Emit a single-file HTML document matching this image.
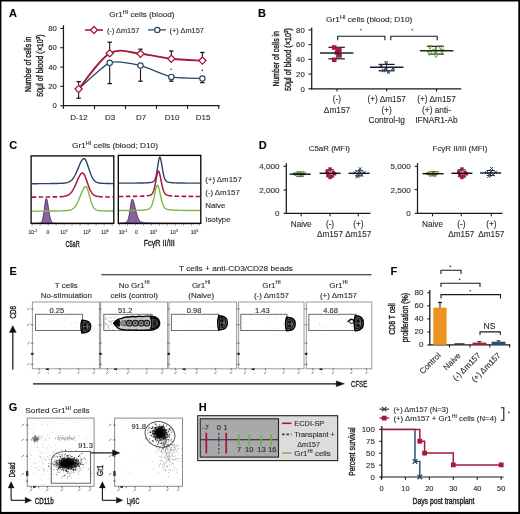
<!DOCTYPE html>
<html><head><meta charset="utf-8"><style>
html,body{margin:0;padding:0;background:#fff;}
svg{display:block;font-family:"Liberation Sans", sans-serif;filter:blur(0.4px);}
text{stroke:#333;stroke-width:0.12px;}
text.c{stroke:#222;stroke-width:0.4px;}
</style></head><body>
<svg width="520" height="514" viewBox="0 0 520 514">
<defs><filter id="bl" x="-50%" y="-50%" width="200%" height="200%"><feGaussianBlur stdDeviation="1.6"/></filter></defs>
<rect x="0" y="0" width="520" height="514" fill="#000" stroke="none" stroke-width="1" />
<rect x="1.4" y="1.5" width="516.9" height="510.4" fill="#fff" stroke="none" stroke-width="1" />
<text x="9" y="17.2" font-size="11" font-weight="bold" fill="#000" >A</text>
<text x="109.2" y="16.9" font-size="7.4" textLength="65.3" lengthAdjust="spacingAndGlyphs" fill="#2a2a2a" >Gr1<tspan font-size="4.88" dy="-2.96">HI</tspan><tspan dy="2.96"> cells (blood)</tspan></text>
<line x1="85" y1="30" x2="103" y2="30" stroke="#a8173c" stroke-width="1.6" />
<path d="M94,26.5 L97.5,30 L94,33.5 L90.5,30 Z" stroke="#a8173c" stroke-width="1.3" fill="#fff" />
<text x="107" y="32.6" font-size="7.4" fill="#2a2a2a" >(-) Δm157</text>
<line x1="148" y1="29.9" x2="166" y2="29.9" stroke="#2b4468" stroke-width="1.25" />
<circle cx="157.3" cy="29.9" r="2.6" fill="#fff" stroke="#2b4468" stroke-width="1.15" />
<text x="169.6" y="32.6" font-size="7.4" fill="#2a2a2a" >(+) Δm157</text>
<line x1="63.45" y1="25.3" x2="63.45" y2="108.8" stroke="#1a1a1a" stroke-width="1.25" />
<line x1="62.8" y1="105.7" x2="219.5" y2="105.7" stroke="#1a1a1a" stroke-width="1.2" />
<line x1="60.3" y1="105.7" x2="63.4" y2="105.7" stroke="#1a1a1a" stroke-width="1.1" />
<text x="56.8" y="108.4" font-size="7.7" text-anchor="end" fill="#2a2a2a" >0</text>
<line x1="60.3" y1="86.38" x2="63.4" y2="86.38" stroke="#1a1a1a" stroke-width="1.1" />
<text x="56.8" y="89.08" font-size="7.7" text-anchor="end" fill="#2a2a2a" >20</text>
<line x1="60.3" y1="67.06" x2="63.4" y2="67.06" stroke="#1a1a1a" stroke-width="1.1" />
<text x="56.8" y="69.76" font-size="7.7" text-anchor="end" fill="#2a2a2a" >40</text>
<line x1="60.3" y1="47.74" x2="63.4" y2="47.74" stroke="#1a1a1a" stroke-width="1.1" />
<text x="56.8" y="50.440000000000005" font-size="7.7" text-anchor="end" fill="#2a2a2a" >60</text>
<line x1="60.3" y1="28.42" x2="63.4" y2="28.42" stroke="#1a1a1a" stroke-width="1.1" />
<text x="56.8" y="31.12" font-size="7.7" text-anchor="end" fill="#2a2a2a" >80</text>
<line x1="94.5" y1="105.7" x2="94.5" y2="109" stroke="#1a1a1a" stroke-width="1.1" />
<line x1="125.5" y1="105.7" x2="125.5" y2="109" stroke="#1a1a1a" stroke-width="1.1" />
<line x1="156.5" y1="105.7" x2="156.5" y2="109" stroke="#1a1a1a" stroke-width="1.1" />
<line x1="187.5" y1="105.7" x2="187.5" y2="109" stroke="#1a1a1a" stroke-width="1.1" />
<line x1="218.8" y1="105.7" x2="218.8" y2="109" stroke="#1a1a1a" stroke-width="1.1" />
<text x="79" y="119.6" font-size="8" text-anchor="middle" fill="#2a2a2a" >D-12</text>
<text x="110" y="119.6" font-size="8" text-anchor="middle" fill="#2a2a2a" >D3</text>
<text x="141" y="119.6" font-size="8" text-anchor="middle" fill="#2a2a2a" >D7</text>
<text x="172" y="119.6" font-size="8" text-anchor="middle" fill="#2a2a2a" >D10</text>
<text x="203" y="119.6" font-size="8" text-anchor="middle" fill="#2a2a2a" >D15</text>
<text class="c" transform="translate(31.2,64.3) rotate(-90)" font-size="9.6" text-anchor="middle" textLength="55.5" lengthAdjust="spacingAndGlyphs" fill="#2a2a2a">Number of cells in</text>
<text class="c" transform="translate(43.4,65.6) rotate(-90)" font-size="9.6" text-anchor="middle" textLength="62.5" lengthAdjust="spacingAndGlyphs" fill="#2a2a2a">50μl of blood (×10<tspan font-size="6" dy="-3">3</tspan><tspan dy="3">)</tspan></text>
<line x1="78.6" y1="89" x2="78.6" y2="81.6" stroke="#1a1a1a" stroke-width="1.1" />
<line x1="76.39999999999999" y1="81.6" x2="80.8" y2="81.6" stroke="#1a1a1a" stroke-width="1.3" />
<line x1="78.6" y1="89" x2="78.6" y2="98.2" stroke="#1a1a1a" stroke-width="1.1" />
<line x1="76.39999999999999" y1="98.2" x2="80.8" y2="98.2" stroke="#1a1a1a" stroke-width="1.3" />
<line x1="109.7" y1="53.3" x2="109.7" y2="42.2" stroke="#1a1a1a" stroke-width="1.1" />
<line x1="107.5" y1="42.2" x2="111.9" y2="42.2" stroke="#1a1a1a" stroke-width="1.3" />
<line x1="109.7" y1="62.8" x2="109.7" y2="83.6" stroke="#1a1a1a" stroke-width="1.1" />
<line x1="107.5" y1="83.6" x2="111.9" y2="83.6" stroke="#1a1a1a" stroke-width="1.3" />
<line x1="140.5" y1="53.8" x2="140.5" y2="49.2" stroke="#1a1a1a" stroke-width="1.1" />
<line x1="138.3" y1="49.2" x2="142.7" y2="49.2" stroke="#1a1a1a" stroke-width="1.3" />
<line x1="140.5" y1="65.6" x2="140.5" y2="81.2" stroke="#1a1a1a" stroke-width="1.1" />
<line x1="138.3" y1="81.2" x2="142.7" y2="81.2" stroke="#1a1a1a" stroke-width="1.3" />
<line x1="171.3" y1="58.8" x2="171.3" y2="51.0" stroke="#1a1a1a" stroke-width="1.1" />
<line x1="169.10000000000002" y1="51.0" x2="173.5" y2="51.0" stroke="#1a1a1a" stroke-width="1.3" />
<line x1="171.3" y1="76.9" x2="171.3" y2="81.2" stroke="#1a1a1a" stroke-width="1.1" />
<line x1="169.10000000000002" y1="81.2" x2="173.5" y2="81.2" stroke="#1a1a1a" stroke-width="1.3" />
<line x1="202.4" y1="60.6" x2="202.4" y2="52.5" stroke="#1a1a1a" stroke-width="1.1" />
<line x1="200.20000000000002" y1="52.5" x2="204.6" y2="52.5" stroke="#1a1a1a" stroke-width="1.3" />
<line x1="202.4" y1="78.5" x2="202.4" y2="82.6" stroke="#1a1a1a" stroke-width="1.1" />
<line x1="200.20000000000002" y1="82.6" x2="204.6" y2="82.6" stroke="#1a1a1a" stroke-width="1.3" />
<path d="M78.60,89.00 C81.71,86.38 103.51,65.14 109.70,62.80 C115.89,60.46 134.34,64.19 140.50,65.60 C146.66,67.01 165.11,75.61 171.30,76.90 C177.49,78.19 199.29,78.34 202.40,78.50" stroke="#2b4468" stroke-width="1.25" fill="none" />
<path d="M78.60,89.00 C83.78,83.05 99.38,59.17 109.70,53.30 C120.02,47.43 130.23,52.88 140.50,53.80 C150.77,54.72 160.98,57.67 171.30,58.80 C181.62,59.93 197.22,60.30 202.40,60.60" stroke="#a8173c" stroke-width="1.9" fill="none" />
<circle cx="109.7" cy="62.8" r="2.7" fill="#fff" stroke="#2b4468" stroke-width="1.15" />
<circle cx="140.5" cy="65.6" r="2.7" fill="#fff" stroke="#2b4468" stroke-width="1.15" />
<circle cx="171.3" cy="76.9" r="2.7" fill="#fff" stroke="#2b4468" stroke-width="1.15" />
<circle cx="202.4" cy="78.5" r="2.7" fill="#fff" stroke="#2b4468" stroke-width="1.15" />
<path d="M78.6,85.4 L82.19999999999999,89 L78.6,92.6 L75.0,89 Z" stroke="#a8173c" stroke-width="1.3" fill="#fff" />
<path d="M109.7,49.699999999999996 L113.3,53.3 L109.7,56.9 L106.10000000000001,53.3 Z" stroke="#a8173c" stroke-width="1.3" fill="#fff" />
<path d="M140.5,50.199999999999996 L144.1,53.8 L140.5,57.4 L136.9,53.8 Z" stroke="#a8173c" stroke-width="1.3" fill="#fff" />
<path d="M171.3,55.199999999999996 L174.9,58.8 L171.3,62.4 L167.70000000000002,58.8 Z" stroke="#a8173c" stroke-width="1.3" fill="#fff" />
<path d="M202.4,57.0 L206.0,60.6 L202.4,64.2 L198.8,60.6 Z" stroke="#a8173c" stroke-width="1.3" fill="#fff" />
<circle cx="171.1" cy="69.2" r="0.8" fill="#333" stroke="none" stroke-width="1" />
<circle cx="202.2" cy="70.4" r="0.8" fill="#333" stroke="none" stroke-width="1" />
<text x="258" y="17.2" font-size="11" font-weight="bold" fill="#000" >B</text>
<text x="326.1" y="22.2" font-size="7.2" textLength="86.2" lengthAdjust="spacingAndGlyphs" fill="#2a2a2a" >Gr1<tspan font-size="4.75" dy="-2.88">HI</tspan><tspan dy="2.88"> cells (blood; D10)</tspan></text>
<line x1="311.7" y1="27.4" x2="311.7" y2="89.4" stroke="#1a1a1a" stroke-width="1.25" />
<line x1="311" y1="88.8" x2="461.3" y2="88.8" stroke="#1a1a1a" stroke-width="1.2" />
<line x1="308.4" y1="88.8" x2="311.7" y2="88.8" stroke="#1a1a1a" stroke-width="1.1" />
<text x="304.8" y="91.5" font-size="7.8" text-anchor="end" fill="#2a2a2a" >0</text>
<line x1="308.4" y1="74.08" x2="311.7" y2="74.08" stroke="#1a1a1a" stroke-width="1.1" />
<text x="304.8" y="76.78" font-size="7.8" text-anchor="end" fill="#2a2a2a" >20</text>
<line x1="308.4" y1="59.36" x2="311.7" y2="59.36" stroke="#1a1a1a" stroke-width="1.1" />
<text x="304.8" y="62.06" font-size="7.8" text-anchor="end" fill="#2a2a2a" >40</text>
<line x1="308.4" y1="44.64" x2="311.7" y2="44.64" stroke="#1a1a1a" stroke-width="1.1" />
<text x="304.8" y="47.34" font-size="7.8" text-anchor="end" fill="#2a2a2a" >60</text>
<line x1="308.4" y1="29.92" x2="311.7" y2="29.92" stroke="#1a1a1a" stroke-width="1.1" />
<text x="304.8" y="32.620000000000005" font-size="7.8" text-anchor="end" fill="#2a2a2a" >80</text>
<line x1="337" y1="88.8" x2="337" y2="91.6" stroke="#1a1a1a" stroke-width="1.1" />
<line x1="386.7" y1="88.8" x2="386.7" y2="91.6" stroke="#1a1a1a" stroke-width="1.1" />
<line x1="436.5" y1="88.8" x2="436.5" y2="91.6" stroke="#1a1a1a" stroke-width="1.1" />
<text class="c" transform="translate(278.6,58.8) rotate(-90)" font-size="9" text-anchor="middle" textLength="55.5" lengthAdjust="spacingAndGlyphs" fill="#2a2a2a">Number of cells in</text>
<text class="c" transform="translate(291,59.6) rotate(-90)" font-size="9" text-anchor="middle" textLength="63" lengthAdjust="spacingAndGlyphs" fill="#2a2a2a">50μl of blood (×10<tspan font-size="5.6" dy="-2.8">3</tspan><tspan dy="2.8">)</tspan></text>
<path d="M337.7,40.3 V36.3 H384.9 V40.3" stroke="#1a1a1a" stroke-width="1.1" fill="none" />
<path d="M390.8,40.3 V36.3 H437.2 V40.3" stroke="#1a1a1a" stroke-width="1.1" fill="none" />
<circle cx="361" cy="29.8" r="0.8" fill="#333" stroke="none" stroke-width="1" />
<circle cx="412.3" cy="29.8" r="0.8" fill="#333" stroke="none" stroke-width="1" />
<line x1="336.8" y1="47.3" x2="336.8" y2="58.8" stroke="#1a1a1a" stroke-width="1" />
<line x1="328.4" y1="47.3" x2="344.9" y2="47.3" stroke="#1a1a1a" stroke-width="1.2" />
<line x1="328.4" y1="58.8" x2="344.9" y2="58.8" stroke="#1a1a1a" stroke-width="1.2" />
<rect x="331.9" y="45.2" width="4.6" height="4.6" fill="#a8173c" stroke="none" stroke-width="1" />
<rect x="337.0" y="47.5" width="4.6" height="4.6" fill="#a8173c" stroke="none" stroke-width="1" />
<rect x="337.2" y="53.1" width="4.6" height="4.6" fill="#a8173c" stroke="none" stroke-width="1" />
<rect x="331.9" y="57.5" width="4.6" height="4.6" fill="#a8173c" stroke="none" stroke-width="1" />
<rect x="334.7" y="50.2" width="4.6" height="4.6" fill="#a8173c" stroke="none" stroke-width="1" />
<line x1="320" y1="53" x2="353.4" y2="53" stroke="#1a2620" stroke-width="1.4" />
<line x1="386.6" y1="64.4" x2="386.6" y2="70.8" stroke="#1a1a1a" stroke-width="1" />
<line x1="378.5" y1="64.4" x2="394.6" y2="64.4" stroke="#1a1a1a" stroke-width="1.2" />
<line x1="378.5" y1="70.8" x2="394.6" y2="70.8" stroke="#1a1a1a" stroke-width="1.2" />
<line x1="384.59999999999997" y1="61.199999999999996" x2="387.8" y2="64.39999999999999" stroke="#2b4468" stroke-width="1.1" />
<line x1="384.59999999999997" y1="64.39999999999999" x2="387.8" y2="61.199999999999996" stroke="#2b4468" stroke-width="1.1" />
<line x1="384.4" y1="67.4" x2="387.6" y2="70.6" stroke="#2b4468" stroke-width="1.1" />
<line x1="384.4" y1="70.6" x2="387.6" y2="67.4" stroke="#2b4468" stroke-width="1.1" />
<line x1="391.4" y1="67.0" x2="394.6" y2="70.19999999999999" stroke="#2b4468" stroke-width="1.1" />
<line x1="391.4" y1="70.19999999999999" x2="394.6" y2="67.0" stroke="#2b4468" stroke-width="1.1" />
<line x1="379.59999999999997" y1="64.4" x2="382.8" y2="67.6" stroke="#2b4468" stroke-width="1.1" />
<line x1="379.59999999999997" y1="67.6" x2="382.8" y2="64.4" stroke="#2b4468" stroke-width="1.1" />
<line x1="386.9" y1="70.4" x2="390.1" y2="73.6" stroke="#2b4468" stroke-width="1.1" />
<line x1="386.9" y1="73.6" x2="390.1" y2="70.4" stroke="#2b4468" stroke-width="1.1" />
<line x1="381.9" y1="68.9" x2="385.1" y2="72.1" stroke="#2b4468" stroke-width="1.1" />
<line x1="381.9" y1="72.1" x2="385.1" y2="68.9" stroke="#2b4468" stroke-width="1.1" />
<line x1="370" y1="67.3" x2="403.5" y2="67.3" stroke="#15202c" stroke-width="1.4" />
<line x1="436" y1="46.3" x2="436" y2="54.1" stroke="#1a1a1a" stroke-width="1" />
<line x1="427" y1="46.3" x2="443.9" y2="46.3" stroke="#1a1a1a" stroke-width="1.2" />
<line x1="428.2" y1="54.1" x2="443.9" y2="54.1" stroke="#1a1a1a" stroke-width="1.2" />
<path d="M427.7,45.46 H432.09999999999997 L429.9,49.2 Z" stroke="#6aa84f" stroke-width="1.0" fill="none" />
<path d="M432.6,49.26 H437.0 L434.8,53.0 Z" stroke="#6aa84f" stroke-width="1.0" fill="none" />
<path d="M438.40000000000003,45.660000000000004 H442.8 L440.6,49.400000000000006 Z" stroke="#6aa84f" stroke-width="1.0" fill="none" />
<path d="M433.8,53.96 H438.2 L436,57.7 Z" stroke="#6aa84f" stroke-width="1.0" fill="none" />
<path d="M427.40000000000003,51.660000000000004 H431.8 L429.6,55.400000000000006 Z" stroke="#6aa84f" stroke-width="1.0" fill="none" />
<path d="M439.8,49.46 H444.2 L442,53.2 Z" stroke="#6aa84f" stroke-width="1.0" fill="none" />
<line x1="420" y1="50.8" x2="453.4" y2="50.8" stroke="#1c2a14" stroke-width="1.4" />
<text x="337" y="102.4" font-size="8.3" text-anchor="middle" fill="#2a2a2a" >(-)</text>
<text x="337" y="112.7" font-size="8.3" text-anchor="middle" fill="#2a2a2a" >Δm157</text>
<text x="386.7" y="102.4" font-size="8.3" text-anchor="middle" fill="#2a2a2a" >(+) Δm157</text>
<text x="386.7" y="112.7" font-size="8.3" text-anchor="middle" fill="#2a2a2a" >(+)</text>
<text x="386.7" y="123.0" font-size="8.3" text-anchor="middle" fill="#2a2a2a" >Control-Ig</text>
<text x="436.5" y="102.4" font-size="8.3" text-anchor="middle" fill="#2a2a2a" >(+) Δm157</text>
<text x="436.5" y="112.7" font-size="8.3" text-anchor="middle" fill="#2a2a2a" >(+) anti-</text>
<text x="436.5" y="123.0" font-size="8.3" text-anchor="middle" fill="#2a2a2a" >IFNAR1-Ab</text>
<text x="9.2" y="149" font-size="11" font-weight="bold" fill="#000" >C</text>
<text x="72.1" y="148.1" font-size="7.2" textLength="85.8" lengthAdjust="spacingAndGlyphs" fill="#2a2a2a" >Gr1<tspan font-size="4.75" dy="-2.88">HI</tspan><tspan dy="2.88"> cells (blood; D10)</tspan></text>
<rect x="31.1" y="155.9" width="82.69999999999999" height="67.5" fill="#fff" stroke="none" stroke-width="1" />
<path d="M31.60,223.34 L32.11,223.33 L32.62,223.33 L33.13,223.32 L33.64,223.32 L34.15,223.31 L34.66,223.30 L35.17,223.30 L35.69,223.29 L36.20,223.27 L36.71,223.26 L37.22,223.25 L37.73,223.23 L38.24,223.20 L38.75,223.17 L39.26,223.13 L39.77,223.06 L40.28,222.93 L40.79,222.69 L41.30,222.25 L41.81,221.49 L42.32,220.25 L42.83,218.36 L43.34,215.73 L43.86,212.38 L44.37,208.52 L44.88,204.59 L45.39,201.19 L45.90,198.97 L46.41,198.43 L46.92,199.40 L47.43,201.55 L47.94,204.53 L48.45,207.92 L48.96,211.31 L49.47,214.39 L49.98,216.98 L50.49,219.01 L51.00,220.49 L51.51,221.52 L52.02,222.19 L52.54,222.60 L53.05,222.85 L53.56,223.00 L54.07,223.09 L54.58,223.14 L55.09,223.18 L55.60,223.20 L56.11,223.22 L56.62,223.24 L57.13,223.25 L57.64,223.27 L58.15,223.28 L58.66,223.29 L59.17,223.30 L59.68,223.30 L60.19,223.31 L60.71,223.32 L61.22,223.32 L61.73,223.33 L62.24,223.33 L62.75,223.33 L63.26,223.34 L63.77,223.34 L64.28,223.35 L64.79,223.35 L65.30,223.35 L65.81,223.35 L66.32,223.36 L66.83,223.36 L67.34,223.36 L67.85,223.36 L68.37,223.36 L68.88,223.36 L69.39,223.37 L69.90,223.37 L70.41,223.37 L70.92,223.37 L71.43,223.37 L71.94,223.37 L72.45,223.37 L72.96,223.37 L73.47,223.38 L73.98,223.38 L74.49,223.38 L75.00,223.38 L75.51,223.38 L76.02,223.38 L76.53,223.38 L77.05,223.38 L77.56,223.38 L78.07,223.38 L78.58,223.38 L79.09,223.38 L79.60,223.38 L80.11,223.38 L80.62,223.38 L81.13,223.39 L81.64,223.39 L82.15,223.39 L82.66,223.39 L83.17,223.39 L83.68,223.39 L84.19,223.39 L84.70,223.39 L85.22,223.39 L85.73,223.39 L86.24,223.39 L86.75,223.39 L87.26,223.39 L87.77,223.39 L88.28,223.39 L88.79,223.39 L89.30,223.39 L89.81,223.39 L90.32,223.39 L90.83,223.39 L91.34,223.39 L91.85,223.39 L92.36,223.39 L92.88,223.39 L93.39,223.39 L93.90,223.39 L94.41,223.39 L94.92,223.39 L95.43,223.39 L95.94,223.39 L96.45,223.39 L96.96,223.39 L97.47,223.39 L97.98,223.39 L98.49,223.39 L99.00,223.39 L99.51,223.39 L100.02,223.39 L100.53,223.39 L101.04,223.39 L101.56,223.39 L102.07,223.39 L102.58,223.39 L103.09,223.39 L103.60,223.39 L104.11,223.39 L104.62,223.39 L105.13,223.39 L105.64,223.39 L106.15,223.39 L106.66,223.40 L107.17,223.40 L107.68,223.40 L108.19,223.40 L108.70,223.40 L109.21,223.40 L109.73,223.40 L110.24,223.40 L110.75,223.40 L111.26,223.40 L111.77,223.40 L112.28,223.40 L112.79,223.40 L113.30,223.40 L113.3,223.4 L31.6,223.4 Z" stroke="#4b2a63" stroke-width="0.9" fill="#8a62a4" />
<path d="M31.60,183.70 L32.11,183.70 L32.62,183.70 L33.13,183.70 L33.64,183.69 L34.15,183.69 L34.66,183.69 L35.17,183.69 L35.69,183.69 L36.20,183.68 L36.71,183.68 L37.22,183.68 L37.73,183.68 L38.24,183.67 L38.75,183.67 L39.26,183.67 L39.77,183.66 L40.28,183.66 L40.79,183.66 L41.30,183.66 L41.81,183.65 L42.32,183.65 L42.83,183.64 L43.34,183.64 L43.86,183.64 L44.37,183.63 L44.88,183.63 L45.39,183.62 L45.90,183.62 L46.41,183.61 L46.92,183.61 L47.43,183.60 L47.94,183.60 L48.45,183.59 L48.96,183.59 L49.47,183.58 L49.98,183.58 L50.49,183.57 L51.00,183.56 L51.51,183.55 L52.02,183.55 L52.54,183.54 L53.05,183.53 L53.56,183.52 L54.07,183.51 L54.58,183.50 L55.09,183.49 L55.60,183.48 L56.11,183.47 L56.62,183.46 L57.13,183.45 L57.64,183.44 L58.15,183.42 L58.66,183.41 L59.17,183.39 L59.68,183.37 L60.19,183.35 L60.71,183.33 L61.22,183.31 L61.73,183.28 L62.24,183.26 L62.75,183.22 L63.26,183.19 L63.77,183.14 L64.28,183.09 L64.79,183.04 L65.30,182.97 L65.81,182.89 L66.32,182.79 L66.83,182.68 L67.34,182.55 L67.85,182.40 L68.37,182.21 L68.88,182.00 L69.39,181.74 L69.90,181.45 L70.41,181.11 L70.92,180.72 L71.43,180.27 L71.94,179.76 L72.45,179.19 L72.96,178.54 L73.47,177.83 L73.98,177.04 L74.49,176.17 L75.00,175.23 L75.51,174.23 L76.02,173.15 L76.53,172.02 L77.05,170.84 L77.56,169.63 L78.07,168.39 L78.58,167.14 L79.09,165.90 L79.60,164.69 L80.11,163.53 L80.62,162.44 L81.13,161.45 L81.64,160.57 L82.15,159.83 L82.66,159.26 L83.17,158.85 L83.68,158.64 L84.19,158.62 L84.70,158.89 L85.22,159.44 L85.73,160.26 L86.24,161.31 L86.75,162.55 L87.26,163.93 L87.77,165.42 L88.28,166.96 L88.79,168.52 L89.30,170.06 L89.81,171.56 L90.32,172.99 L90.83,174.34 L91.34,175.58 L91.85,176.70 L92.36,177.72 L92.88,178.61 L93.39,179.40 L93.90,180.08 L94.41,180.66 L94.92,181.15 L95.43,181.56 L95.94,181.90 L96.45,182.18 L96.96,182.41 L97.47,182.60 L97.98,182.75 L98.49,182.88 L99.00,182.98 L99.51,183.06 L100.02,183.13 L100.53,183.18 L101.04,183.23 L101.56,183.27 L102.07,183.30 L102.58,183.33 L103.09,183.36 L103.60,183.38 L104.11,183.40 L104.62,183.42 L105.13,183.44 L105.64,183.45 L106.15,183.47 L106.66,183.48 L107.17,183.50 L107.68,183.51 L108.19,183.52 L108.70,183.53 L109.21,183.54 L109.73,183.55 L110.24,183.56 L110.75,183.57 L111.26,183.58 L111.77,183.58 L112.28,183.59 L112.79,183.60 L113.30,183.60" stroke="#2b4468" stroke-width="1.4" fill="none" />
<path d="M31.60,197.10 L32.38,197.10 L33.16,197.09 L33.93,197.09 L34.71,197.09 L35.49,197.08 L36.27,197.08 L37.04,197.08 L37.82,197.07 L38.60,197.07 L39.38,197.06 L40.15,197.06 L40.93,197.05 L41.71,197.05 L42.48,197.04 L43.26,197.04 L44.04,197.03 L44.82,197.02 L45.59,197.02 L46.37,197.01 L47.15,197.00 L47.93,196.99 L48.70,196.98 L49.48,196.97 L50.26,196.96 L51.04,196.95 L51.81,196.94 L52.59,196.92 L53.37,196.91 L54.15,196.90 L54.92,196.88 L55.70,196.86 L56.48,196.84 L57.26,196.82 L58.04,196.79 L58.81,196.77 L59.59,196.74 L60.37,196.70 L61.14,196.65 L61.92,196.60 L62.70,196.53" stroke="#a8173c" stroke-width="1.6" fill="none" stroke-dasharray="4.6,2.4"/>
<path d="M62.70,196.53 L62.92,196.51 L63.15,196.48 L63.37,196.46 L63.59,196.43 L63.81,196.40 L64.04,196.37 L64.26,196.33 L64.48,196.30 L64.70,196.26 L64.93,196.21 L65.15,196.17 L65.37,196.12 L65.60,196.06 L65.82,196.01 L66.04,195.95 L66.26,195.88 L66.49,195.81 L66.71,195.73 L66.93,195.65 L67.16,195.56 L67.38,195.47 L67.60,195.37 L67.82,195.26 L68.05,195.14 L68.27,195.02 L68.49,194.89 L68.71,194.75 L68.94,194.60 L69.16,194.44 L69.38,194.27 L69.61,194.09 L69.83,193.90 L70.05,193.70 L70.27,193.49 L70.50,193.26 L70.72,193.03 L70.94,192.78 L71.16,192.52 L71.39,192.24 L71.61,191.96 L71.83,191.66 L72.06,191.34 L72.28,191.01 L72.50,190.67 L72.72,190.32 L72.95,189.95 L73.17,189.57 L73.39,189.17 L73.61,188.77 L73.84,188.35 L74.06,187.91 L74.28,187.47 L74.51,187.01 L74.73,186.55 L74.95,186.07 L75.17,185.59 L75.40,185.09 L75.62,184.59 L75.84,184.08 L76.06,183.57 L76.29,183.05 L76.51,182.53 L76.73,182.01 L76.96,181.48 L77.18,180.96 L77.40,180.44 L77.62,179.92 L77.85,179.41 L78.07,178.91 L78.29,178.42 L78.52,177.93 L78.74,177.46 L78.96,177.00 L79.18,176.56 L79.41,176.14 L79.63,175.74 L79.85,175.35 L80.07,174.99 L80.30,174.66 L80.52,174.35 L80.74,174.07 L80.97,173.83 L81.19,173.61 L81.41,173.42 L81.63,173.27 L81.86,173.15 L82.08,173.06 L82.30,173.01 L82.52,173.00 L82.75,173.03 L82.97,173.12 L83.19,173.27 L83.42,173.46 L83.64,173.71 L83.86,174.01 L84.08,174.35 L84.31,174.74 L84.53,175.17 L84.75,175.64 L84.97,176.14 L85.20,176.67 L85.42,177.23 L85.64,177.81 L85.87,178.42 L86.09,179.03 L86.31,179.67 L86.53,180.31 L86.76,180.96 L86.98,181.61 L87.20,182.27 L87.43,182.92 L87.65,183.57 L87.87,184.21 L88.09,184.84 L88.32,185.46 L88.54,186.07 L88.76,186.67 L88.98,187.24 L89.21,187.80 L89.43,188.35 L89.65,188.87 L89.88,189.37 L90.10,189.86 L90.32,190.32 L90.54,190.76 L90.77,191.18 L90.99,191.58 L91.21,191.96 L91.43,192.31 L91.66,192.65 L91.88,192.97 L92.10,193.26 L92.33,193.54 L92.55,193.80 L92.77,194.04 L92.99,194.27 L93.22,194.48 L93.44,194.67 L93.66,194.85 L93.89,195.02 L94.11,195.17 L94.33,195.31 L94.55,195.44 L94.78,195.56 L95.00,195.67 L95.22,195.77 L95.44,195.86 L95.67,195.95 L95.89,196.02 L96.11,196.09 L96.34,196.16 L96.56,196.21 L96.78,196.27 L97.00,196.32 L97.23,196.36 L97.45,196.40 L97.67,196.44 L97.89,196.47 L98.12,196.50 L98.34,196.53" stroke="#a8173c" stroke-width="1.5" fill="none" />
<path d="M98.34,196.53 L98.71,196.57 L99.09,196.61 L99.46,196.64 L99.84,196.67 L100.21,196.70 L100.58,196.72 L100.96,196.74 L101.33,196.76 L101.71,196.78 L102.08,196.80 L102.45,196.81 L102.83,196.82 L103.20,196.84 L103.58,196.85 L103.95,196.86 L104.32,196.87 L104.70,196.88 L105.07,196.89 L105.45,196.90 L105.82,196.91 L106.19,196.92 L106.57,196.93 L106.94,196.94 L107.32,196.94 L107.69,196.95 L108.06,196.96 L108.44,196.96 L108.81,196.97 L109.19,196.98 L109.56,196.98 L109.93,196.99 L110.31,196.99 L110.68,197.00 L111.06,197.00 L111.43,197.01 L111.80,197.01 L112.18,197.02 L112.55,197.02 L112.93,197.03 L113.30,197.03" stroke="#a8173c" stroke-width="1.6" fill="none" stroke-dasharray="4.6,2.4"/>
<path d="M31.60,211.12 L32.11,211.12 L32.62,211.12 L33.13,211.12 L33.64,211.12 L34.15,211.11 L34.66,211.11 L35.17,211.11 L35.69,211.11 L36.20,211.11 L36.71,211.11 L37.22,211.10 L37.73,211.10 L38.24,211.10 L38.75,211.10 L39.26,211.09 L39.77,211.09 L40.28,211.09 L40.79,211.09 L41.30,211.09 L41.81,211.08 L42.32,211.08 L42.83,211.08 L43.34,211.07 L43.86,211.07 L44.37,211.07 L44.88,211.07 L45.39,211.06 L45.90,211.06 L46.41,211.05 L46.92,211.05 L47.43,211.05 L47.94,211.04 L48.45,211.04 L48.96,211.03 L49.47,211.03 L49.98,211.03 L50.49,211.02 L51.00,211.02 L51.51,211.01 L52.02,211.00 L52.54,211.00 L53.05,210.99 L53.56,210.99 L54.07,210.98 L54.58,210.97 L55.09,210.97 L55.60,210.96 L56.11,210.95 L56.62,210.94 L57.13,210.93 L57.64,210.92 L58.15,210.91 L58.66,210.90 L59.17,210.89 L59.68,210.88 L60.19,210.87 L60.71,210.86 L61.22,210.84 L61.73,210.83 L62.24,210.81 L62.75,210.79 L63.26,210.78 L63.77,210.75 L64.28,210.73 L64.79,210.71 L65.30,210.68 L65.81,210.65 L66.32,210.61 L66.83,210.56 L67.34,210.51 L67.85,210.45 L68.37,210.38 L68.88,210.30 L69.39,210.20 L69.90,210.07 L70.41,209.93 L70.92,209.76 L71.43,209.55 L71.94,209.30 L72.45,209.02 L72.96,208.68 L73.47,208.28 L73.98,207.82 L74.49,207.30 L75.00,206.70 L75.51,206.02 L76.02,205.26 L76.53,204.42 L77.05,203.50 L77.56,202.49 L78.07,201.41 L78.58,200.26 L79.09,199.04 L79.60,197.78 L80.11,196.48 L80.62,195.17 L81.13,193.87 L81.64,192.59 L82.15,191.37 L82.66,190.23 L83.17,189.19 L83.68,188.29 L84.19,187.55 L84.70,187.00 L85.22,186.64 L85.73,186.50 L86.24,186.67 L86.75,187.30 L87.26,188.34 L87.77,189.73 L88.28,191.38 L88.79,193.20 L89.30,195.12 L89.81,197.05 L90.32,198.92 L90.83,200.70 L91.34,202.34 L91.85,203.81 L92.36,205.10 L92.88,206.22 L93.39,207.15 L93.90,207.93 L94.41,208.56 L94.92,209.07 L95.43,209.47 L95.94,209.78 L96.45,210.02 L96.96,210.20 L97.47,210.35 L97.98,210.45 L98.49,210.54 L99.00,210.61 L99.51,210.66 L100.02,210.70 L100.53,210.74 L101.04,210.77 L101.56,210.80 L102.07,210.82 L102.58,210.85 L103.09,210.87 L103.60,210.88 L104.11,210.90 L104.62,210.92 L105.13,210.93 L105.64,210.94 L106.15,210.95 L106.66,210.97 L107.17,210.98 L107.68,210.99 L108.19,211.00 L108.70,211.00 L109.21,211.01 L109.73,211.02 L110.24,211.03 L110.75,211.03 L111.26,211.04 L111.77,211.05 L112.28,211.05 L112.79,211.06 L113.30,211.06" stroke="#7cb84a" stroke-width="1.4" fill="none" />
<rect x="31.1" y="155.9" width="82.69999999999999" height="67.5" fill="none" stroke="#000" stroke-width="1.3" />
<line x1="32.1" y1="223.4" x2="32.1" y2="225.6" stroke="#333" stroke-width="0.6" />
<line x1="34.1" y1="223.4" x2="34.1" y2="224.6" stroke="#333" stroke-width="0.6" />
<line x1="36.1" y1="223.4" x2="36.1" y2="224.6" stroke="#333" stroke-width="0.6" />
<line x1="38.1" y1="223.4" x2="38.1" y2="224.6" stroke="#333" stroke-width="0.6" />
<line x1="40.1" y1="223.4" x2="40.1" y2="225.6" stroke="#333" stroke-width="0.6" />
<line x1="42.1" y1="223.4" x2="42.1" y2="224.6" stroke="#333" stroke-width="0.6" />
<line x1="44.1" y1="223.4" x2="44.1" y2="224.6" stroke="#333" stroke-width="0.6" />
<line x1="46.1" y1="223.4" x2="46.1" y2="224.6" stroke="#333" stroke-width="0.6" />
<line x1="48.1" y1="223.4" x2="48.1" y2="225.6" stroke="#333" stroke-width="0.6" />
<line x1="50.1" y1="223.4" x2="50.1" y2="224.6" stroke="#333" stroke-width="0.6" />
<line x1="52.1" y1="223.4" x2="52.1" y2="224.6" stroke="#333" stroke-width="0.6" />
<line x1="54.1" y1="223.4" x2="54.1" y2="224.6" stroke="#333" stroke-width="0.6" />
<line x1="56.1" y1="223.4" x2="56.1" y2="225.6" stroke="#333" stroke-width="0.6" />
<line x1="58.1" y1="223.4" x2="58.1" y2="224.6" stroke="#333" stroke-width="0.6" />
<line x1="60.1" y1="223.4" x2="60.1" y2="224.6" stroke="#333" stroke-width="0.6" />
<line x1="62.1" y1="223.4" x2="62.1" y2="224.6" stroke="#333" stroke-width="0.6" />
<line x1="64.1" y1="223.4" x2="64.1" y2="225.6" stroke="#333" stroke-width="0.6" />
<line x1="66.1" y1="223.4" x2="66.1" y2="224.6" stroke="#333" stroke-width="0.6" />
<line x1="68.1" y1="223.4" x2="68.1" y2="224.6" stroke="#333" stroke-width="0.6" />
<line x1="70.1" y1="223.4" x2="70.1" y2="224.6" stroke="#333" stroke-width="0.6" />
<line x1="72.1" y1="223.4" x2="72.1" y2="225.6" stroke="#333" stroke-width="0.6" />
<line x1="74.1" y1="223.4" x2="74.1" y2="224.6" stroke="#333" stroke-width="0.6" />
<line x1="76.1" y1="223.4" x2="76.1" y2="224.6" stroke="#333" stroke-width="0.6" />
<line x1="78.1" y1="223.4" x2="78.1" y2="224.6" stroke="#333" stroke-width="0.6" />
<line x1="80.1" y1="223.4" x2="80.1" y2="225.6" stroke="#333" stroke-width="0.6" />
<line x1="82.1" y1="223.4" x2="82.1" y2="224.6" stroke="#333" stroke-width="0.6" />
<line x1="84.1" y1="223.4" x2="84.1" y2="224.6" stroke="#333" stroke-width="0.6" />
<line x1="86.1" y1="223.4" x2="86.1" y2="224.6" stroke="#333" stroke-width="0.6" />
<line x1="88.1" y1="223.4" x2="88.1" y2="225.6" stroke="#333" stroke-width="0.6" />
<line x1="90.1" y1="223.4" x2="90.1" y2="224.6" stroke="#333" stroke-width="0.6" />
<line x1="92.1" y1="223.4" x2="92.1" y2="224.6" stroke="#333" stroke-width="0.6" />
<line x1="94.1" y1="223.4" x2="94.1" y2="224.6" stroke="#333" stroke-width="0.6" />
<line x1="96.1" y1="223.4" x2="96.1" y2="225.6" stroke="#333" stroke-width="0.6" />
<line x1="98.1" y1="223.4" x2="98.1" y2="224.6" stroke="#333" stroke-width="0.6" />
<line x1="100.1" y1="223.4" x2="100.1" y2="224.6" stroke="#333" stroke-width="0.6" />
<line x1="102.1" y1="223.4" x2="102.1" y2="224.6" stroke="#333" stroke-width="0.6" />
<line x1="104.1" y1="223.4" x2="104.1" y2="225.6" stroke="#333" stroke-width="0.6" />
<line x1="106.1" y1="223.4" x2="106.1" y2="224.6" stroke="#333" stroke-width="0.6" />
<line x1="108.1" y1="223.4" x2="108.1" y2="224.6" stroke="#333" stroke-width="0.6" />
<line x1="110.1" y1="223.4" x2="110.1" y2="224.6" stroke="#333" stroke-width="0.6" />
<line x1="112.1" y1="223.4" x2="112.1" y2="225.6" stroke="#333" stroke-width="0.6" />
<rect x="118.3" y="155.4" width="82.50000000000001" height="68.0" fill="#fff" stroke="none" stroke-width="1" />
<path d="M118.80,223.17 L119.31,223.15 L119.82,223.13 L120.33,223.10 L120.84,223.08 L121.35,223.05 L121.86,223.01 L122.37,222.98 L122.88,222.93 L123.38,222.88 L123.89,222.82 L124.40,222.74 L124.91,222.64 L125.42,222.51 L125.93,222.31 L126.44,222.02 L126.95,221.56 L127.46,220.85 L127.97,219.77 L128.48,218.21 L128.99,216.07 L129.50,213.33 L130.01,210.09 L130.52,206.59 L131.03,203.24 L131.53,200.61 L132.04,199.28 L132.55,199.36 L133.06,200.14 L133.57,201.48 L134.08,203.25 L134.59,205.29 L135.10,207.47 L135.61,209.66 L136.12,211.77 L136.63,213.71 L137.14,215.44 L137.65,216.94 L138.16,218.21 L138.67,219.25 L139.18,220.08 L139.68,220.74 L140.19,221.25 L140.70,221.63 L141.21,221.92 L141.72,222.15 L142.23,222.31 L142.74,222.44 L143.25,222.55 L143.76,222.63 L144.27,222.69 L144.78,222.75 L145.29,222.80 L145.80,222.84 L146.31,222.88 L146.82,222.91 L147.32,222.94 L147.83,222.97 L148.34,223.00 L148.85,223.02 L149.36,223.04 L149.87,223.06 L150.38,223.08 L150.89,223.09 L151.40,223.11 L151.91,223.12 L152.42,223.14 L152.93,223.15 L153.44,223.16 L153.95,223.17 L154.46,223.18 L154.97,223.19 L155.47,223.20 L155.98,223.21 L156.49,223.22 L157.00,223.22 L157.51,223.23 L158.02,223.24 L158.53,223.24 L159.04,223.25 L159.55,223.25 L160.06,223.26 L160.57,223.26 L161.08,223.27 L161.59,223.27 L162.10,223.28 L162.61,223.28 L163.12,223.29 L163.62,223.29 L164.13,223.29 L164.64,223.30 L165.15,223.30 L165.66,223.30 L166.17,223.30 L166.68,223.31 L167.19,223.31 L167.70,223.31 L168.21,223.32 L168.72,223.32 L169.23,223.32 L169.74,223.32 L170.25,223.32 L170.76,223.33 L171.27,223.33 L171.78,223.33 L172.28,223.33 L172.79,223.33 L173.30,223.33 L173.81,223.34 L174.32,223.34 L174.83,223.34 L175.34,223.34 L175.85,223.34 L176.36,223.34 L176.87,223.34 L177.38,223.35 L177.89,223.35 L178.40,223.35 L178.91,223.35 L179.42,223.35 L179.93,223.35 L180.43,223.35 L180.94,223.35 L181.45,223.35 L181.96,223.36 L182.47,223.36 L182.98,223.36 L183.49,223.36 L184.00,223.36 L184.51,223.36 L185.02,223.36 L185.53,223.36 L186.04,223.36 L186.55,223.36 L187.06,223.36 L187.57,223.36 L188.07,223.36 L188.58,223.37 L189.09,223.37 L189.60,223.37 L190.11,223.37 L190.62,223.37 L191.13,223.37 L191.64,223.37 L192.15,223.37 L192.66,223.37 L193.17,223.37 L193.68,223.37 L194.19,223.37 L194.70,223.37 L195.21,223.37 L195.72,223.37 L196.23,223.37 L196.73,223.37 L197.24,223.37 L197.75,223.37 L198.26,223.37 L198.77,223.37 L199.28,223.38 L199.79,223.38 L200.30,223.38 L200.3,223.4 L118.8,223.4 Z" stroke="#4b2a63" stroke-width="0.9" fill="#8a62a4" />
<path d="M118.80,183.16 L119.31,183.16 L119.82,183.16 L120.33,183.16 L120.84,183.16 L121.35,183.16 L121.86,183.15 L122.37,183.15 L122.88,183.15 L123.38,183.15 L123.89,183.15 L124.40,183.15 L124.91,183.15 L125.42,183.14 L125.93,183.14 L126.44,183.14 L126.95,183.14 L127.46,183.14 L127.97,183.13 L128.48,183.13 L128.99,183.13 L129.50,183.13 L130.01,183.13 L130.52,183.12 L131.03,183.12 L131.53,183.12 L132.04,183.11 L132.55,183.11 L133.06,183.11 L133.57,183.10 L134.08,183.10 L134.59,183.10 L135.10,183.09 L135.61,183.09 L136.12,183.08 L136.63,183.08 L137.14,183.07 L137.65,183.07 L138.16,183.06 L138.67,183.05 L139.18,183.05 L139.68,183.04 L140.19,183.03 L140.70,183.02 L141.21,183.01 L141.72,183.00 L142.23,182.99 L142.74,182.98 L143.25,182.96 L143.76,182.95 L144.27,182.93 L144.78,182.91 L145.29,182.89 L145.80,182.87 L146.31,182.85 L146.82,182.82 L147.32,182.79 L147.83,182.76 L148.34,182.72 L148.85,182.68 L149.36,182.63 L149.87,182.57 L150.38,182.50 L150.89,182.43 L151.40,182.33 L151.91,182.21 L152.42,182.06 L152.93,181.85 L153.44,181.55 L153.95,181.10 L154.46,180.45 L154.97,179.50 L155.47,178.17 L155.98,176.36 L156.49,174.04 L157.00,171.20 L157.51,167.95 L158.02,164.53 L158.53,161.27 L159.04,158.66 L159.55,157.19 L160.06,157.17 L160.57,158.44 L161.08,160.71 L161.59,163.60 L162.10,166.73 L162.61,169.81 L163.12,172.61 L163.62,175.01 L164.13,176.98 L164.64,178.51 L165.15,179.66 L165.66,180.50 L166.17,181.09 L166.68,181.51 L167.19,181.80 L167.70,182.01 L168.21,182.16 L168.72,182.28 L169.23,182.38 L169.74,182.46 L170.25,182.53 L170.76,182.58 L171.27,182.63 L171.78,182.68 L172.28,182.72 L172.79,182.75 L173.30,182.79 L173.81,182.81 L174.32,182.84 L174.83,182.86 L175.34,182.88 L175.85,182.90 L176.36,182.92 L176.87,182.94 L177.38,182.95 L177.89,182.96 L178.40,182.98 L178.91,182.99 L179.42,183.00 L179.93,183.01 L180.43,183.02 L180.94,183.03 L181.45,183.03 L181.96,183.04 L182.47,183.05 L182.98,183.05 L183.49,183.06 L184.00,183.07 L184.51,183.07 L185.02,183.08 L185.53,183.08 L186.04,183.09 L186.55,183.09 L187.06,183.09 L187.57,183.10 L188.07,183.10 L188.58,183.11 L189.09,183.11 L189.60,183.11 L190.11,183.11 L190.62,183.12 L191.13,183.12 L191.64,183.12 L192.15,183.12 L192.66,183.13 L193.17,183.13 L193.68,183.13 L194.19,183.13 L194.70,183.14 L195.21,183.14 L195.72,183.14 L196.23,183.14 L196.73,183.14 L197.24,183.14 L197.75,183.15 L198.26,183.15 L198.77,183.15 L199.28,183.15 L199.79,183.15 L200.30,183.15" stroke="#2b4468" stroke-width="1.4" fill="none" />
<path d="M118.80,196.44 L119.58,196.44 L120.35,196.44 L121.13,196.44 L121.90,196.43 L122.68,196.43 L123.45,196.43 L124.23,196.42 L125.00,196.42 L125.78,196.42 L126.55,196.41 L127.33,196.41 L128.11,196.40 L128.88,196.40 L129.66,196.39 L130.43,196.39 L131.21,196.38 L131.98,196.37 L132.76,196.36 L133.53,196.36 L134.31,196.35 L135.09,196.34 L135.86,196.33 L136.64,196.31 L137.41,196.30 L138.19,196.28 L138.96,196.27 L139.74,196.25 L140.51,196.23 L141.29,196.20 L142.06,196.17 L142.84,196.14 L143.62,196.11 L144.39,196.06 L145.17,196.01 L145.94,195.95 L146.72,195.88 L147.49,195.80 L148.27,195.69 L149.04,195.55 L149.82,195.35" stroke="#a8173c" stroke-width="1.6" fill="none" stroke-dasharray="4.6,2.4"/>
<path d="M149.82,195.35 L149.93,195.32 L150.04,195.28 L150.15,195.24 L150.27,195.20 L150.38,195.15 L150.49,195.10 L150.60,195.05 L150.71,194.99 L150.82,194.93 L150.93,194.86 L151.05,194.79 L151.16,194.72 L151.27,194.64 L151.38,194.55 L151.49,194.46 L151.60,194.36 L151.71,194.25 L151.82,194.14 L151.94,194.01 L152.05,193.88 L152.16,193.74 L152.27,193.59 L152.38,193.42 L152.49,193.25 L152.60,193.06 L152.72,192.86 L152.83,192.65 L152.94,192.43 L153.05,192.19 L153.16,191.93 L153.27,191.66 L153.38,191.38 L153.50,191.08 L153.61,190.76 L153.72,190.43 L153.83,190.07 L153.94,189.70 L154.05,189.32 L154.16,188.91 L154.28,188.49 L154.39,188.05 L154.50,187.59 L154.61,187.12 L154.72,186.63 L154.83,186.12 L154.94,185.60 L155.05,185.06 L155.17,184.51 L155.28,183.94 L155.39,183.36 L155.50,182.78 L155.61,182.18 L155.72,181.57 L155.83,180.96 L155.95,180.35 L156.06,179.73 L156.17,179.12 L156.28,178.50 L156.39,177.89 L156.50,177.29 L156.61,176.70 L156.73,176.12 L156.84,175.56 L156.95,175.01 L157.06,174.49 L157.17,174.00 L157.28,173.53 L157.39,173.10 L157.50,172.70 L157.62,172.34 L157.73,172.02 L157.84,171.75 L157.95,171.52 L158.06,171.34 L158.17,171.21 L158.28,171.13 L158.40,171.10 L158.51,171.12 L158.62,171.19 L158.73,171.30 L158.84,171.45 L158.95,171.64 L159.06,171.88 L159.18,172.15 L159.29,172.47 L159.40,172.81 L159.51,173.19 L159.62,173.60 L159.73,174.03 L159.84,174.49 L159.96,174.98 L160.07,175.48 L160.18,176.00 L160.29,176.53 L160.40,177.08 L160.51,177.63 L160.62,178.20 L160.73,178.76 L160.85,179.34 L160.96,179.91 L161.07,180.48 L161.18,181.05 L161.29,181.62 L161.40,182.18 L161.51,182.73 L161.63,183.28 L161.74,183.82 L161.85,184.35 L161.96,184.86 L162.07,185.37 L162.18,185.86 L162.29,186.34 L162.41,186.81 L162.52,187.26 L162.63,187.69 L162.74,188.11 L162.85,188.52 L162.96,188.91 L163.07,189.29 L163.19,189.65 L163.30,190.00 L163.41,190.33 L163.52,190.64 L163.63,190.94 L163.74,191.23 L163.85,191.50 L163.96,191.76 L164.08,192.01 L164.19,192.24 L164.30,192.46 L164.41,192.67 L164.52,192.86 L164.63,193.05 L164.74,193.22 L164.86,193.39 L164.97,193.54 L165.08,193.68 L165.19,193.82 L165.30,193.95 L165.41,194.07 L165.52,194.18 L165.64,194.28 L165.75,194.38 L165.86,194.47 L165.97,194.56 L166.08,194.64 L166.19,194.71 L166.30,194.78 L166.41,194.85 L166.53,194.91 L166.64,194.97 L166.75,195.02 L166.86,195.07 L166.97,195.12 L167.08,195.17 L167.19,195.21 L167.31,195.25 L167.42,195.28 L167.53,195.32 L167.64,195.35" stroke="#a8173c" stroke-width="1.5" fill="none" />
<path d="M167.64,195.35 L168.46,195.55 L169.27,195.69 L170.09,195.79 L170.91,195.88 L171.72,195.95 L172.54,196.01 L173.36,196.06 L174.17,196.10 L174.99,196.14 L175.81,196.17 L176.62,196.20 L177.44,196.22 L178.25,196.24 L179.07,196.26 L179.89,196.28 L180.70,196.29 L181.52,196.31 L182.34,196.32 L183.15,196.33 L183.97,196.34 L184.79,196.35 L185.60,196.36 L186.42,196.37 L187.24,196.38 L188.05,196.38 L188.87,196.39 L189.69,196.39 L190.50,196.40 L191.32,196.40 L192.14,196.41 L192.95,196.41 L193.77,196.42 L194.58,196.42 L195.40,196.42 L196.22,196.43 L197.03,196.43 L197.85,196.43 L198.67,196.44 L199.48,196.44 L200.30,196.44" stroke="#a8173c" stroke-width="1.6" fill="none" stroke-dasharray="4.6,2.4"/>
<path d="M118.80,210.52 L119.31,210.52 L119.82,210.52 L120.33,210.51 L120.84,210.51 L121.35,210.51 L121.86,210.51 L122.37,210.50 L122.88,210.50 L123.38,210.50 L123.89,210.50 L124.40,210.49 L124.91,210.49 L125.42,210.49 L125.93,210.48 L126.44,210.48 L126.95,210.47 L127.46,210.47 L127.97,210.47 L128.48,210.46 L128.99,210.46 L129.50,210.45 L130.01,210.44 L130.52,210.44 L131.03,210.43 L131.53,210.43 L132.04,210.42 L132.55,210.41 L133.06,210.40 L133.57,210.40 L134.08,210.39 L134.59,210.38 L135.10,210.37 L135.61,210.36 L136.12,210.35 L136.63,210.33 L137.14,210.32 L137.65,210.31 L138.16,210.29 L138.67,210.28 L139.18,210.26 L139.68,210.24 L140.19,210.22 L140.70,210.20 L141.21,210.17 L141.72,210.14 L142.23,210.12 L142.74,210.08 L143.25,210.05 L143.76,210.01 L144.27,209.97 L144.78,209.92 L145.29,209.86 L145.80,209.80 L146.31,209.72 L146.82,209.63 L147.32,209.53 L147.83,209.39 L148.34,209.22 L148.85,208.99 L149.36,208.69 L149.87,208.28 L150.38,207.75 L150.89,207.06 L151.40,206.16 L151.91,205.03 L152.42,203.64 L152.93,201.98 L153.44,200.04 L153.95,197.87 L154.46,195.52 L154.97,193.09 L155.47,190.71 L155.98,188.56 L156.49,186.82 L157.00,185.68 L157.51,185.30 L158.02,185.72 L158.53,186.89 L159.04,188.66 L159.55,190.83 L160.06,193.21 L160.57,195.64 L161.08,197.98 L161.59,200.14 L162.10,202.06 L162.61,203.72 L163.12,205.09 L163.62,206.21 L164.13,207.10 L164.64,207.78 L165.15,208.31 L165.66,208.70 L166.17,209.00 L166.68,209.23 L167.19,209.40 L167.70,209.53 L168.21,209.64 L168.72,209.73 L169.23,209.80 L169.74,209.86 L170.25,209.92 L170.76,209.97 L171.27,210.01 L171.78,210.05 L172.28,210.08 L172.79,210.12 L173.30,210.15 L173.81,210.17 L174.32,210.20 L174.83,210.22 L175.34,210.24 L175.85,210.26 L176.36,210.28 L176.87,210.29 L177.38,210.31 L177.89,210.32 L178.40,210.33 L178.91,210.35 L179.42,210.36 L179.93,210.37 L180.43,210.38 L180.94,210.39 L181.45,210.40 L181.96,210.40 L182.47,210.41 L182.98,210.42 L183.49,210.43 L184.00,210.43 L184.51,210.44 L185.02,210.44 L185.53,210.45 L186.04,210.46 L186.55,210.46 L187.06,210.47 L187.57,210.47 L188.07,210.47 L188.58,210.48 L189.09,210.48 L189.60,210.49 L190.11,210.49 L190.62,210.49 L191.13,210.50 L191.64,210.50 L192.15,210.50 L192.66,210.50 L193.17,210.51 L193.68,210.51 L194.19,210.51 L194.70,210.51 L195.21,210.52 L195.72,210.52 L196.23,210.52 L196.73,210.52 L197.24,210.52 L197.75,210.53 L198.26,210.53 L198.77,210.53 L199.28,210.53 L199.79,210.53 L200.30,210.54" stroke="#7cb84a" stroke-width="1.4" fill="none" />
<rect x="118.3" y="155.4" width="82.50000000000001" height="68.0" fill="none" stroke="#000" stroke-width="1.3" />
<line x1="119.3" y1="223.4" x2="119.3" y2="225.6" stroke="#333" stroke-width="0.6" />
<line x1="121.3" y1="223.4" x2="121.3" y2="224.6" stroke="#333" stroke-width="0.6" />
<line x1="123.3" y1="223.4" x2="123.3" y2="224.6" stroke="#333" stroke-width="0.6" />
<line x1="125.3" y1="223.4" x2="125.3" y2="224.6" stroke="#333" stroke-width="0.6" />
<line x1="127.3" y1="223.4" x2="127.3" y2="225.6" stroke="#333" stroke-width="0.6" />
<line x1="129.3" y1="223.4" x2="129.3" y2="224.6" stroke="#333" stroke-width="0.6" />
<line x1="131.3" y1="223.4" x2="131.3" y2="224.6" stroke="#333" stroke-width="0.6" />
<line x1="133.3" y1="223.4" x2="133.3" y2="224.6" stroke="#333" stroke-width="0.6" />
<line x1="135.3" y1="223.4" x2="135.3" y2="225.6" stroke="#333" stroke-width="0.6" />
<line x1="137.3" y1="223.4" x2="137.3" y2="224.6" stroke="#333" stroke-width="0.6" />
<line x1="139.3" y1="223.4" x2="139.3" y2="224.6" stroke="#333" stroke-width="0.6" />
<line x1="141.3" y1="223.4" x2="141.3" y2="224.6" stroke="#333" stroke-width="0.6" />
<line x1="143.3" y1="223.4" x2="143.3" y2="225.6" stroke="#333" stroke-width="0.6" />
<line x1="145.3" y1="223.4" x2="145.3" y2="224.6" stroke="#333" stroke-width="0.6" />
<line x1="147.3" y1="223.4" x2="147.3" y2="224.6" stroke="#333" stroke-width="0.6" />
<line x1="149.3" y1="223.4" x2="149.3" y2="224.6" stroke="#333" stroke-width="0.6" />
<line x1="151.3" y1="223.4" x2="151.3" y2="225.6" stroke="#333" stroke-width="0.6" />
<line x1="153.3" y1="223.4" x2="153.3" y2="224.6" stroke="#333" stroke-width="0.6" />
<line x1="155.3" y1="223.4" x2="155.3" y2="224.6" stroke="#333" stroke-width="0.6" />
<line x1="157.3" y1="223.4" x2="157.3" y2="224.6" stroke="#333" stroke-width="0.6" />
<line x1="159.3" y1="223.4" x2="159.3" y2="225.6" stroke="#333" stroke-width="0.6" />
<line x1="161.3" y1="223.4" x2="161.3" y2="224.6" stroke="#333" stroke-width="0.6" />
<line x1="163.3" y1="223.4" x2="163.3" y2="224.6" stroke="#333" stroke-width="0.6" />
<line x1="165.3" y1="223.4" x2="165.3" y2="224.6" stroke="#333" stroke-width="0.6" />
<line x1="167.3" y1="223.4" x2="167.3" y2="225.6" stroke="#333" stroke-width="0.6" />
<line x1="169.3" y1="223.4" x2="169.3" y2="224.6" stroke="#333" stroke-width="0.6" />
<line x1="171.3" y1="223.4" x2="171.3" y2="224.6" stroke="#333" stroke-width="0.6" />
<line x1="173.3" y1="223.4" x2="173.3" y2="224.6" stroke="#333" stroke-width="0.6" />
<line x1="175.3" y1="223.4" x2="175.3" y2="225.6" stroke="#333" stroke-width="0.6" />
<line x1="177.3" y1="223.4" x2="177.3" y2="224.6" stroke="#333" stroke-width="0.6" />
<line x1="179.3" y1="223.4" x2="179.3" y2="224.6" stroke="#333" stroke-width="0.6" />
<line x1="181.3" y1="223.4" x2="181.3" y2="224.6" stroke="#333" stroke-width="0.6" />
<line x1="183.3" y1="223.4" x2="183.3" y2="225.6" stroke="#333" stroke-width="0.6" />
<line x1="185.3" y1="223.4" x2="185.3" y2="224.6" stroke="#333" stroke-width="0.6" />
<line x1="187.3" y1="223.4" x2="187.3" y2="224.6" stroke="#333" stroke-width="0.6" />
<line x1="189.3" y1="223.4" x2="189.3" y2="224.6" stroke="#333" stroke-width="0.6" />
<line x1="191.3" y1="223.4" x2="191.3" y2="225.6" stroke="#333" stroke-width="0.6" />
<line x1="193.3" y1="223.4" x2="193.3" y2="224.6" stroke="#333" stroke-width="0.6" />
<line x1="195.3" y1="223.4" x2="195.3" y2="224.6" stroke="#333" stroke-width="0.6" />
<line x1="197.3" y1="223.4" x2="197.3" y2="224.6" stroke="#333" stroke-width="0.6" />
<line x1="199.3" y1="223.4" x2="199.3" y2="225.6" stroke="#333" stroke-width="0.6" />
<text x="32.8" y="234.2" font-size="5" text-anchor="middle" fill="#2a2a2a">10<tspan font-size="3.2" dy="-2">-1</tspan></text>
<text x="48" y="234.2" font-size="5" text-anchor="middle" fill="#2a2a2a" >0</text>
<text x="64" y="234.2" font-size="5" text-anchor="middle" fill="#2a2a2a">10<tspan font-size="3.2" dy="-2">1</tspan></text>
<text x="86.9" y="234.2" font-size="5" text-anchor="middle" fill="#2a2a2a">10<tspan font-size="3.2" dy="-2">3</tspan></text>
<text x="104.8" y="234.2" font-size="5" text-anchor="middle" fill="#2a2a2a">10<tspan font-size="3.2" dy="-2">5</tspan></text>
<text x="123.0" y="234.2" font-size="5" text-anchor="middle" fill="#2a2a2a">10<tspan font-size="3.2" dy="-2">-1</tspan></text>
<text x="136.5" y="234.2" font-size="5" text-anchor="middle" fill="#2a2a2a" >0</text>
<text x="153.3" y="234.2" font-size="5" text-anchor="middle" fill="#2a2a2a">10<tspan font-size="3.2" dy="-2">1</tspan></text>
<text x="174.0" y="234.2" font-size="5" text-anchor="middle" fill="#2a2a2a">10<tspan font-size="3.2" dy="-2">3</tspan></text>
<text x="194.5" y="234.2" font-size="5" text-anchor="middle" fill="#2a2a2a">10<tspan font-size="3.2" dy="-2">5</tspan></text>
<text x="72.6" y="246.6" font-size="9.5" text-anchor="middle" textLength="14.3" lengthAdjust="spacingAndGlyphs" fill="#2a2a2a" class="c">C5aR</text>
<text x="159.2" y="246.3" font-size="9.5" text-anchor="middle" textLength="31" lengthAdjust="spacingAndGlyphs" fill="#2a2a2a" class="c">FcγR II/III</text>
<text x="205.2" y="181.5" font-size="7.9" fill="#2a2a2a" >(+) Δm157</text>
<text x="205.2" y="194.9" font-size="7.9" fill="#2a2a2a" >(-) Δm157</text>
<text x="205.2" y="208.3" font-size="7.9" fill="#2a2a2a" >Naive</text>
<text x="205.2" y="221.7" font-size="7.9" fill="#2a2a2a" >Isotype</text>
<text x="258.7" y="149" font-size="11" font-weight="bold" fill="#000" >D</text>
<text x="329.4" y="150.8" font-size="7.9" text-anchor="middle" fill="#2a2a2a" >C5aR (MFI)</text>
<text x="460" y="150.8" font-size="7.9" text-anchor="middle" fill="#2a2a2a" >FcγR II/III (MFI)</text>
<line x1="286.3" y1="163.2" x2="286.3" y2="213.8" stroke="#1a1a1a" stroke-width="1.25" />
<line x1="285.8" y1="213.3" x2="370.5" y2="213.3" stroke="#1a1a1a" stroke-width="1.2" />
<line x1="283.5" y1="166.3" x2="286.3" y2="166.3" stroke="#1a1a1a" stroke-width="1.1" />
<text x="279.5" y="169.20000000000002" font-size="8.1" text-anchor="end" fill="#2a2a2a" >4,000</text>
<line x1="283.5" y1="190" x2="286.3" y2="190" stroke="#1a1a1a" stroke-width="1.1" />
<text x="279.5" y="192.9" font-size="8.1" text-anchor="end" fill="#2a2a2a" >2,000</text>
<line x1="283.5" y1="213.3" x2="286.3" y2="213.3" stroke="#1a1a1a" stroke-width="1.1" />
<text x="279.5" y="216.20000000000002" font-size="8.1" text-anchor="end" fill="#2a2a2a" >0</text>
<line x1="301.2" y1="213.3" x2="301.2" y2="216.2" stroke="#1a1a1a" stroke-width="1.1" />
<line x1="330" y1="213.3" x2="330" y2="216.2" stroke="#1a1a1a" stroke-width="1.1" />
<line x1="358.3" y1="213.3" x2="358.3" y2="216.2" stroke="#1a1a1a" stroke-width="1.1" />
<text x="301.2" y="226.6" font-size="8.2" text-anchor="middle" fill="#2a2a2a" >Naive</text>
<text x="330" y="226.6" font-size="8.2" text-anchor="middle" fill="#2a2a2a" >(-)</text>
<text x="330" y="236.6" font-size="8.2" text-anchor="middle" fill="#2a2a2a" >Δm157</text>
<text x="358.3" y="226.6" font-size="8.2" text-anchor="middle" fill="#2a2a2a" >(+)</text>
<text x="358.3" y="236.6" font-size="8.2" text-anchor="middle" fill="#2a2a2a" >Δm157</text>
<line x1="300.2" y1="172.0" x2="300.2" y2="176.39999999999998" stroke="#1a1a1a" stroke-width="0.9" />
<line x1="296.7" y1="172.0" x2="303.7" y2="172.0" stroke="#333" stroke-width="0.9" />
<line x1="296.7" y1="176.39999999999998" x2="303.7" y2="176.39999999999998" stroke="#333" stroke-width="0.9" />
<path d="M293.5,172.70999999999998 H296.9 L295.2,175.59999999999997 Z" stroke="#5f9a3c" stroke-width="0.9" fill="none" />
<path d="M296.5,172.01 H299.9 L298.2,174.89999999999998 Z" stroke="#5f9a3c" stroke-width="0.9" fill="none" />
<path d="M299.5,173.60999999999999 H302.9 L301.2,176.49999999999997 Z" stroke="#5f9a3c" stroke-width="0.9" fill="none" />
<path d="M302.5,172.01 H305.9 L304.2,174.89999999999998 Z" stroke="#5f9a3c" stroke-width="0.9" fill="none" />
<path d="M300.5,174.31 H303.9 L302.2,177.2 Z" stroke="#5f9a3c" stroke-width="0.9" fill="none" />
<path d="M295.0,174.20999999999998 H298.4 L296.7,177.09999999999997 Z" stroke="#5f9a3c" stroke-width="0.9" fill="none" />
<rect x="293.2" y="173.29999999999998" width="12" height="1.8" fill="#2f4a22" stroke="none" stroke-width="1" />
<line x1="289.7" y1="174.2" x2="310.7" y2="174.2" stroke="#111" stroke-width="1.4" />
<line x1="330.1" y1="168.3" x2="330.1" y2="178.3" stroke="#1a1a1a" stroke-width="0.9" />
<line x1="326.1" y1="169.8" x2="334.1" y2="169.8" stroke="#1a1a1a" stroke-width="1" />
<line x1="326.1" y1="176.8" x2="334.1" y2="176.8" stroke="#1a1a1a" stroke-width="1" />
<rect x="328.40000000000003" y="167.3" width="3.4" height="3.4" fill="#a8173c" stroke="none" stroke-width="1" />
<rect x="325.40000000000003" y="169.8" width="3.4" height="3.4" fill="#a8173c" stroke="none" stroke-width="1" />
<rect x="331.6" y="170.8" width="3.4" height="3.4" fill="#a8173c" stroke="none" stroke-width="1" />
<rect x="326.20000000000005" y="173.40000000000003" width="3.4" height="3.4" fill="#a8173c" stroke="none" stroke-width="1" />
<rect x="330.20000000000005" y="174.40000000000003" width="3.4" height="3.4" fill="#a8173c" stroke="none" stroke-width="1" />
<rect x="328.40000000000003" y="175.8" width="3.4" height="3.4" fill="#a8173c" stroke="none" stroke-width="1" />
<rect x="332.90000000000003" y="172.10000000000002" width="3.4" height="3.4" fill="#a8173c" stroke="none" stroke-width="1" />
<line x1="319.6" y1="173.3" x2="340.6" y2="173.3" stroke="#111" stroke-width="1.4" />
<line x1="359.1" y1="169.3" x2="359.1" y2="177.3" stroke="#1a1a1a" stroke-width="0.9" />
<line x1="355.1" y1="170.8" x2="363.1" y2="170.8" stroke="#1a1a1a" stroke-width="1" />
<line x1="355.1" y1="175.8" x2="363.1" y2="175.8" stroke="#1a1a1a" stroke-width="1" />
<line x1="358.6" y1="167.3" x2="361.6" y2="170.3" stroke="#2b4468" stroke-width="1.0" />
<line x1="358.6" y1="170.3" x2="361.6" y2="167.3" stroke="#2b4468" stroke-width="1.0" />
<line x1="353.6" y1="171.3" x2="356.6" y2="174.3" stroke="#2b4468" stroke-width="1.0" />
<line x1="353.6" y1="174.3" x2="356.6" y2="171.3" stroke="#2b4468" stroke-width="1.0" />
<line x1="356.1" y1="173.3" x2="359.1" y2="176.3" stroke="#2b4468" stroke-width="1.0" />
<line x1="356.1" y1="176.3" x2="359.1" y2="173.3" stroke="#2b4468" stroke-width="1.0" />
<line x1="360.1" y1="173.60000000000002" x2="363.1" y2="176.60000000000002" stroke="#2b4468" stroke-width="1.0" />
<line x1="360.1" y1="176.60000000000002" x2="363.1" y2="173.60000000000002" stroke="#2b4468" stroke-width="1.0" />
<line x1="362.6" y1="171.0" x2="365.6" y2="174.0" stroke="#2b4468" stroke-width="1.0" />
<line x1="362.6" y1="174.0" x2="365.6" y2="171.0" stroke="#2b4468" stroke-width="1.0" />
<line x1="358.1" y1="170.0" x2="361.1" y2="173.0" stroke="#2b4468" stroke-width="1.0" />
<line x1="358.1" y1="173.0" x2="361.1" y2="170.0" stroke="#2b4468" stroke-width="1.0" />
<line x1="355.6" y1="175.3" x2="358.6" y2="178.3" stroke="#2b4468" stroke-width="1.0" />
<line x1="355.6" y1="178.3" x2="358.6" y2="175.3" stroke="#2b4468" stroke-width="1.0" />
<line x1="348.6" y1="173.3" x2="369.6" y2="173.3" stroke="#111" stroke-width="1.4" />
<line x1="417.5" y1="163.2" x2="417.5" y2="213.8" stroke="#1a1a1a" stroke-width="1.25" />
<line x1="417.0" y1="213.3" x2="502.5" y2="213.3" stroke="#1a1a1a" stroke-width="1.2" />
<line x1="414.7" y1="166.3" x2="417.5" y2="166.3" stroke="#1a1a1a" stroke-width="1.1" />
<text x="410.7" y="169.20000000000002" font-size="8.1" text-anchor="end" fill="#2a2a2a" >5,000</text>
<line x1="414.7" y1="189.6" x2="417.5" y2="189.6" stroke="#1a1a1a" stroke-width="1.1" />
<text x="410.7" y="192.5" font-size="8.1" text-anchor="end" fill="#2a2a2a" >2,500</text>
<line x1="414.7" y1="213.3" x2="417.5" y2="213.3" stroke="#1a1a1a" stroke-width="1.1" />
<text x="410.7" y="216.20000000000002" font-size="8.1" text-anchor="end" fill="#2a2a2a" >0</text>
<line x1="432.5" y1="213.3" x2="432.5" y2="216.2" stroke="#1a1a1a" stroke-width="1.1" />
<line x1="461.3" y1="213.3" x2="461.3" y2="216.2" stroke="#1a1a1a" stroke-width="1.1" />
<line x1="491.3" y1="213.3" x2="491.3" y2="216.2" stroke="#1a1a1a" stroke-width="1.1" />
<text x="432.5" y="226.6" font-size="8.2" text-anchor="middle" fill="#2a2a2a" >Naive</text>
<text x="461.3" y="226.6" font-size="8.2" text-anchor="middle" fill="#2a2a2a" >(-)</text>
<text x="461.3" y="236.6" font-size="8.2" text-anchor="middle" fill="#2a2a2a" >Δm157</text>
<text x="491.3" y="226.6" font-size="8.2" text-anchor="middle" fill="#2a2a2a" >(+)</text>
<text x="491.3" y="236.6" font-size="8.2" text-anchor="middle" fill="#2a2a2a" >Δm157</text>
<line x1="433.1" y1="171.5" x2="433.1" y2="175.89999999999998" stroke="#1a1a1a" stroke-width="0.9" />
<line x1="429.6" y1="171.5" x2="436.6" y2="171.5" stroke="#333" stroke-width="0.9" />
<line x1="429.6" y1="175.89999999999998" x2="436.6" y2="175.89999999999998" stroke="#333" stroke-width="0.9" />
<path d="M426.40000000000003,172.20999999999998 H429.8 L428.1,175.09999999999997 Z" stroke="#5f9a3c" stroke-width="0.9" fill="none" />
<path d="M429.40000000000003,171.51 H432.8 L431.1,174.39999999999998 Z" stroke="#5f9a3c" stroke-width="0.9" fill="none" />
<path d="M432.40000000000003,173.10999999999999 H435.8 L434.1,175.99999999999997 Z" stroke="#5f9a3c" stroke-width="0.9" fill="none" />
<path d="M435.40000000000003,171.51 H438.8 L437.1,174.39999999999998 Z" stroke="#5f9a3c" stroke-width="0.9" fill="none" />
<path d="M433.40000000000003,173.81 H436.8 L435.1,176.7 Z" stroke="#5f9a3c" stroke-width="0.9" fill="none" />
<path d="M427.90000000000003,173.70999999999998 H431.3 L429.6,176.59999999999997 Z" stroke="#5f9a3c" stroke-width="0.9" fill="none" />
<rect x="426.1" y="172.79999999999998" width="12" height="1.8" fill="#2f4a22" stroke="none" stroke-width="1" />
<line x1="422.6" y1="173.7" x2="443.6" y2="173.7" stroke="#111" stroke-width="1.4" />
<line x1="461.9" y1="168.3" x2="461.9" y2="178.3" stroke="#1a1a1a" stroke-width="0.9" />
<line x1="457.9" y1="169.8" x2="465.9" y2="169.8" stroke="#1a1a1a" stroke-width="1" />
<line x1="457.9" y1="176.8" x2="465.9" y2="176.8" stroke="#1a1a1a" stroke-width="1" />
<rect x="460.2" y="167.3" width="3.4" height="3.4" fill="#a8173c" stroke="none" stroke-width="1" />
<rect x="457.2" y="169.8" width="3.4" height="3.4" fill="#a8173c" stroke="none" stroke-width="1" />
<rect x="463.4" y="170.8" width="3.4" height="3.4" fill="#a8173c" stroke="none" stroke-width="1" />
<rect x="458.0" y="173.40000000000003" width="3.4" height="3.4" fill="#a8173c" stroke="none" stroke-width="1" />
<rect x="462.0" y="174.40000000000003" width="3.4" height="3.4" fill="#a8173c" stroke="none" stroke-width="1" />
<rect x="460.2" y="175.8" width="3.4" height="3.4" fill="#a8173c" stroke="none" stroke-width="1" />
<rect x="464.7" y="172.10000000000002" width="3.4" height="3.4" fill="#a8173c" stroke="none" stroke-width="1" />
<line x1="451.4" y1="173.3" x2="472.4" y2="173.3" stroke="#111" stroke-width="1.4" />
<line x1="490.6" y1="169" x2="490.6" y2="177" stroke="#1a1a1a" stroke-width="0.9" />
<line x1="486.6" y1="170.5" x2="494.6" y2="170.5" stroke="#1a1a1a" stroke-width="1" />
<line x1="486.6" y1="175.5" x2="494.6" y2="175.5" stroke="#1a1a1a" stroke-width="1" />
<line x1="490.1" y1="167.0" x2="493.1" y2="170.0" stroke="#2b4468" stroke-width="1.0" />
<line x1="490.1" y1="170.0" x2="493.1" y2="167.0" stroke="#2b4468" stroke-width="1.0" />
<line x1="485.1" y1="171.0" x2="488.1" y2="174.0" stroke="#2b4468" stroke-width="1.0" />
<line x1="485.1" y1="174.0" x2="488.1" y2="171.0" stroke="#2b4468" stroke-width="1.0" />
<line x1="487.6" y1="173.0" x2="490.6" y2="176.0" stroke="#2b4468" stroke-width="1.0" />
<line x1="487.6" y1="176.0" x2="490.6" y2="173.0" stroke="#2b4468" stroke-width="1.0" />
<line x1="491.6" y1="173.3" x2="494.6" y2="176.3" stroke="#2b4468" stroke-width="1.0" />
<line x1="491.6" y1="176.3" x2="494.6" y2="173.3" stroke="#2b4468" stroke-width="1.0" />
<line x1="494.1" y1="170.7" x2="497.1" y2="173.7" stroke="#2b4468" stroke-width="1.0" />
<line x1="494.1" y1="173.7" x2="497.1" y2="170.7" stroke="#2b4468" stroke-width="1.0" />
<line x1="489.6" y1="169.7" x2="492.6" y2="172.7" stroke="#2b4468" stroke-width="1.0" />
<line x1="489.6" y1="172.7" x2="492.6" y2="169.7" stroke="#2b4468" stroke-width="1.0" />
<line x1="487.1" y1="175.0" x2="490.1" y2="178.0" stroke="#2b4468" stroke-width="1.0" />
<line x1="487.1" y1="178.0" x2="490.1" y2="175.0" stroke="#2b4468" stroke-width="1.0" />
<line x1="480.1" y1="173" x2="501.1" y2="173" stroke="#111" stroke-width="1.4" />
<text x="9.6" y="275.3" font-size="11" font-weight="bold" fill="#000" >E</text>
<line x1="101.3" y1="274.8" x2="371.5" y2="274.8" stroke="#111" stroke-width="1.1" />
<text x="179" y="270.6" font-size="7.5" textLength="114" lengthAdjust="spacingAndGlyphs" fill="#2a2a2a" >T cells + anti-CD3/CD28 beads</text>
<text x="66.3" y="287.5" font-size="8" text-anchor="middle" fill="#2a2a2a" >T cells</text>
<text x="66.3" y="297.6" font-size="8" text-anchor="middle" fill="#2a2a2a" >No-stimulation</text>
<text x="134.2" y="287.5" font-size="8" text-anchor="middle" fill="#2a2a2a" >No Gr1<tspan font-size="5.28" dy="-3.20">HI</tspan><tspan dy="3.20"></tspan></text>
<text x="134.2" y="297.6" font-size="8" text-anchor="middle" fill="#2a2a2a" >cells (control)</text>
<text x="201.2" y="287.5" font-size="8" text-anchor="middle" fill="#2a2a2a" >Gr1<tspan font-size="5.28" dy="-3.20">HI</tspan><tspan dy="3.20"></tspan></text>
<text x="201.2" y="297.6" font-size="8" text-anchor="middle" fill="#2a2a2a" >(Naive)</text>
<text x="271.5" y="287.5" font-size="8" text-anchor="middle" fill="#2a2a2a" >Gr1<tspan font-size="5.28" dy="-3.20">HI</tspan><tspan dy="3.20"></tspan></text>
<text x="271.5" y="297.6" font-size="8" text-anchor="middle" fill="#2a2a2a" >(-) Δm157</text>
<text x="338.5" y="287.5" font-size="8" text-anchor="middle" fill="#2a2a2a" >Gr1<tspan font-size="5.28" dy="-3.20">HI</tspan><tspan dy="3.20"></tspan></text>
<text x="338.5" y="297.6" font-size="8" text-anchor="middle" fill="#2a2a2a" >(+) Δm157</text>
<rect x="32.4" y="302" width="67.0" height="66.80000000000001" fill="#fff" stroke="#9a9a9a" stroke-width="1" />
<line x1="30.599999999999998" y1="309" x2="33.6" y2="309" stroke="#666" stroke-width="0.8" />
<line x1="30.599999999999998" y1="324.8" x2="33.6" y2="324.8" stroke="#666" stroke-width="0.8" />
<line x1="30.599999999999998" y1="343.2" x2="33.6" y2="343.2" stroke="#666" stroke-width="0.8" />
<line x1="30.599999999999998" y1="353.8" x2="33.6" y2="353.8" stroke="#666" stroke-width="0.8" />
<line x1="30.599999999999998" y1="364.3" x2="33.6" y2="364.3" stroke="#666" stroke-width="0.8" />
<rect x="31.2" y="352.8" width="2.2" height="2.2" fill="#222" stroke="none" stroke-width="1" />
<line x1="39.1" y1="367.8" x2="39.1" y2="370.6" stroke="#666" stroke-width="0.8" />
<line x1="48.48" y1="367.8" x2="48.48" y2="370.6" stroke="#666" stroke-width="0.8" />
<line x1="59.87" y1="367.8" x2="59.87" y2="370.6" stroke="#666" stroke-width="0.8" />
<line x1="78.63" y1="367.8" x2="78.63" y2="370.6" stroke="#666" stroke-width="0.8" />
<line x1="94.03999999999999" y1="367.8" x2="94.03999999999999" y2="370.6" stroke="#666" stroke-width="0.8" />
<rect x="45.94" y="368.40000000000003" width="2.6" height="1.6" fill="#222" stroke="none" stroke-width="1" />
<rect x="100.6" y="302" width="67.0" height="66.80000000000001" fill="#fff" stroke="#9a9a9a" stroke-width="1" />
<line x1="98.8" y1="309" x2="101.8" y2="309" stroke="#666" stroke-width="0.8" />
<line x1="98.8" y1="324.8" x2="101.8" y2="324.8" stroke="#666" stroke-width="0.8" />
<line x1="98.8" y1="343.2" x2="101.8" y2="343.2" stroke="#666" stroke-width="0.8" />
<line x1="98.8" y1="353.8" x2="101.8" y2="353.8" stroke="#666" stroke-width="0.8" />
<line x1="98.8" y1="364.3" x2="101.8" y2="364.3" stroke="#666" stroke-width="0.8" />
<rect x="99.39999999999999" y="352.8" width="2.2" height="2.2" fill="#222" stroke="none" stroke-width="1" />
<line x1="107.3" y1="367.8" x2="107.3" y2="370.6" stroke="#666" stroke-width="0.8" />
<line x1="116.67999999999999" y1="367.8" x2="116.67999999999999" y2="370.6" stroke="#666" stroke-width="0.8" />
<line x1="128.07" y1="367.8" x2="128.07" y2="370.6" stroke="#666" stroke-width="0.8" />
<line x1="146.82999999999998" y1="367.8" x2="146.82999999999998" y2="370.6" stroke="#666" stroke-width="0.8" />
<line x1="162.24" y1="367.8" x2="162.24" y2="370.6" stroke="#666" stroke-width="0.8" />
<rect x="114.13999999999999" y="368.40000000000003" width="2.6" height="1.6" fill="#222" stroke="none" stroke-width="1" />
<rect x="168.9" y="302" width="67.69999999999999" height="66.80000000000001" fill="#fff" stroke="#9a9a9a" stroke-width="1" />
<line x1="167.1" y1="309" x2="170.1" y2="309" stroke="#666" stroke-width="0.8" />
<line x1="167.1" y1="324.8" x2="170.1" y2="324.8" stroke="#666" stroke-width="0.8" />
<line x1="167.1" y1="343.2" x2="170.1" y2="343.2" stroke="#666" stroke-width="0.8" />
<line x1="167.1" y1="353.8" x2="170.1" y2="353.8" stroke="#666" stroke-width="0.8" />
<line x1="167.1" y1="364.3" x2="170.1" y2="364.3" stroke="#666" stroke-width="0.8" />
<rect x="167.70000000000002" y="352.8" width="2.2" height="2.2" fill="#222" stroke="none" stroke-width="1" />
<line x1="175.67000000000002" y1="367.8" x2="175.67000000000002" y2="370.6" stroke="#666" stroke-width="0.8" />
<line x1="185.148" y1="367.8" x2="185.148" y2="370.6" stroke="#666" stroke-width="0.8" />
<line x1="196.657" y1="367.8" x2="196.657" y2="370.6" stroke="#666" stroke-width="0.8" />
<line x1="215.613" y1="367.8" x2="215.613" y2="370.6" stroke="#666" stroke-width="0.8" />
<line x1="231.184" y1="367.8" x2="231.184" y2="370.6" stroke="#666" stroke-width="0.8" />
<rect x="182.59400000000002" y="368.40000000000003" width="2.6" height="1.6" fill="#222" stroke="none" stroke-width="1" />
<rect x="238.6" y="302" width="65.4" height="66.80000000000001" fill="#fff" stroke="#9a9a9a" stroke-width="1" />
<line x1="236.79999999999998" y1="309" x2="239.79999999999998" y2="309" stroke="#666" stroke-width="0.8" />
<line x1="236.79999999999998" y1="324.8" x2="239.79999999999998" y2="324.8" stroke="#666" stroke-width="0.8" />
<line x1="236.79999999999998" y1="343.2" x2="239.79999999999998" y2="343.2" stroke="#666" stroke-width="0.8" />
<line x1="236.79999999999998" y1="353.8" x2="239.79999999999998" y2="353.8" stroke="#666" stroke-width="0.8" />
<line x1="236.79999999999998" y1="364.3" x2="239.79999999999998" y2="364.3" stroke="#666" stroke-width="0.8" />
<rect x="237.4" y="352.8" width="2.2" height="2.2" fill="#222" stroke="none" stroke-width="1" />
<line x1="245.14" y1="367.8" x2="245.14" y2="370.6" stroke="#666" stroke-width="0.8" />
<line x1="254.296" y1="367.8" x2="254.296" y2="370.6" stroke="#666" stroke-width="0.8" />
<line x1="265.414" y1="367.8" x2="265.414" y2="370.6" stroke="#666" stroke-width="0.8" />
<line x1="283.726" y1="367.8" x2="283.726" y2="370.6" stroke="#666" stroke-width="0.8" />
<line x1="298.76800000000003" y1="367.8" x2="298.76800000000003" y2="370.6" stroke="#666" stroke-width="0.8" />
<rect x="251.788" y="368.40000000000003" width="2.6" height="1.6" fill="#222" stroke="none" stroke-width="1" />
<rect x="306.3" y="302" width="65.5" height="66.80000000000001" fill="#fff" stroke="#9a9a9a" stroke-width="1" />
<line x1="304.5" y1="309" x2="307.5" y2="309" stroke="#666" stroke-width="0.8" />
<line x1="304.5" y1="324.8" x2="307.5" y2="324.8" stroke="#666" stroke-width="0.8" />
<line x1="304.5" y1="343.2" x2="307.5" y2="343.2" stroke="#666" stroke-width="0.8" />
<line x1="304.5" y1="353.8" x2="307.5" y2="353.8" stroke="#666" stroke-width="0.8" />
<line x1="304.5" y1="364.3" x2="307.5" y2="364.3" stroke="#666" stroke-width="0.8" />
<rect x="305.1" y="352.8" width="2.2" height="2.2" fill="#222" stroke="none" stroke-width="1" />
<line x1="312.85" y1="367.8" x2="312.85" y2="370.6" stroke="#666" stroke-width="0.8" />
<line x1="322.02" y1="367.8" x2="322.02" y2="370.6" stroke="#666" stroke-width="0.8" />
<line x1="333.15500000000003" y1="367.8" x2="333.15500000000003" y2="370.6" stroke="#666" stroke-width="0.8" />
<line x1="351.495" y1="367.8" x2="351.495" y2="370.6" stroke="#666" stroke-width="0.8" />
<line x1="366.56" y1="367.8" x2="366.56" y2="370.6" stroke="#666" stroke-width="0.8" />
<rect x="319.51000000000005" y="368.40000000000003" width="2.6" height="1.6" fill="#222" stroke="none" stroke-width="1" />
<line x1="27.3" y1="310" x2="29.5" y2="307.8" stroke="#666" stroke-width="0.9" />
<line x1="27.3" y1="325.8" x2="29.5" y2="323.6" stroke="#666" stroke-width="0.9" />
<line x1="27.3" y1="344.2" x2="29.5" y2="342.0" stroke="#666" stroke-width="0.9" />
<line x1="27.3" y1="365.3" x2="29.5" y2="363.1" stroke="#666" stroke-width="0.9" />
<line x1="37.9" y1="374" x2="40.1" y2="371.6" stroke="#666" stroke-width="0.9" />
<circle cx="48.48" cy="373.2" r="0.5" fill="#777" stroke="none" stroke-width="1" />
<line x1="58.669999999999995" y1="374" x2="60.87" y2="371.6" stroke="#666" stroke-width="0.9" />
<line x1="77.42999999999999" y1="374" x2="79.63" y2="371.6" stroke="#666" stroke-width="0.9" />
<line x1="92.83999999999999" y1="374" x2="95.03999999999999" y2="371.6" stroke="#666" stroke-width="0.9" />
<line x1="106.1" y1="374" x2="108.3" y2="371.6" stroke="#666" stroke-width="0.9" />
<circle cx="116.67999999999999" cy="373.2" r="0.5" fill="#777" stroke="none" stroke-width="1" />
<line x1="126.86999999999999" y1="374" x2="129.07" y2="371.6" stroke="#666" stroke-width="0.9" />
<line x1="145.63" y1="374" x2="147.82999999999998" y2="371.6" stroke="#666" stroke-width="0.9" />
<line x1="161.04000000000002" y1="374" x2="163.24" y2="371.6" stroke="#666" stroke-width="0.9" />
<line x1="174.47000000000003" y1="374" x2="176.67000000000002" y2="371.6" stroke="#666" stroke-width="0.9" />
<circle cx="185.148" cy="373.2" r="0.5" fill="#777" stroke="none" stroke-width="1" />
<line x1="195.45700000000002" y1="374" x2="197.657" y2="371.6" stroke="#666" stroke-width="0.9" />
<line x1="214.413" y1="374" x2="216.613" y2="371.6" stroke="#666" stroke-width="0.9" />
<line x1="229.984" y1="374" x2="232.184" y2="371.6" stroke="#666" stroke-width="0.9" />
<line x1="243.94" y1="374" x2="246.14" y2="371.6" stroke="#666" stroke-width="0.9" />
<circle cx="254.296" cy="373.2" r="0.5" fill="#777" stroke="none" stroke-width="1" />
<line x1="264.214" y1="374" x2="266.414" y2="371.6" stroke="#666" stroke-width="0.9" />
<line x1="282.526" y1="374" x2="284.726" y2="371.6" stroke="#666" stroke-width="0.9" />
<line x1="297.56800000000004" y1="374" x2="299.76800000000003" y2="371.6" stroke="#666" stroke-width="0.9" />
<line x1="311.65000000000003" y1="374" x2="313.85" y2="371.6" stroke="#666" stroke-width="0.9" />
<circle cx="322.02" cy="373.2" r="0.5" fill="#777" stroke="none" stroke-width="1" />
<line x1="331.95500000000004" y1="374" x2="334.15500000000003" y2="371.6" stroke="#666" stroke-width="0.9" />
<line x1="350.295" y1="374" x2="352.495" y2="371.6" stroke="#666" stroke-width="0.9" />
<line x1="365.36" y1="374" x2="367.56" y2="371.6" stroke="#666" stroke-width="0.9" />
<rect x="35.5" y="314.3" width="47.099999999999994" height="16.19999999999999" fill="none" stroke="#6a6a6a" stroke-width="1" />
<rect x="48.4" y="306.5" width="17" height="7" fill="#fff" stroke="none" stroke-width="1" />
<text x="56.9" y="313" font-size="7.5" text-anchor="middle" fill="#2a2a2a" >0.25</text>
<rect x="103.8" y="314.3" width="48.2" height="16.19999999999999" fill="none" stroke="#6a6a6a" stroke-width="1" />
<rect x="116.7" y="306.5" width="17" height="7" fill="#fff" stroke="none" stroke-width="1" />
<text x="125.2" y="313" font-size="7.5" text-anchor="middle" fill="#2a2a2a" >51.2</text>
<rect x="171.4" y="314.3" width="47.5" height="16.19999999999999" fill="none" stroke="#6a6a6a" stroke-width="1" />
<rect x="185.6" y="306.5" width="17" height="7" fill="#fff" stroke="none" stroke-width="1" />
<text x="194.1" y="313" font-size="7.5" text-anchor="middle" fill="#2a2a2a" >0.98</text>
<rect x="240.8" y="314.3" width="46.19999999999999" height="16.19999999999999" fill="none" stroke="#6a6a6a" stroke-width="1" />
<rect x="253.89999999999998" y="306.5" width="17" height="7" fill="#fff" stroke="none" stroke-width="1" />
<text x="262.4" y="313" font-size="7.5" text-anchor="middle" fill="#2a2a2a" >1.43</text>
<rect x="308.8" y="314.3" width="47.39999999999998" height="16.19999999999999" fill="none" stroke="#6a6a6a" stroke-width="1" />
<rect x="322.1" y="306.5" width="17" height="7" fill="#fff" stroke="none" stroke-width="1" />
<text x="330.6" y="313" font-size="7.5" text-anchor="middle" fill="#2a2a2a" >4.68</text>
<path d="M46.9 323.1h0.7v0.7h-0.7zM53.0 323.9h0.7v0.7h-0.7zM64.8 316.9h0.7v0.7h-0.7zM36.6 326.9h0.7v0.7h-0.7zM47.9 319.0h0.7v0.7h-0.7zM81.8 322.1h0.7v0.7h-0.7zM74.5 322.2h0.7v0.7h-0.7zM65.4 318.0h0.7v0.7h-0.7zM65.2 327.3h0.7v0.7h-0.7zM60.1 325.6h0.7v0.7h-0.7zM66.9 316.8h0.7v0.7h-0.7zM70.9 323.7h0.7v0.7h-0.7zM49.9 316.4h0.7v0.7h-0.7zM75.8 322.1h0.7v0.7h-0.7z" fill="#c8c8c8"/>
<path d="M82,320.20000000000005 C88.45,320.20000000000005 90.6,323.016 90.6,326.6 C90.6,330.184 88.45,333.0 82,333.0 C80.6,329.8 80.6,323.40000000000003 82,320.20000000000005 Z" stroke="#000" stroke-width="1.5" fill="#b8b8b8" />
<path d="M82.6,321.73600000000005 C87.37299999999999,321.73600000000005 88.964,323.87616 88.964,326.6 C88.964,329.32384 87.37299999999999,331.464 82.6,331.464 Z" stroke="#111" stroke-width="1.1" fill="#6a6a6a" />
<ellipse cx="85.096" cy="324.68" rx="1.72" ry="1.6640000000000001" fill="#111" stroke="none" stroke-width="1" />
<ellipse cx="85.096" cy="328.52000000000004" rx="1.72" ry="1.6640000000000001" fill="#111" stroke="none" stroke-width="1" />
<path d="M182.9 317.3h0.7v0.7h-0.7zM190.2 318.0h0.7v0.7h-0.7zM175.1 321.2h0.7v0.7h-0.7zM214.2 326.4h0.7v0.7h-0.7zM207.2 318.9h0.7v0.7h-0.7zM196.7 319.6h0.7v0.7h-0.7zM179.9 317.4h0.7v0.7h-0.7zM181.9 328.1h0.7v0.7h-0.7zM210.1 326.5h0.7v0.7h-0.7zM208.8 318.5h0.7v0.7h-0.7zM186.3 324.2h0.7v0.7h-0.7zM205.7 327.1h0.7v0.7h-0.7zM212.5 317.1h0.7v0.7h-0.7zM199.9 324.7h0.7v0.7h-0.7zM195.3 318.3h0.7v0.7h-0.7zM193.8 317.2h0.7v0.7h-0.7zM215.0 327.3h0.7v0.7h-0.7zM197.2 319.9h0.7v0.7h-0.7z" fill="#c8c8c8"/>
<path d="M218.8,315.7 C225.25,315.7 227.4,318.824 227.4,322.8 C227.4,326.776 225.25,329.90000000000003 218.8,329.90000000000003 C217.4,326.35 217.4,319.25 218.8,315.7 Z" stroke="#000" stroke-width="1.5" fill="#b8b8b8" />
<path d="M219.4,317.404 C224.173,317.404 225.764,319.77824 225.764,322.8 C225.764,325.82176000000004 224.173,328.196 219.4,328.196 Z" stroke="#111" stroke-width="1.1" fill="#6a6a6a" />
<ellipse cx="221.89600000000002" cy="320.67" rx="1.72" ry="1.8459999999999999" fill="#111" stroke="none" stroke-width="1" />
<ellipse cx="221.89600000000002" cy="324.93" rx="1.72" ry="1.8459999999999999" fill="#111" stroke="none" stroke-width="1" />
<path d="M269.4 325.6h0.7v0.7h-0.7zM277.0 328.3h0.7v0.7h-0.7zM274.6 328.0h0.7v0.7h-0.7zM243.3 322.1h0.7v0.7h-0.7zM283.5 324.4h0.7v0.7h-0.7zM281.6 317.5h0.7v0.7h-0.7zM262.6 319.2h0.7v0.7h-0.7zM265.9 323.5h0.7v0.7h-0.7zM242.6 318.8h0.7v0.7h-0.7zM254.3 327.9h0.7v0.7h-0.7zM275.7 318.1h0.7v0.7h-0.7zM277.1 317.8h0.7v0.7h-0.7zM269.2 317.6h0.7v0.7h-0.7zM242.1 327.3h0.7v0.7h-0.7zM251.2 318.8h0.7v0.7h-0.7zM285.2 327.3h0.7v0.7h-0.7z" fill="#c8c8c8"/>
<path d="M286.6,317.3 C293.05,317.3 295.20000000000005,320.248 295.20000000000005,324 C295.20000000000005,327.752 293.05,330.7 286.6,330.7 C285.20000000000005,327.35 285.20000000000005,320.65 286.6,317.3 Z" stroke="#000" stroke-width="1.5" fill="#b8b8b8" />
<path d="M287.20000000000005,318.908 C291.97300000000007,318.908 293.564,321.14848 293.564,324 C293.564,326.85152 291.97300000000007,329.092 287.20000000000005,329.092 Z" stroke="#111" stroke-width="1.1" fill="#6a6a6a" />
<ellipse cx="289.696" cy="321.99" rx="1.72" ry="1.7420000000000002" fill="#111" stroke="none" stroke-width="1" />
<ellipse cx="289.696" cy="326.01" rx="1.72" ry="1.7420000000000002" fill="#111" stroke="none" stroke-width="1" />
<path d="M345.7 326.7h0.7v0.7h-0.7zM331.8 319.4h0.7v0.7h-0.7zM310.0 324.6h0.7v0.7h-0.7zM331.2 325.9h0.7v0.7h-0.7zM326.8 326.0h0.7v0.7h-0.7zM322.3 326.4h0.7v0.7h-0.7zM342.8 321.4h0.7v0.7h-0.7zM334.2 324.9h0.7v0.7h-0.7zM318.7 323.2h0.7v0.7h-0.7zM346.2 319.5h0.7v0.7h-0.7zM346.2 324.9h0.7v0.7h-0.7zM348.0 320.4h0.7v0.7h-0.7zM314.2 326.4h0.7v0.7h-0.7zM346.2 321.8h0.7v0.7h-0.7zM314.2 318.6h0.7v0.7h-0.7zM338.6 319.8h0.7v0.7h-0.7zM352.8 323.7h0.7v0.7h-0.7zM319.0 324.5h0.7v0.7h-0.7zM326.2 328.1h0.7v0.7h-0.7zM350.9 322.7h0.7v0.7h-0.7zM339.0 325.1h0.7v0.7h-0.7zM346.2 328.7h0.7v0.7h-0.7z" fill="#c0c0c0"/>
<path d="M347.5,322 C349,319.5 352,318.8 354.5,320.5" stroke="#111" stroke-width="1.2" fill="none" />
<ellipse cx="351.5" cy="321.2" rx="2.3" ry="2.2" fill="none" stroke="#111" stroke-width="1" />
<path d="M355.3,315.7 C361.3,315.7 363.3,319.0 363.3,323.2 C363.3,327.4 361.3,330.7 355.3,330.7 C353.90000000000003,326.95 353.90000000000003,319.45 355.3,315.7 Z" stroke="#000" stroke-width="1.5" fill="#b8b8b8" />
<path d="M355.90000000000003,317.5 C360.34000000000003,317.5 361.82000000000005,320.008 361.82000000000005,323.2 C361.82000000000005,326.392 360.34000000000003,328.9 355.90000000000003,328.9 Z" stroke="#111" stroke-width="1.1" fill="#6a6a6a" />
<ellipse cx="358.18" cy="320.95" rx="1.6" ry="1.9500000000000002" fill="#111" stroke="none" stroke-width="1" />
<ellipse cx="358.18" cy="325.45" rx="1.6" ry="1.9500000000000002" fill="#111" stroke="none" stroke-width="1" />
<path d="M107.2 318.1h0.8v0.8h-0.8zM110.5 317.0h0.8v0.8h-0.8zM109.4 321.1h0.8v0.8h-0.8zM104.6 323.1h0.8v0.8h-0.8zM104.4 322.1h0.8v0.8h-0.8zM104.7 317.3h0.8v0.8h-0.8zM108.2 327.6h0.8v0.8h-0.8zM105.2 319.1h0.8v0.8h-0.8zM110.3 329.3h0.8v0.8h-0.8zM109.8 321.6h0.8v0.8h-0.8zM113.8 316.7h0.8v0.8h-0.8zM112.6 320.1h0.8v0.8h-0.8zM105.4 317.6h0.8v0.8h-0.8zM107.1 327.4h0.8v0.8h-0.8zM105.8 324.1h0.8v0.8h-0.8zM110.4 321.2h0.8v0.8h-0.8zM109.5 316.9h0.8v0.8h-0.8zM104.6 318.9h0.8v0.8h-0.8zM110.8 322.0h0.8v0.8h-0.8zM107.1 324.2h0.8v0.8h-0.8zM108.5 320.2h0.8v0.8h-0.8zM111.9 325.8h0.8v0.8h-0.8zM106.4 324.0h0.8v0.8h-0.8zM109.3 328.3h0.8v0.8h-0.8zM111.3 320.0h0.8v0.8h-0.8zM113.8 317.7h0.8v0.8h-0.8zM108.2 326.6h0.8v0.8h-0.8zM105.5 322.8h0.8v0.8h-0.8zM104.4 325.4h0.8v0.8h-0.8zM111.6 324.0h0.8v0.8h-0.8zM112.8 320.4h0.8v0.8h-0.8zM111.0 324.3h0.8v0.8h-0.8zM109.8 322.4h0.8v0.8h-0.8zM112.4 329.2h0.8v0.8h-0.8zM108.7 325.3h0.8v0.8h-0.8zM104.6 325.8h0.8v0.8h-0.8zM110.5 329.9h0.8v0.8h-0.8zM112.2 320.0h0.8v0.8h-0.8zM107.9 325.4h0.8v0.8h-0.8zM104.2 322.5h0.8v0.8h-0.8z" fill="#aaa"/>
<path d="M155.3 327.5h0.7v0.7h-0.7zM149.1 324.5h0.7v0.7h-0.7zM149.6 323.0h0.7v0.7h-0.7zM130.2 319.6h0.7v0.7h-0.7zM124.3 324.4h0.7v0.7h-0.7zM149.4 330.0h0.7v0.7h-0.7zM148.6 324.6h0.7v0.7h-0.7zM150.9 323.4h0.7v0.7h-0.7zM114.8 327.7h0.7v0.7h-0.7zM135.0 324.4h0.7v0.7h-0.7zM158.0 325.1h0.7v0.7h-0.7zM125.2 327.1h0.7v0.7h-0.7zM128.7 328.2h0.7v0.7h-0.7zM119.7 323.1h0.7v0.7h-0.7zM155.0 319.9h0.7v0.7h-0.7zM143.2 324.1h0.7v0.7h-0.7zM155.3 321.5h0.7v0.7h-0.7zM151.7 332.1h0.7v0.7h-0.7zM120.1 319.9h0.7v0.7h-0.7zM148.4 320.8h0.7v0.7h-0.7zM122.2 329.4h0.7v0.7h-0.7zM155.7 328.1h0.7v0.7h-0.7zM157.5 326.5h0.7v0.7h-0.7zM129.9 313.6h0.7v0.7h-0.7zM149.2 319.1h0.7v0.7h-0.7zM142.6 325.2h0.7v0.7h-0.7zM123.6 322.1h0.7v0.7h-0.7zM118.3 322.7h0.7v0.7h-0.7zM142.0 325.9h0.7v0.7h-0.7zM152.8 323.3h0.7v0.7h-0.7zM138.4 327.2h0.7v0.7h-0.7zM121.0 328.3h0.7v0.7h-0.7zM146.7 321.4h0.7v0.7h-0.7zM133.3 324.5h0.7v0.7h-0.7zM120.3 313.7h0.7v0.7h-0.7zM147.1 329.5h0.7v0.7h-0.7zM139.3 323.6h0.7v0.7h-0.7zM141.1 319.4h0.7v0.7h-0.7zM147.2 326.8h0.7v0.7h-0.7zM141.6 327.1h0.7v0.7h-0.7zM126.3 324.4h0.7v0.7h-0.7zM130.2 321.3h0.7v0.7h-0.7zM144.9 324.0h0.7v0.7h-0.7zM153.3 326.0h0.7v0.7h-0.7zM123.8 328.6h0.7v0.7h-0.7zM118.0 322.8h0.7v0.7h-0.7zM145.0 322.8h0.7v0.7h-0.7zM147.7 323.2h0.7v0.7h-0.7zM126.2 326.4h0.7v0.7h-0.7zM139.5 319.3h0.7v0.7h-0.7zM141.0 322.9h0.7v0.7h-0.7zM144.9 320.6h0.7v0.7h-0.7zM142.6 322.3h0.7v0.7h-0.7zM163.1 321.5h0.7v0.7h-0.7zM158.4 322.7h0.7v0.7h-0.7zM156.2 332.5h0.7v0.7h-0.7zM134.5 323.6h0.7v0.7h-0.7zM127.1 320.1h0.7v0.7h-0.7zM132.0 323.4h0.7v0.7h-0.7zM153.3 326.7h0.7v0.7h-0.7zM133.0 323.6h0.7v0.7h-0.7zM119.1 325.4h0.7v0.7h-0.7zM136.6 318.6h0.7v0.7h-0.7zM129.6 325.3h0.7v0.7h-0.7zM141.4 325.6h0.7v0.7h-0.7zM133.7 323.6h0.7v0.7h-0.7zM136.6 316.8h0.7v0.7h-0.7zM137.7 322.4h0.7v0.7h-0.7zM130.2 326.2h0.7v0.7h-0.7zM140.6 318.3h0.7v0.7h-0.7zM137.4 320.4h0.7v0.7h-0.7zM142.2 327.8h0.7v0.7h-0.7zM139.2 317.2h0.7v0.7h-0.7zM159.3 323.2h0.7v0.7h-0.7zM159.4 319.4h0.7v0.7h-0.7zM141.9 326.3h0.7v0.7h-0.7zM117.3 330.0h0.7v0.7h-0.7zM150.0 319.1h0.7v0.7h-0.7zM115.2 315.9h0.7v0.7h-0.7zM142.4 319.7h0.7v0.7h-0.7zM145.2 320.8h0.7v0.7h-0.7zM115.8 330.4h0.7v0.7h-0.7zM146.9 320.2h0.7v0.7h-0.7zM135.1 328.3h0.7v0.7h-0.7z" fill="#bdbdbd"/>
<path d="M113.6,323.2 C115.5,320.5 118.5,318.6 122,318.4 C124,317 126.5,316.8 128.5,317.2 C131,316.2 133.5,316.4 135.5,316.8 C138,316 140.5,316.2 142.5,316.6 C145,315.9 148,316 151,316.3 C155,316.4 158.6,318.5 159.6,322 C160.2,325.5 158,328.9 153.5,329.7 C151,330.4 149,329.7 147,330 C145,330.6 143,329.8 141,330.2 C139,330.7 137,329.8 135,330.1 C133,330.6 131,329.8 129,330 C127,330.5 125,329.6 123,329.6 C119,329.8 116,327 113.6,323.2 Z" stroke="#000" stroke-width="1.4" fill="#c8c8c8" />
<path d="M113.9,323.2 C115.5,321.2 117.5,320.2 119.5,320.2 L119.5,326.2 C117.5,326.2 115.5,325.2 113.9,323.2 Z" stroke="#000" stroke-width="0.8" fill="#000" />
<path d="M119.5,323.2 C121,321 123.5,320.3 126,320.5 L126,325.9 C123.5,326.1 121,325.4 119.5,323.2 Z" stroke="#555" stroke-width="0.8" fill="#888" />
<circle cx="129.3" cy="323.2" r="2.85" fill="#9a9a9a" stroke="#1a1a1a" stroke-width="1.1" />
<circle cx="129.3" cy="323.2" r="1.1" fill="#333" stroke="none" stroke-width="1" />
<circle cx="135.3" cy="323.2" r="2.85" fill="#9a9a9a" stroke="#1a1a1a" stroke-width="1.1" />
<circle cx="135.3" cy="323.2" r="1.1" fill="#333" stroke="none" stroke-width="1" />
<circle cx="141.3" cy="323.2" r="2.85" fill="#9a9a9a" stroke="#1a1a1a" stroke-width="1.1" />
<circle cx="141.3" cy="323.2" r="1.1" fill="#333" stroke="none" stroke-width="1" />
<circle cx="146.8" cy="323.2" r="2.85" fill="#9a9a9a" stroke="#1a1a1a" stroke-width="1.1" />
<circle cx="146.8" cy="323.2" r="1.1" fill="#333" stroke="none" stroke-width="1" />
<path d="M150.6,317.6 C156,317.6 158.8,320.4 158.8,323.2 C158.8,326 156,328.8 150.6,328.8 C151.6,326 151.6,320.4 150.6,317.6 Z" stroke="#000" stroke-width="1.3" fill="#444" />
<ellipse cx="154.6" cy="323.2" rx="1.5" ry="3.2" fill="#1a1a1a" stroke="none" stroke-width="1" />
<text class="c" transform="translate(16,312.3) rotate(-90)" font-size="9.4" text-anchor="middle" textLength="12.4" lengthAdjust="spacingAndGlyphs" fill="#2a2a2a">CD8</text>
<line x1="12.8" y1="369.7" x2="12.8" y2="331" stroke="#111" stroke-width="1.2" />
<path d="M12.8,325.4 L16.3,332.6 L9.3,332.6 Z" stroke="#111" stroke-width="0.3" fill="#111" />
<line x1="33" y1="383.8" x2="337" y2="383.8" stroke="#111" stroke-width="1.2" />
<path d="M344.6,383.8 L336.2,380.8 L336.2,386.8 Z" stroke="#111" stroke-width="0.3" fill="#111" />
<text x="351" y="387.3" font-size="9.5" textLength="16.2" lengthAdjust="spacingAndGlyphs" fill="#2a2a2a" class="c">CFSE</text>
<text x="390.5" y="275" font-size="11" font-weight="bold" fill="#000" >F</text>
<line x1="429.8" y1="290" x2="429.8" y2="345.3" stroke="#1a1a1a" stroke-width="1.3" />
<line x1="429.5" y1="344.8" x2="510.2" y2="344.8" stroke="#1a1a1a" stroke-width="1.2" />
<line x1="427.3" y1="345.0" x2="430" y2="345.0" stroke="#1a1a1a" stroke-width="1.1" />
<text x="423.4" y="347.1" font-size="8" text-anchor="end" fill="#2a2a2a" >0</text>
<line x1="427.3" y1="331.95" x2="430" y2="331.95" stroke="#1a1a1a" stroke-width="1.1" />
<text x="423.4" y="334.05" font-size="8" text-anchor="end" fill="#2a2a2a" >20</text>
<line x1="427.3" y1="318.9" x2="430" y2="318.9" stroke="#1a1a1a" stroke-width="1.1" />
<text x="423.4" y="321.0" font-size="8" text-anchor="end" fill="#2a2a2a" >40</text>
<line x1="427.3" y1="305.85" x2="430" y2="305.85" stroke="#1a1a1a" stroke-width="1.1" />
<text x="423.4" y="307.95000000000005" font-size="8" text-anchor="end" fill="#2a2a2a" >60</text>
<line x1="427.3" y1="292.8" x2="430" y2="292.8" stroke="#1a1a1a" stroke-width="1.1" />
<text x="423.4" y="294.90000000000003" font-size="8" text-anchor="end" fill="#2a2a2a" >80</text>
<line x1="449.5" y1="344.8" x2="449.5" y2="347.5" stroke="#1a1a1a" stroke-width="1.1" />
<line x1="470" y1="344.8" x2="470" y2="347.5" stroke="#1a1a1a" stroke-width="1.1" />
<line x1="489.8" y1="344.8" x2="489.8" y2="347.5" stroke="#1a1a1a" stroke-width="1.1" />
<line x1="509.6" y1="344.8" x2="509.6" y2="347.5" stroke="#1a1a1a" stroke-width="1.1" />
<rect x="433.3" y="307.6" width="13.3" height="37.2" fill="#ec9320" stroke="none" stroke-width="1" />
<line x1="440" y1="307.6" x2="440" y2="302.4" stroke="#1a1a1a" stroke-width="1.1" />
<line x1="438" y1="302.4" x2="442" y2="302.4" stroke="#1a1a1a" stroke-width="1.2" />
<rect x="454.5" y="343.2" width="10" height="1.6" fill="#2a3a2a" stroke="none" stroke-width="1" />
<rect x="472.5" y="342.6" width="13.9" height="2.2" fill="#a8173c" stroke="none" stroke-width="1" />
<line x1="479.4" y1="342.6" x2="479.4" y2="341.6" stroke="#1a1a1a" stroke-width="1" />
<line x1="477.5" y1="341.6" x2="481.3" y2="341.6" stroke="#1a1a1a" stroke-width="1" />
<rect x="491.6" y="341.7" width="13.9" height="3.1" fill="#2b4f6e" stroke="none" stroke-width="1" />
<line x1="498.5" y1="341.7" x2="498.5" y2="340.8" stroke="#1a1a1a" stroke-width="1" />
<line x1="496.6" y1="340.8" x2="500.4" y2="340.8" stroke="#1a1a1a" stroke-width="1" />
<path d="M441,274 V270.3 H461 V274" stroke="#1a1a1a" stroke-width="1.1" fill="none" />
<path d="M441,287 V283.3 H480 V287" stroke="#1a1a1a" stroke-width="1.1" fill="none" />
<path d="M441,298.6 V294.6 H500.5 V298.6" stroke="#1a1a1a" stroke-width="1.1" fill="none" />
<path d="M480,334.9 V331.9 H500.3 V334.9" stroke="#1a1a1a" stroke-width="1.1" fill="none" />
<circle cx="450.3" cy="266.4" r="0.8" fill="#333" stroke="none" stroke-width="1" />
<circle cx="459.6" cy="279.4" r="0.8" fill="#333" stroke="none" stroke-width="1" />
<circle cx="470.3" cy="290.7" r="0.8" fill="#333" stroke="none" stroke-width="1" />
<text x="489.6" y="329.1" font-size="8.6" text-anchor="middle" fill="#2a2a2a" >NS</text>
<text class="c" transform="translate(395.4,318.9) rotate(-90)" font-size="9" text-anchor="middle" textLength="31.5" lengthAdjust="spacingAndGlyphs" fill="#2a2a2a">CD8 T cell</text>
<text class="c" transform="translate(407.6,317.6) rotate(-90)" font-size="9" text-anchor="middle" textLength="49.5" lengthAdjust="spacingAndGlyphs" fill="#2a2a2a">proliferation (%)</text>
<text transform="translate(441.2,356) rotate(-45)" font-size="8.1" text-anchor="end" fill="#2a2a2a">Control</text>
<text transform="translate(461.2,356) rotate(-45)" font-size="8.1" text-anchor="end" fill="#2a2a2a">Naive</text>
<text transform="translate(481.2,356) rotate(-45)" font-size="8.1" text-anchor="end" fill="#2a2a2a">(-) Δm157</text>
<text transform="translate(501.2,356) rotate(-45)" font-size="8.1" text-anchor="end" fill="#2a2a2a">(+) Δm157</text>
<text x="8.8" y="410.8" font-size="11" font-weight="bold" fill="#000" >G</text>
<text x="25.3" y="413.4" font-size="7.8" textLength="64.4" lengthAdjust="spacingAndGlyphs" fill="#2a2a2a" >Sorted Gr1<tspan font-size="5.02" dy="-3.04">HI</tspan><tspan dy="3.04"> cells</tspan></text>
<rect x="27.3" y="418.1" width="66.8" height="68.2" fill="#fff" stroke="#8a8a8a" stroke-width="1" />
<line x1="25.8" y1="425.1" x2="28.3" y2="425.1" stroke="#555" stroke-width="0.8" />
<line x1="25.8" y1="439.9" x2="28.3" y2="439.9" stroke="#555" stroke-width="0.8" />
<line x1="25.8" y1="456.2" x2="28.3" y2="456.2" stroke="#555" stroke-width="0.8" />
<line x1="25.8" y1="474.1" x2="28.3" y2="474.1" stroke="#555" stroke-width="0.8" />
<line x1="25.8" y1="481" x2="28.3" y2="481" stroke="#555" stroke-width="0.8" />
<rect x="26.0" y="471" width="2.3" height="5" fill="#333" stroke="none" stroke-width="1" />
<line x1="31.308" y1="486.3" x2="31.308" y2="488.3" stroke="#555" stroke-width="0.8" />
<line x1="38.656" y1="486.3" x2="38.656" y2="488.3" stroke="#555" stroke-width="0.8" />
<line x1="47.34" y1="486.3" x2="47.34" y2="488.3" stroke="#555" stroke-width="0.8" />
<line x1="62.036" y1="486.3" x2="62.036" y2="488.3" stroke="#555" stroke-width="0.8" />
<line x1="79.404" y1="486.3" x2="79.404" y2="488.3" stroke="#555" stroke-width="0.8" />
<line x1="90.092" y1="486.3" x2="90.092" y2="488.3" stroke="#555" stroke-width="0.8" />
<rect x="33.099999999999994" y="486" width="2.6" height="1.8" fill="#222" stroke="none" stroke-width="1" />
<rect x="114.6" y="418.1" width="67.9" height="68.2" fill="#fff" stroke="#8a8a8a" stroke-width="1" />
<line x1="113.1" y1="425.1" x2="115.6" y2="425.1" stroke="#555" stroke-width="0.8" />
<line x1="113.1" y1="439.9" x2="115.6" y2="439.9" stroke="#555" stroke-width="0.8" />
<line x1="113.1" y1="456.2" x2="115.6" y2="456.2" stroke="#555" stroke-width="0.8" />
<line x1="113.1" y1="474.1" x2="115.6" y2="474.1" stroke="#555" stroke-width="0.8" />
<line x1="113.1" y1="481" x2="115.6" y2="481" stroke="#555" stroke-width="0.8" />
<rect x="113.3" y="471" width="2.3" height="5" fill="#333" stroke="none" stroke-width="1" />
<line x1="118.67399999999999" y1="486.3" x2="118.67399999999999" y2="488.3" stroke="#555" stroke-width="0.8" />
<line x1="126.143" y1="486.3" x2="126.143" y2="488.3" stroke="#555" stroke-width="0.8" />
<line x1="134.97" y1="486.3" x2="134.97" y2="488.3" stroke="#555" stroke-width="0.8" />
<line x1="149.90800000000002" y1="486.3" x2="149.90800000000002" y2="488.3" stroke="#555" stroke-width="0.8" />
<line x1="167.562" y1="486.3" x2="167.562" y2="488.3" stroke="#555" stroke-width="0.8" />
<line x1="178.426" y1="486.3" x2="178.426" y2="488.3" stroke="#555" stroke-width="0.8" />
<rect x="120.39999999999999" y="486" width="2.6" height="1.8" fill="#222" stroke="none" stroke-width="1" />
<line x1="21.700000000000003" y1="426.1" x2="23.900000000000002" y2="423.90000000000003" stroke="#666" stroke-width="0.9" />
<line x1="21.700000000000003" y1="440.9" x2="23.900000000000002" y2="438.7" stroke="#666" stroke-width="0.9" />
<line x1="21.700000000000003" y1="457.2" x2="23.900000000000002" y2="455.0" stroke="#666" stroke-width="0.9" />
<line x1="21.700000000000003" y1="475.1" x2="23.900000000000002" y2="472.90000000000003" stroke="#666" stroke-width="0.9" />
<line x1="30.108" y1="491.2" x2="32.308" y2="488.8" stroke="#666" stroke-width="0.9" />
<line x1="46.14" y1="491.2" x2="48.34" y2="488.8" stroke="#666" stroke-width="0.9" />
<line x1="60.836" y1="491.2" x2="63.036" y2="488.8" stroke="#666" stroke-width="0.9" />
<line x1="78.204" y1="491.2" x2="80.404" y2="488.8" stroke="#666" stroke-width="0.9" />
<line x1="88.892" y1="491.2" x2="91.092" y2="488.8" stroke="#666" stroke-width="0.9" />
<line x1="109.0" y1="426.1" x2="111.19999999999999" y2="423.90000000000003" stroke="#666" stroke-width="0.9" />
<line x1="109.0" y1="440.9" x2="111.19999999999999" y2="438.7" stroke="#666" stroke-width="0.9" />
<line x1="109.0" y1="457.2" x2="111.19999999999999" y2="455.0" stroke="#666" stroke-width="0.9" />
<line x1="109.0" y1="475.1" x2="111.19999999999999" y2="472.90000000000003" stroke="#666" stroke-width="0.9" />
<line x1="117.47399999999999" y1="491.2" x2="119.67399999999999" y2="488.8" stroke="#666" stroke-width="0.9" />
<line x1="133.77" y1="491.2" x2="135.97" y2="488.8" stroke="#666" stroke-width="0.9" />
<line x1="148.70800000000003" y1="491.2" x2="150.90800000000002" y2="488.8" stroke="#666" stroke-width="0.9" />
<line x1="166.36200000000002" y1="491.2" x2="168.562" y2="488.8" stroke="#666" stroke-width="0.9" />
<line x1="177.226" y1="491.2" x2="179.426" y2="488.8" stroke="#666" stroke-width="0.9" />
<path d="M57.9 456.5h0.8v0.8h-0.8zM89.0 450.2h0.8v0.8h-0.8zM61.5 458.4h0.8v0.8h-0.8zM40.2 453.3h0.8v0.8h-0.8zM69.6 472.1h0.8v0.8h-0.8zM34.2 439.3h0.8v0.8h-0.8zM34.0 473.2h0.8v0.8h-0.8zM73.8 421.8h0.8v0.8h-0.8zM92.8 483.6h0.8v0.8h-0.8zM71.2 460.2h0.8v0.8h-0.8zM38.4 420.0h0.8v0.8h-0.8zM62.9 423.0h0.8v0.8h-0.8zM40.6 435.2h0.8v0.8h-0.8zM30.0 450.1h0.8v0.8h-0.8zM57.1 475.4h0.8v0.8h-0.8zM62.3 461.9h0.8v0.8h-0.8zM61.0 463.4h0.8v0.8h-0.8zM58.2 437.6h0.8v0.8h-0.8zM93.8 485.7h0.8v0.8h-0.8zM83.5 466.4h0.8v0.8h-0.8zM48.8 434.4h0.8v0.8h-0.8zM47.1 423.7h0.8v0.8h-0.8zM78.6 445.8h0.8v0.8h-0.8zM83.9 444.9h0.8v0.8h-0.8zM91.2 475.8h0.8v0.8h-0.8zM28.0 433.1h0.8v0.8h-0.8zM88.1 450.5h0.8v0.8h-0.8zM92.7 445.6h0.8v0.8h-0.8zM32.8 461.2h0.8v0.8h-0.8zM79.4 437.1h0.8v0.8h-0.8zM33.8 441.3h0.8v0.8h-0.8zM91.6 469.8h0.8v0.8h-0.8zM35.8 435.5h0.8v0.8h-0.8zM34.7 423.0h0.8v0.8h-0.8zM80.6 430.9h0.8v0.8h-0.8zM64.9 449.0h0.8v0.8h-0.8zM40.6 468.0h0.8v0.8h-0.8zM36.6 462.1h0.8v0.8h-0.8zM35.7 447.2h0.8v0.8h-0.8zM42.0 437.1h0.8v0.8h-0.8zM92.1 472.8h0.8v0.8h-0.8zM48.1 478.3h0.8v0.8h-0.8zM41.9 445.4h0.8v0.8h-0.8zM84.4 462.0h0.8v0.8h-0.8zM34.6 485.3h0.8v0.8h-0.8zM42.1 436.3h0.8v0.8h-0.8zM79.0 441.0h0.8v0.8h-0.8zM47.6 423.9h0.8v0.8h-0.8zM33.9 458.0h0.8v0.8h-0.8zM44.0 459.3h0.8v0.8h-0.8z" fill="#cacaca"/>
<path d="M35.4 467.2h0.8v0.8h-0.8zM33.5 462.6h0.8v0.8h-0.8zM30.9 466.0h0.8v0.8h-0.8zM41.3 474.8h0.8v0.8h-0.8zM49.6 455.8h0.8v0.8h-0.8zM39.5 461.7h0.8v0.8h-0.8zM41.7 442.9h0.8v0.8h-0.8zM47.5 421.0h0.8v0.8h-0.8zM41.6 484.6h0.8v0.8h-0.8zM46.7 435.6h0.8v0.8h-0.8zM51.8 457.6h0.8v0.8h-0.8zM36.7 446.6h0.8v0.8h-0.8zM43.2 466.9h0.8v0.8h-0.8zM41.2 479.6h0.8v0.8h-0.8zM36.6 467.0h0.8v0.8h-0.8zM28.4 428.3h0.8v0.8h-0.8zM41.3 459.0h0.8v0.8h-0.8zM58.8 450.7h0.8v0.8h-0.8zM44.7 438.5h0.8v0.8h-0.8zM42.5 463.1h0.8v0.8h-0.8zM38.7 469.7h0.8v0.8h-0.8zM54.8 463.7h0.8v0.8h-0.8zM41.8 452.8h0.8v0.8h-0.8zM47.7 441.4h0.8v0.8h-0.8zM50.9 447.2h0.8v0.8h-0.8zM44.8 440.2h0.8v0.8h-0.8zM34.0 444.3h0.8v0.8h-0.8zM47.0 456.1h0.8v0.8h-0.8zM43.0 469.2h0.8v0.8h-0.8zM34.4 467.8h0.8v0.8h-0.8zM37.1 443.1h0.8v0.8h-0.8zM37.5 470.2h0.8v0.8h-0.8zM57.0 447.8h0.8v0.8h-0.8zM32.7 433.6h0.8v0.8h-0.8zM42.6 461.4h0.8v0.8h-0.8zM45.8 458.9h0.8v0.8h-0.8zM54.6 456.1h0.8v0.8h-0.8zM45.9 451.6h0.8v0.8h-0.8zM33.7 424.3h0.8v0.8h-0.8zM42.5 447.0h0.8v0.8h-0.8zM37.5 446.8h0.8v0.8h-0.8zM42.6 456.9h0.8v0.8h-0.8zM46.0 459.8h0.8v0.8h-0.8zM40.1 457.5h0.8v0.8h-0.8zM39.5 456.0h0.8v0.8h-0.8zM47.9 456.8h0.8v0.8h-0.8zM31.8 427.4h0.8v0.8h-0.8zM37.8 454.9h0.8v0.8h-0.8zM44.0 469.2h0.8v0.8h-0.8zM45.5 459.4h0.8v0.8h-0.8zM43.5 483.9h0.8v0.8h-0.8zM48.8 444.5h0.8v0.8h-0.8zM42.9 463.8h0.8v0.8h-0.8zM33.7 432.3h0.8v0.8h-0.8zM45.9 447.6h0.8v0.8h-0.8zM40.3 456.3h0.8v0.8h-0.8zM39.5 466.0h0.8v0.8h-0.8zM44.6 458.9h0.8v0.8h-0.8zM49.7 454.5h0.8v0.8h-0.8zM30.9 455.1h0.8v0.8h-0.8zM30.2 458.2h0.8v0.8h-0.8zM31.6 454.8h0.8v0.8h-0.8zM53.2 464.5h0.8v0.8h-0.8zM34.9 435.4h0.8v0.8h-0.8zM38.1 469.4h0.8v0.8h-0.8zM47.0 433.8h0.8v0.8h-0.8zM49.7 459.1h0.8v0.8h-0.8zM48.7 474.4h0.8v0.8h-0.8zM34.7 463.0h0.8v0.8h-0.8zM43.7 470.2h0.8v0.8h-0.8zM39.5 435.6h0.8v0.8h-0.8zM43.6 468.8h0.8v0.8h-0.8zM39.8 451.7h0.8v0.8h-0.8zM43.6 453.3h0.8v0.8h-0.8zM38.4 449.4h0.8v0.8h-0.8zM55.3 449.2h0.8v0.8h-0.8zM43.8 471.3h0.8v0.8h-0.8zM52.0 432.3h0.8v0.8h-0.8zM35.3 438.0h0.8v0.8h-0.8zM41.0 423.9h0.8v0.8h-0.8zM29.6 453.3h0.8v0.8h-0.8zM45.2 439.0h0.8v0.8h-0.8zM44.3 473.1h0.8v0.8h-0.8zM33.7 473.0h0.8v0.8h-0.8zM41.8 424.5h0.8v0.8h-0.8zM43.5 456.9h0.8v0.8h-0.8zM55.2 445.5h0.8v0.8h-0.8z" fill="#c0c0c0"/>
<path d="M32.7 438.6h0.8v0.8h-0.8zM34.6 437.6h0.8v0.8h-0.8zM36.5 438.4h0.8v0.8h-0.8zM34.6 440.8h0.8v0.8h-0.8zM34.2 436.5h0.8v0.8h-0.8zM32.8 437.6h0.8v0.8h-0.8zM36.1 439.5h0.8v0.8h-0.8zM36.8 440.9h0.8v0.8h-0.8zM37.8 439.2h0.8v0.8h-0.8zM37.2 439.3h0.8v0.8h-0.8zM34.2 439.5h0.8v0.8h-0.8zM35.2 438.1h0.8v0.8h-0.8zM38.3 439.5h0.8v0.8h-0.8zM34.3 438.3h0.8v0.8h-0.8zM38.9 438.0h0.8v0.8h-0.8zM36.3 439.3h0.8v0.8h-0.8zM35.9 439.2h0.8v0.8h-0.8zM34.3 437.7h0.8v0.8h-0.8zM34.8 437.9h0.8v0.8h-0.8zM36.4 440.6h0.8v0.8h-0.8zM33.6 439.2h0.8v0.8h-0.8zM33.5 437.4h0.8v0.8h-0.8zM34.7 438.5h0.8v0.8h-0.8zM34.4 434.7h0.8v0.8h-0.8zM37.3 438.0h0.8v0.8h-0.8zM34.1 439.3h0.8v0.8h-0.8zM34.1 436.4h0.8v0.8h-0.8zM35.9 439.0h0.8v0.8h-0.8zM33.7 439.6h0.8v0.8h-0.8zM35.7 436.8h0.8v0.8h-0.8zM37.9 438.8h0.8v0.8h-0.8zM33.2 439.0h0.8v0.8h-0.8zM35.3 439.8h0.8v0.8h-0.8zM32.9 439.9h0.8v0.8h-0.8zM36.6 439.4h0.8v0.8h-0.8zM36.1 440.2h0.8v0.8h-0.8zM36.3 438.6h0.8v0.8h-0.8zM33.7 440.0h0.8v0.8h-0.8zM36.7 438.8h0.8v0.8h-0.8zM35.3 439.4h0.8v0.8h-0.8zM31.0 438.8h0.8v0.8h-0.8zM31.0 438.7h0.8v0.8h-0.8zM36.8 441.1h0.8v0.8h-0.8zM34.3 439.0h0.8v0.8h-0.8zM35.0 435.2h0.8v0.8h-0.8zM36.3 438.3h0.8v0.8h-0.8zM35.2 437.0h0.8v0.8h-0.8zM35.0 438.5h0.8v0.8h-0.8zM37.2 438.8h0.8v0.8h-0.8zM40.7 437.8h0.8v0.8h-0.8zM34.6 438.3h0.8v0.8h-0.8zM33.8 440.5h0.8v0.8h-0.8zM36.1 436.6h0.8v0.8h-0.8zM35.3 440.0h0.8v0.8h-0.8zM32.8 438.6h0.8v0.8h-0.8zM34.7 441.7h0.8v0.8h-0.8zM35.7 437.8h0.8v0.8h-0.8zM34.2 441.0h0.8v0.8h-0.8zM34.3 441.6h0.8v0.8h-0.8zM32.5 438.1h0.8v0.8h-0.8zM34.7 437.4h0.8v0.8h-0.8zM34.7 439.3h0.8v0.8h-0.8zM34.0 436.3h0.8v0.8h-0.8zM37.3 440.5h0.8v0.8h-0.8zM34.0 438.8h0.8v0.8h-0.8zM30.9 439.8h0.8v0.8h-0.8zM32.9 437.6h0.8v0.8h-0.8zM38.6 436.6h0.8v0.8h-0.8zM35.1 436.8h0.8v0.8h-0.8zM32.1 436.7h0.8v0.8h-0.8zM35.5 436.5h0.8v0.8h-0.8zM34.1 439.4h0.8v0.8h-0.8zM34.8 436.5h0.8v0.8h-0.8zM37.5 438.5h0.8v0.8h-0.8zM37.4 436.9h0.8v0.8h-0.8zM37.8 436.5h0.8v0.8h-0.8zM32.2 437.8h0.8v0.8h-0.8zM34.5 438.7h0.8v0.8h-0.8zM34.2 439.3h0.8v0.8h-0.8zM37.2 437.4h0.8v0.8h-0.8zM32.8 437.8h0.8v0.8h-0.8zM36.4 439.5h0.8v0.8h-0.8zM34.5 437.0h0.8v0.8h-0.8zM35.0 439.7h0.8v0.8h-0.8zM33.9 440.2h0.8v0.8h-0.8zM35.4 438.8h0.8v0.8h-0.8zM34.1 440.3h0.8v0.8h-0.8zM35.1 436.2h0.8v0.8h-0.8zM36.4 437.8h0.8v0.8h-0.8zM36.8 438.6h0.8v0.8h-0.8z" fill="#666"/>
<path d="M64.5 439.4h0.8v0.8h-0.8zM60.3 435.5h0.8v0.8h-0.8zM66.7 438.4h0.8v0.8h-0.8zM67.6 438.3h0.8v0.8h-0.8zM64.7 437.0h0.8v0.8h-0.8zM60.9 437.4h0.8v0.8h-0.8zM63.2 438.8h0.8v0.8h-0.8zM69.3 436.2h0.8v0.8h-0.8zM69.8 437.7h0.8v0.8h-0.8zM72.3 439.5h0.8v0.8h-0.8zM69.0 435.6h0.8v0.8h-0.8zM69.6 435.8h0.8v0.8h-0.8zM75.1 436.9h0.8v0.8h-0.8zM64.5 439.9h0.8v0.8h-0.8zM55.0 437.8h0.8v0.8h-0.8zM59.2 437.1h0.8v0.8h-0.8zM60.8 438.6h0.8v0.8h-0.8zM63.8 438.2h0.8v0.8h-0.8zM69.5 435.7h0.8v0.8h-0.8zM74.2 437.4h0.8v0.8h-0.8zM55.6 436.9h0.8v0.8h-0.8zM71.0 439.0h0.8v0.8h-0.8zM61.5 437.9h0.8v0.8h-0.8zM67.1 439.0h0.8v0.8h-0.8zM64.9 438.9h0.8v0.8h-0.8zM60.3 436.9h0.8v0.8h-0.8zM69.7 438.6h0.8v0.8h-0.8zM65.4 438.5h0.8v0.8h-0.8zM67.0 438.7h0.8v0.8h-0.8zM72.8 438.4h0.8v0.8h-0.8zM70.7 437.3h0.8v0.8h-0.8zM62.3 434.9h0.8v0.8h-0.8zM68.2 437.8h0.8v0.8h-0.8zM69.0 435.5h0.8v0.8h-0.8zM62.7 437.1h0.8v0.8h-0.8zM54.7 438.8h0.8v0.8h-0.8zM73.2 436.2h0.8v0.8h-0.8zM68.4 439.9h0.8v0.8h-0.8zM58.3 438.9h0.8v0.8h-0.8zM75.4 440.0h0.8v0.8h-0.8zM57.4 436.4h0.8v0.8h-0.8zM67.0 439.2h0.8v0.8h-0.8zM58.0 436.8h0.8v0.8h-0.8zM58.9 439.1h0.8v0.8h-0.8zM62.3 438.4h0.8v0.8h-0.8zM69.7 439.2h0.8v0.8h-0.8zM68.3 438.2h0.8v0.8h-0.8zM72.8 438.3h0.8v0.8h-0.8zM58.0 437.1h0.8v0.8h-0.8zM71.3 437.9h0.8v0.8h-0.8zM63.5 438.0h0.8v0.8h-0.8zM86.1 437.7h0.8v0.8h-0.8zM68.7 438.3h0.8v0.8h-0.8zM64.0 439.2h0.8v0.8h-0.8zM71.0 438.2h0.8v0.8h-0.8zM57.4 439.3h0.8v0.8h-0.8zM70.4 437.6h0.8v0.8h-0.8zM49.1 437.7h0.8v0.8h-0.8zM58.2 437.5h0.8v0.8h-0.8zM62.6 436.7h0.8v0.8h-0.8zM71.9 437.9h0.8v0.8h-0.8zM73.3 436.6h0.8v0.8h-0.8zM64.5 439.4h0.8v0.8h-0.8zM67.7 436.8h0.8v0.8h-0.8zM60.2 437.0h0.8v0.8h-0.8zM65.2 438.6h0.8v0.8h-0.8zM66.6 438.7h0.8v0.8h-0.8zM70.9 437.9h0.8v0.8h-0.8zM73.6 438.6h0.8v0.8h-0.8zM64.6 437.5h0.8v0.8h-0.8zM65.6 436.8h0.8v0.8h-0.8zM57.4 437.8h0.8v0.8h-0.8zM62.5 438.5h0.8v0.8h-0.8zM62.0 437.9h0.8v0.8h-0.8zM66.9 437.2h0.8v0.8h-0.8zM66.9 436.8h0.8v0.8h-0.8zM63.0 438.7h0.8v0.8h-0.8zM68.1 437.7h0.8v0.8h-0.8zM60.8 438.6h0.8v0.8h-0.8zM78.0 435.1h0.8v0.8h-0.8zM72.1 438.0h0.8v0.8h-0.8zM72.4 439.2h0.8v0.8h-0.8zM59.4 439.9h0.8v0.8h-0.8zM62.0 437.4h0.8v0.8h-0.8zM69.5 437.6h0.8v0.8h-0.8zM67.3 437.1h0.8v0.8h-0.8zM59.3 437.8h0.8v0.8h-0.8zM58.9 439.4h0.8v0.8h-0.8zM67.2 439.5h0.8v0.8h-0.8zM58.0 435.2h0.8v0.8h-0.8z" fill="#a0a0a0"/>
<path d="M77.1 468.8h0.8v0.8h-0.8zM56.3 452.8h0.8v0.8h-0.8zM66.5 467.7h0.8v0.8h-0.8zM66.1 455.5h0.8v0.8h-0.8zM63.3 471.4h0.8v0.8h-0.8zM56.3 469.3h0.8v0.8h-0.8zM71.5 466.1h0.8v0.8h-0.8zM73.4 460.5h0.8v0.8h-0.8zM66.4 473.4h0.8v0.8h-0.8zM64.2 461.2h0.8v0.8h-0.8zM56.1 460.9h0.8v0.8h-0.8zM73.2 470.4h0.8v0.8h-0.8zM72.5 467.0h0.8v0.8h-0.8zM72.0 465.4h0.8v0.8h-0.8zM75.4 462.7h0.8v0.8h-0.8zM75.9 463.1h0.8v0.8h-0.8zM54.6 456.5h0.8v0.8h-0.8zM65.8 461.0h0.8v0.8h-0.8zM57.7 459.4h0.8v0.8h-0.8zM68.8 465.7h0.8v0.8h-0.8zM74.1 458.8h0.8v0.8h-0.8zM70.3 469.2h0.8v0.8h-0.8zM70.1 473.1h0.8v0.8h-0.8zM63.6 463.5h0.8v0.8h-0.8zM68.7 461.3h0.8v0.8h-0.8zM66.9 464.8h0.8v0.8h-0.8zM67.1 460.8h0.8v0.8h-0.8zM63.8 463.1h0.8v0.8h-0.8zM55.2 464.5h0.8v0.8h-0.8zM58.7 462.2h0.8v0.8h-0.8zM58.8 464.1h0.8v0.8h-0.8zM64.4 462.1h0.8v0.8h-0.8zM61.5 464.1h0.8v0.8h-0.8zM79.9 453.8h0.8v0.8h-0.8zM71.4 464.7h0.8v0.8h-0.8zM64.3 456.6h0.8v0.8h-0.8zM79.7 464.5h0.8v0.8h-0.8zM75.2 461.5h0.8v0.8h-0.8zM61.3 469.3h0.8v0.8h-0.8zM73.1 461.9h0.8v0.8h-0.8zM65.6 466.9h0.8v0.8h-0.8zM61.1 459.0h0.8v0.8h-0.8zM67.0 468.9h0.8v0.8h-0.8zM74.1 464.5h0.8v0.8h-0.8zM77.9 462.7h0.8v0.8h-0.8zM63.5 476.1h0.8v0.8h-0.8zM63.5 466.8h0.8v0.8h-0.8zM71.7 464.2h0.8v0.8h-0.8zM69.1 467.3h0.8v0.8h-0.8zM71.7 460.4h0.8v0.8h-0.8zM67.4 471.0h0.8v0.8h-0.8zM73.1 461.2h0.8v0.8h-0.8zM67.9 458.2h0.8v0.8h-0.8zM57.3 460.7h0.8v0.8h-0.8zM79.9 460.2h0.8v0.8h-0.8zM52.0 463.0h0.8v0.8h-0.8zM62.0 467.5h0.8v0.8h-0.8zM77.0 461.8h0.8v0.8h-0.8zM68.3 458.8h0.8v0.8h-0.8zM76.8 459.7h0.8v0.8h-0.8zM67.6 476.3h0.8v0.8h-0.8zM60.2 464.5h0.8v0.8h-0.8zM67.0 466.1h0.8v0.8h-0.8zM71.0 471.5h0.8v0.8h-0.8zM71.2 466.8h0.8v0.8h-0.8zM57.8 465.7h0.8v0.8h-0.8zM57.0 470.1h0.8v0.8h-0.8zM67.0 468.8h0.8v0.8h-0.8zM63.6 464.8h0.8v0.8h-0.8zM68.1 466.5h0.8v0.8h-0.8zM66.6 460.4h0.8v0.8h-0.8zM64.5 460.1h0.8v0.8h-0.8zM60.2 457.1h0.8v0.8h-0.8zM56.0 473.7h0.8v0.8h-0.8zM61.7 457.6h0.8v0.8h-0.8zM75.1 465.1h0.8v0.8h-0.8zM66.4 469.7h0.8v0.8h-0.8zM81.9 459.0h0.8v0.8h-0.8zM78.5 466.6h0.8v0.8h-0.8zM76.5 460.7h0.8v0.8h-0.8zM80.5 469.8h0.8v0.8h-0.8zM47.2 470.4h0.8v0.8h-0.8zM77.9 456.2h0.8v0.8h-0.8zM70.0 462.6h0.8v0.8h-0.8zM69.2 459.0h0.8v0.8h-0.8zM72.5 467.5h0.8v0.8h-0.8zM66.6 463.2h0.8v0.8h-0.8zM54.0 466.5h0.8v0.8h-0.8zM57.5 463.7h0.8v0.8h-0.8zM61.2 477.6h0.8v0.8h-0.8zM67.4 471.8h0.8v0.8h-0.8zM67.1 463.4h0.8v0.8h-0.8zM73.2 463.4h0.8v0.8h-0.8zM85.6 462.6h0.8v0.8h-0.8zM80.1 457.2h0.8v0.8h-0.8zM60.3 467.1h0.8v0.8h-0.8zM56.7 474.1h0.8v0.8h-0.8zM71.6 464.0h0.8v0.8h-0.8zM81.3 460.8h0.8v0.8h-0.8zM61.6 449.6h0.8v0.8h-0.8zM52.3 462.0h0.8v0.8h-0.8zM51.2 467.7h0.8v0.8h-0.8zM75.1 466.0h0.8v0.8h-0.8zM54.7 458.9h0.8v0.8h-0.8zM56.6 467.4h0.8v0.8h-0.8zM75.5 462.3h0.8v0.8h-0.8zM67.9 464.8h0.8v0.8h-0.8zM73.2 458.7h0.8v0.8h-0.8zM59.9 467.8h0.8v0.8h-0.8zM71.4 466.2h0.8v0.8h-0.8zM67.8 467.7h0.8v0.8h-0.8zM71.1 460.3h0.8v0.8h-0.8zM80.8 469.4h0.8v0.8h-0.8zM65.5 463.0h0.8v0.8h-0.8zM61.8 456.0h0.8v0.8h-0.8zM59.2 455.8h0.8v0.8h-0.8zM62.2 465.3h0.8v0.8h-0.8zM66.9 455.8h0.8v0.8h-0.8zM65.8 460.1h0.8v0.8h-0.8zM58.8 469.5h0.8v0.8h-0.8zM59.2 468.5h0.8v0.8h-0.8zM54.1 465.1h0.8v0.8h-0.8zM61.9 468.8h0.8v0.8h-0.8zM70.6 459.3h0.8v0.8h-0.8zM72.4 470.5h0.8v0.8h-0.8zM77.9 471.6h0.8v0.8h-0.8zM64.6 475.3h0.8v0.8h-0.8zM62.8 462.8h0.8v0.8h-0.8zM55.3 462.4h0.8v0.8h-0.8zM56.0 464.2h0.8v0.8h-0.8zM53.5 473.7h0.8v0.8h-0.8zM73.8 472.2h0.8v0.8h-0.8zM76.7 464.5h0.8v0.8h-0.8zM71.2 464.7h0.8v0.8h-0.8zM52.6 457.2h0.8v0.8h-0.8zM64.3 468.7h0.8v0.8h-0.8zM56.5 464.6h0.8v0.8h-0.8zM62.9 467.6h0.8v0.8h-0.8zM73.5 457.9h0.8v0.8h-0.8zM58.4 471.6h0.8v0.8h-0.8zM75.8 463.5h0.8v0.8h-0.8zM74.1 463.9h0.8v0.8h-0.8zM71.2 461.5h0.8v0.8h-0.8zM71.8 472.7h0.8v0.8h-0.8zM79.0 470.5h0.8v0.8h-0.8zM68.5 468.9h0.8v0.8h-0.8zM64.1 462.0h0.8v0.8h-0.8zM68.6 457.7h0.8v0.8h-0.8zM69.0 454.2h0.8v0.8h-0.8zM80.5 468.2h0.8v0.8h-0.8zM69.9 459.8h0.8v0.8h-0.8zM62.7 461.5h0.8v0.8h-0.8zM54.3 461.3h0.8v0.8h-0.8zM60.2 468.2h0.8v0.8h-0.8zM78.1 471.6h0.8v0.8h-0.8zM56.7 456.1h0.8v0.8h-0.8zM78.9 467.9h0.8v0.8h-0.8zM75.9 467.3h0.8v0.8h-0.8zM69.4 475.3h0.8v0.8h-0.8zM74.4 467.4h0.8v0.8h-0.8zM59.5 464.5h0.8v0.8h-0.8zM78.2 466.7h0.8v0.8h-0.8zM74.8 462.6h0.8v0.8h-0.8zM73.2 460.5h0.8v0.8h-0.8zM66.0 469.5h0.8v0.8h-0.8zM81.0 461.9h0.8v0.8h-0.8zM65.8 462.3h0.8v0.8h-0.8zM66.0 463.8h0.8v0.8h-0.8zM74.5 465.5h0.8v0.8h-0.8zM67.4 466.1h0.8v0.8h-0.8zM53.4 462.8h0.8v0.8h-0.8zM83.2 458.0h0.8v0.8h-0.8zM62.8 465.0h0.8v0.8h-0.8zM75.5 462.2h0.8v0.8h-0.8zM59.1 472.1h0.8v0.8h-0.8zM48.9 458.7h0.8v0.8h-0.8zM61.5 450.8h0.8v0.8h-0.8zM78.3 474.3h0.8v0.8h-0.8zM55.4 461.3h0.8v0.8h-0.8zM65.4 467.4h0.8v0.8h-0.8zM65.9 466.7h0.8v0.8h-0.8zM71.2 462.8h0.8v0.8h-0.8zM67.8 471.3h0.8v0.8h-0.8zM68.9 467.2h0.8v0.8h-0.8zM67.2 467.5h0.8v0.8h-0.8zM80.4 464.1h0.8v0.8h-0.8zM63.6 459.5h0.8v0.8h-0.8zM75.6 459.3h0.8v0.8h-0.8zM71.2 477.5h0.8v0.8h-0.8zM69.2 473.4h0.8v0.8h-0.8zM67.5 463.1h0.8v0.8h-0.8zM72.1 458.8h0.8v0.8h-0.8zM48.0 463.3h0.8v0.8h-0.8zM61.6 464.7h0.8v0.8h-0.8zM83.2 467.0h0.8v0.8h-0.8zM55.2 465.9h0.8v0.8h-0.8zM53.1 451.6h0.8v0.8h-0.8zM84.6 458.5h0.8v0.8h-0.8zM49.7 463.2h0.8v0.8h-0.8zM65.9 466.2h0.8v0.8h-0.8zM66.1 462.5h0.8v0.8h-0.8zM74.3 462.7h0.8v0.8h-0.8zM61.4 465.6h0.8v0.8h-0.8zM62.9 469.6h0.8v0.8h-0.8zM67.7 462.6h0.8v0.8h-0.8zM64.0 467.0h0.8v0.8h-0.8zM75.6 462.0h0.8v0.8h-0.8zM49.6 467.9h0.8v0.8h-0.8zM61.3 467.0h0.8v0.8h-0.8zM62.6 465.9h0.8v0.8h-0.8zM65.4 459.2h0.8v0.8h-0.8zM56.9 463.1h0.8v0.8h-0.8zM68.7 454.5h0.8v0.8h-0.8zM47.9 465.1h0.8v0.8h-0.8zM85.1 459.2h0.8v0.8h-0.8zM65.3 457.6h0.8v0.8h-0.8zM57.2 471.9h0.8v0.8h-0.8zM54.2 465.0h0.8v0.8h-0.8zM61.5 466.9h0.8v0.8h-0.8zM80.2 464.5h0.8v0.8h-0.8zM65.0 469.7h0.8v0.8h-0.8zM65.0 453.2h0.8v0.8h-0.8zM78.4 460.7h0.8v0.8h-0.8zM69.3 476.1h0.8v0.8h-0.8zM75.1 465.4h0.8v0.8h-0.8zM81.1 458.7h0.8v0.8h-0.8zM54.0 457.3h0.8v0.8h-0.8zM68.3 464.9h0.8v0.8h-0.8zM62.0 475.7h0.8v0.8h-0.8zM74.2 464.7h0.8v0.8h-0.8zM61.9 463.3h0.8v0.8h-0.8zM69.9 461.6h0.8v0.8h-0.8zM91.1 473.2h0.8v0.8h-0.8zM73.0 463.8h0.8v0.8h-0.8zM53.5 469.7h0.8v0.8h-0.8zM62.0 469.6h0.8v0.8h-0.8zM71.0 456.3h0.8v0.8h-0.8zM68.0 462.6h0.8v0.8h-0.8zM65.7 463.2h0.8v0.8h-0.8zM68.4 462.5h0.8v0.8h-0.8zM74.3 466.8h0.8v0.8h-0.8zM66.3 462.9h0.8v0.8h-0.8zM64.9 461.5h0.8v0.8h-0.8zM66.3 464.9h0.8v0.8h-0.8zM65.1 453.2h0.8v0.8h-0.8zM68.2 458.7h0.8v0.8h-0.8zM67.3 477.6h0.8v0.8h-0.8zM75.9 450.3h0.8v0.8h-0.8zM53.1 469.3h0.8v0.8h-0.8zM61.1 454.8h0.8v0.8h-0.8zM53.3 462.8h0.8v0.8h-0.8zM60.9 463.5h0.8v0.8h-0.8zM65.0 463.7h0.8v0.8h-0.8zM64.0 459.1h0.8v0.8h-0.8zM73.3 472.3h0.8v0.8h-0.8zM60.4 462.7h0.8v0.8h-0.8zM84.0 457.5h0.8v0.8h-0.8zM58.3 466.6h0.8v0.8h-0.8zM74.8 463.5h0.8v0.8h-0.8zM76.8 463.0h0.8v0.8h-0.8z" fill="#888"/>
<path d="M68.1 463.1h0.9v0.9h-0.9zM67.0 461.3h0.9v0.9h-0.9zM68.3 463.1h0.9v0.9h-0.9zM73.3 459.9h0.9v0.9h-0.9zM81.5 452.8h0.9v0.9h-0.9zM67.6 466.1h0.9v0.9h-0.9zM66.1 460.7h0.9v0.9h-0.9zM67.0 465.5h0.9v0.9h-0.9zM74.3 458.1h0.9v0.9h-0.9zM68.5 461.0h0.9v0.9h-0.9zM73.2 461.5h0.9v0.9h-0.9zM68.0 466.7h0.9v0.9h-0.9zM65.3 463.8h0.9v0.9h-0.9zM62.5 462.0h0.9v0.9h-0.9zM55.8 460.1h0.9v0.9h-0.9zM63.9 460.6h0.9v0.9h-0.9zM79.1 455.3h0.9v0.9h-0.9zM54.1 463.7h0.9v0.9h-0.9zM70.3 463.4h0.9v0.9h-0.9zM73.4 469.9h0.9v0.9h-0.9zM64.1 458.5h0.9v0.9h-0.9zM65.8 466.8h0.9v0.9h-0.9zM69.2 462.2h0.9v0.9h-0.9zM68.6 463.9h0.9v0.9h-0.9zM57.0 464.4h0.9v0.9h-0.9zM62.1 462.1h0.9v0.9h-0.9zM63.8 463.2h0.9v0.9h-0.9zM72.2 462.2h0.9v0.9h-0.9zM67.7 466.0h0.9v0.9h-0.9zM69.5 460.7h0.9v0.9h-0.9zM71.4 461.6h0.9v0.9h-0.9zM65.3 463.7h0.9v0.9h-0.9zM75.5 460.1h0.9v0.9h-0.9zM64.6 463.5h0.9v0.9h-0.9zM62.0 463.3h0.9v0.9h-0.9zM74.1 457.0h0.9v0.9h-0.9zM67.0 460.6h0.9v0.9h-0.9zM78.6 464.9h0.9v0.9h-0.9zM70.3 462.6h0.9v0.9h-0.9zM61.0 463.2h0.9v0.9h-0.9zM68.9 463.1h0.9v0.9h-0.9zM77.1 465.5h0.9v0.9h-0.9zM61.7 461.7h0.9v0.9h-0.9zM68.6 459.0h0.9v0.9h-0.9zM65.8 460.9h0.9v0.9h-0.9zM67.9 463.4h0.9v0.9h-0.9zM63.3 467.2h0.9v0.9h-0.9zM63.6 465.2h0.9v0.9h-0.9zM61.0 459.8h0.9v0.9h-0.9zM63.4 461.6h0.9v0.9h-0.9zM71.6 458.0h0.9v0.9h-0.9zM76.4 459.0h0.9v0.9h-0.9zM75.4 463.6h0.9v0.9h-0.9zM64.1 465.8h0.9v0.9h-0.9zM64.3 463.0h0.9v0.9h-0.9zM67.4 472.6h0.9v0.9h-0.9zM61.4 469.4h0.9v0.9h-0.9zM65.4 460.7h0.9v0.9h-0.9zM64.2 467.2h0.9v0.9h-0.9zM65.8 460.4h0.9v0.9h-0.9zM70.5 463.9h0.9v0.9h-0.9zM73.0 459.2h0.9v0.9h-0.9zM75.4 467.0h0.9v0.9h-0.9zM62.9 461.9h0.9v0.9h-0.9zM69.6 462.2h0.9v0.9h-0.9zM71.4 464.9h0.9v0.9h-0.9zM66.8 459.2h0.9v0.9h-0.9zM55.4 463.9h0.9v0.9h-0.9zM59.7 466.7h0.9v0.9h-0.9zM76.9 463.4h0.9v0.9h-0.9zM71.8 467.1h0.9v0.9h-0.9zM71.5 459.2h0.9v0.9h-0.9zM61.2 461.3h0.9v0.9h-0.9zM67.3 460.1h0.9v0.9h-0.9zM68.0 467.3h0.9v0.9h-0.9zM64.6 463.0h0.9v0.9h-0.9zM61.2 462.5h0.9v0.9h-0.9zM72.1 467.4h0.9v0.9h-0.9zM68.2 460.3h0.9v0.9h-0.9zM78.1 456.1h0.9v0.9h-0.9zM64.3 460.4h0.9v0.9h-0.9zM66.9 464.9h0.9v0.9h-0.9zM64.4 474.8h0.9v0.9h-0.9zM78.7 465.8h0.9v0.9h-0.9zM64.2 457.9h0.9v0.9h-0.9zM73.7 465.9h0.9v0.9h-0.9zM69.6 467.8h0.9v0.9h-0.9zM69.7 458.3h0.9v0.9h-0.9zM56.2 461.7h0.9v0.9h-0.9zM67.7 465.1h0.9v0.9h-0.9zM68.5 462.4h0.9v0.9h-0.9zM62.3 464.8h0.9v0.9h-0.9zM71.1 461.0h0.9v0.9h-0.9zM61.4 461.6h0.9v0.9h-0.9zM61.1 463.7h0.9v0.9h-0.9zM60.0 464.1h0.9v0.9h-0.9zM62.0 464.6h0.9v0.9h-0.9zM80.7 459.2h0.9v0.9h-0.9zM67.5 471.0h0.9v0.9h-0.9zM72.2 463.6h0.9v0.9h-0.9zM70.0 462.0h0.9v0.9h-0.9zM58.7 454.2h0.9v0.9h-0.9zM62.6 460.9h0.9v0.9h-0.9zM73.2 463.9h0.9v0.9h-0.9zM57.8 464.5h0.9v0.9h-0.9zM59.6 466.9h0.9v0.9h-0.9zM60.8 465.7h0.9v0.9h-0.9zM67.5 461.3h0.9v0.9h-0.9zM73.1 462.2h0.9v0.9h-0.9zM52.7 464.3h0.9v0.9h-0.9zM61.3 461.5h0.9v0.9h-0.9zM68.2 465.4h0.9v0.9h-0.9zM67.7 459.4h0.9v0.9h-0.9zM62.7 459.1h0.9v0.9h-0.9zM65.3 460.6h0.9v0.9h-0.9zM71.2 460.5h0.9v0.9h-0.9zM72.3 468.9h0.9v0.9h-0.9zM69.6 462.3h0.9v0.9h-0.9zM73.6 460.0h0.9v0.9h-0.9zM66.4 467.4h0.9v0.9h-0.9zM70.1 462.3h0.9v0.9h-0.9zM65.1 461.2h0.9v0.9h-0.9zM75.3 469.5h0.9v0.9h-0.9zM75.3 463.1h0.9v0.9h-0.9zM68.7 460.1h0.9v0.9h-0.9zM60.5 465.1h0.9v0.9h-0.9zM70.6 458.6h0.9v0.9h-0.9zM59.7 464.0h0.9v0.9h-0.9zM59.1 466.5h0.9v0.9h-0.9zM73.7 459.2h0.9v0.9h-0.9zM65.0 466.0h0.9v0.9h-0.9zM72.6 462.8h0.9v0.9h-0.9zM66.0 462.0h0.9v0.9h-0.9zM70.0 464.9h0.9v0.9h-0.9zM65.5 461.2h0.9v0.9h-0.9zM66.1 462.2h0.9v0.9h-0.9zM64.2 458.6h0.9v0.9h-0.9zM67.1 465.6h0.9v0.9h-0.9zM67.3 466.9h0.9v0.9h-0.9zM68.9 465.3h0.9v0.9h-0.9zM71.6 456.1h0.9v0.9h-0.9zM70.8 466.5h0.9v0.9h-0.9zM60.0 456.6h0.9v0.9h-0.9zM61.0 461.8h0.9v0.9h-0.9zM68.6 457.6h0.9v0.9h-0.9zM65.5 458.9h0.9v0.9h-0.9zM67.9 462.3h0.9v0.9h-0.9zM67.7 460.9h0.9v0.9h-0.9zM64.0 465.7h0.9v0.9h-0.9zM60.0 462.7h0.9v0.9h-0.9zM63.2 461.8h0.9v0.9h-0.9zM62.1 466.8h0.9v0.9h-0.9zM72.2 461.9h0.9v0.9h-0.9zM78.1 463.5h0.9v0.9h-0.9zM75.3 459.2h0.9v0.9h-0.9zM63.5 460.7h0.9v0.9h-0.9zM78.7 466.1h0.9v0.9h-0.9zM64.7 463.8h0.9v0.9h-0.9zM66.1 462.5h0.9v0.9h-0.9zM61.6 466.0h0.9v0.9h-0.9zM69.0 460.3h0.9v0.9h-0.9zM69.0 466.0h0.9v0.9h-0.9zM68.3 461.9h0.9v0.9h-0.9zM70.6 465.5h0.9v0.9h-0.9zM78.2 461.2h0.9v0.9h-0.9zM69.0 463.0h0.9v0.9h-0.9zM64.2 463.2h0.9v0.9h-0.9zM58.9 460.3h0.9v0.9h-0.9zM58.9 463.8h0.9v0.9h-0.9zM64.6 459.7h0.9v0.9h-0.9zM64.2 464.7h0.9v0.9h-0.9zM64.4 454.3h0.9v0.9h-0.9zM79.5 461.8h0.9v0.9h-0.9zM71.9 459.4h0.9v0.9h-0.9zM64.5 463.2h0.9v0.9h-0.9zM68.4 461.3h0.9v0.9h-0.9zM77.1 460.5h0.9v0.9h-0.9zM64.8 470.0h0.9v0.9h-0.9zM67.7 457.4h0.9v0.9h-0.9zM70.7 464.8h0.9v0.9h-0.9zM74.7 469.5h0.9v0.9h-0.9zM67.5 466.7h0.9v0.9h-0.9zM67.4 460.0h0.9v0.9h-0.9zM62.1 459.9h0.9v0.9h-0.9zM58.1 468.2h0.9v0.9h-0.9zM62.9 458.6h0.9v0.9h-0.9zM66.4 458.8h0.9v0.9h-0.9zM73.2 469.4h0.9v0.9h-0.9zM69.7 462.7h0.9v0.9h-0.9zM64.9 464.7h0.9v0.9h-0.9zM72.2 466.3h0.9v0.9h-0.9zM64.6 463.9h0.9v0.9h-0.9zM58.9 463.8h0.9v0.9h-0.9zM72.5 466.7h0.9v0.9h-0.9zM61.7 458.1h0.9v0.9h-0.9zM78.6 463.2h0.9v0.9h-0.9zM65.7 464.1h0.9v0.9h-0.9zM65.6 464.9h0.9v0.9h-0.9zM70.5 460.8h0.9v0.9h-0.9zM59.1 461.3h0.9v0.9h-0.9zM48.5 466.0h0.9v0.9h-0.9zM63.3 459.6h0.9v0.9h-0.9zM69.4 465.2h0.9v0.9h-0.9zM65.1 460.0h0.9v0.9h-0.9zM57.4 460.0h0.9v0.9h-0.9zM62.7 457.7h0.9v0.9h-0.9zM65.9 464.1h0.9v0.9h-0.9zM65.3 470.0h0.9v0.9h-0.9zM67.5 464.8h0.9v0.9h-0.9zM87.8 468.7h0.9v0.9h-0.9zM67.9 464.4h0.9v0.9h-0.9zM66.3 463.9h0.9v0.9h-0.9zM66.3 458.4h0.9v0.9h-0.9zM59.5 465.6h0.9v0.9h-0.9zM77.1 463.8h0.9v0.9h-0.9zM61.5 459.0h0.9v0.9h-0.9zM75.8 469.4h0.9v0.9h-0.9zM73.6 462.9h0.9v0.9h-0.9zM64.5 466.7h0.9v0.9h-0.9zM65.7 459.8h0.9v0.9h-0.9zM54.2 461.1h0.9v0.9h-0.9zM65.9 460.1h0.9v0.9h-0.9zM75.5 460.2h0.9v0.9h-0.9zM73.7 463.7h0.9v0.9h-0.9zM65.8 465.8h0.9v0.9h-0.9zM60.1 467.6h0.9v0.9h-0.9zM64.1 461.7h0.9v0.9h-0.9zM70.2 463.9h0.9v0.9h-0.9zM62.4 466.0h0.9v0.9h-0.9zM61.5 463.2h0.9v0.9h-0.9zM62.6 462.7h0.9v0.9h-0.9zM71.0 462.5h0.9v0.9h-0.9zM61.8 466.6h0.9v0.9h-0.9zM70.2 460.4h0.9v0.9h-0.9zM64.5 461.4h0.9v0.9h-0.9zM81.8 463.8h0.9v0.9h-0.9zM75.8 465.4h0.9v0.9h-0.9zM71.8 463.7h0.9v0.9h-0.9zM55.6 462.5h0.9v0.9h-0.9zM68.8 460.7h0.9v0.9h-0.9zM76.5 463.5h0.9v0.9h-0.9zM67.0 455.8h0.9v0.9h-0.9zM72.8 466.7h0.9v0.9h-0.9zM59.0 458.8h0.9v0.9h-0.9zM72.7 458.7h0.9v0.9h-0.9zM68.6 462.1h0.9v0.9h-0.9zM74.8 462.8h0.9v0.9h-0.9zM69.8 462.1h0.9v0.9h-0.9zM55.9 462.5h0.9v0.9h-0.9zM74.7 462.3h0.9v0.9h-0.9zM68.2 462.8h0.9v0.9h-0.9zM70.6 464.7h0.9v0.9h-0.9zM73.4 459.6h0.9v0.9h-0.9zM56.4 466.4h0.9v0.9h-0.9zM64.2 463.0h0.9v0.9h-0.9zM75.7 461.3h0.9v0.9h-0.9zM76.9 463.0h0.9v0.9h-0.9zM55.6 463.0h0.9v0.9h-0.9zM67.8 463.5h0.9v0.9h-0.9zM66.1 471.0h0.9v0.9h-0.9zM75.2 466.0h0.9v0.9h-0.9zM64.5 462.8h0.9v0.9h-0.9zM69.6 468.1h0.9v0.9h-0.9zM58.6 467.4h0.9v0.9h-0.9zM74.1 464.5h0.9v0.9h-0.9zM69.7 461.3h0.9v0.9h-0.9zM66.1 467.3h0.9v0.9h-0.9zM71.0 467.3h0.9v0.9h-0.9zM71.6 461.9h0.9v0.9h-0.9zM72.7 469.0h0.9v0.9h-0.9zM77.4 465.3h0.9v0.9h-0.9zM58.6 465.9h0.9v0.9h-0.9zM57.4 468.9h0.9v0.9h-0.9zM63.2 459.6h0.9v0.9h-0.9zM73.8 465.1h0.9v0.9h-0.9zM68.0 468.2h0.9v0.9h-0.9zM65.6 465.3h0.9v0.9h-0.9zM70.0 465.1h0.9v0.9h-0.9zM70.4 465.0h0.9v0.9h-0.9zM56.7 461.8h0.9v0.9h-0.9zM68.2 460.2h0.9v0.9h-0.9zM71.9 461.8h0.9v0.9h-0.9zM61.1 465.0h0.9v0.9h-0.9zM62.1 461.0h0.9v0.9h-0.9zM65.4 461.4h0.9v0.9h-0.9zM68.5 466.0h0.9v0.9h-0.9zM63.4 464.1h0.9v0.9h-0.9zM65.3 462.7h0.9v0.9h-0.9zM61.9 464.8h0.9v0.9h-0.9zM64.9 462.1h0.9v0.9h-0.9zM63.9 460.2h0.9v0.9h-0.9zM70.0 462.4h0.9v0.9h-0.9zM59.5 466.5h0.9v0.9h-0.9zM76.5 460.9h0.9v0.9h-0.9zM71.8 461.0h0.9v0.9h-0.9zM67.9 465.6h0.9v0.9h-0.9zM62.0 459.7h0.9v0.9h-0.9zM64.1 464.2h0.9v0.9h-0.9zM70.7 461.2h0.9v0.9h-0.9zM67.9 469.2h0.9v0.9h-0.9zM68.6 458.5h0.9v0.9h-0.9zM69.5 458.9h0.9v0.9h-0.9zM63.3 461.0h0.9v0.9h-0.9zM73.1 469.8h0.9v0.9h-0.9zM74.7 466.6h0.9v0.9h-0.9zM63.5 468.1h0.9v0.9h-0.9zM75.0 459.9h0.9v0.9h-0.9zM78.3 464.2h0.9v0.9h-0.9zM67.8 465.7h0.9v0.9h-0.9zM77.8 462.6h0.9v0.9h-0.9zM73.1 468.5h0.9v0.9h-0.9zM66.9 467.7h0.9v0.9h-0.9zM68.1 462.1h0.9v0.9h-0.9zM68.5 464.7h0.9v0.9h-0.9zM74.7 468.6h0.9v0.9h-0.9zM72.0 463.7h0.9v0.9h-0.9zM68.0 462.7h0.9v0.9h-0.9zM57.2 464.7h0.9v0.9h-0.9zM76.1 460.2h0.9v0.9h-0.9zM68.8 463.5h0.9v0.9h-0.9zM67.0 459.7h0.9v0.9h-0.9zM59.0 463.5h0.9v0.9h-0.9zM68.8 460.8h0.9v0.9h-0.9zM71.8 462.5h0.9v0.9h-0.9zM68.8 462.3h0.9v0.9h-0.9zM74.5 464.2h0.9v0.9h-0.9zM67.2 458.7h0.9v0.9h-0.9zM79.0 466.1h0.9v0.9h-0.9zM77.8 460.0h0.9v0.9h-0.9zM67.1 462.8h0.9v0.9h-0.9zM64.0 463.9h0.9v0.9h-0.9zM68.1 466.8h0.9v0.9h-0.9zM72.1 459.6h0.9v0.9h-0.9zM72.4 462.8h0.9v0.9h-0.9zM75.6 466.3h0.9v0.9h-0.9zM72.1 460.6h0.9v0.9h-0.9zM68.2 467.7h0.9v0.9h-0.9zM67.1 466.4h0.9v0.9h-0.9zM59.9 460.4h0.9v0.9h-0.9zM67.1 461.7h0.9v0.9h-0.9zM62.0 465.5h0.9v0.9h-0.9zM66.5 464.3h0.9v0.9h-0.9zM66.9 466.6h0.9v0.9h-0.9zM56.9 456.6h0.9v0.9h-0.9zM69.3 467.2h0.9v0.9h-0.9zM68.0 464.8h0.9v0.9h-0.9zM66.1 466.5h0.9v0.9h-0.9zM70.0 460.9h0.9v0.9h-0.9zM76.4 461.4h0.9v0.9h-0.9zM58.2 467.0h0.9v0.9h-0.9zM67.2 463.8h0.9v0.9h-0.9zM59.9 464.4h0.9v0.9h-0.9zM66.9 462.7h0.9v0.9h-0.9zM75.6 463.6h0.9v0.9h-0.9zM73.0 461.5h0.9v0.9h-0.9zM67.7 461.2h0.9v0.9h-0.9zM71.1 466.0h0.9v0.9h-0.9zM70.0 462.8h0.9v0.9h-0.9zM59.1 462.2h0.9v0.9h-0.9zM77.2 464.0h0.9v0.9h-0.9zM70.9 468.9h0.9v0.9h-0.9zM65.9 462.6h0.9v0.9h-0.9zM68.7 466.5h0.9v0.9h-0.9zM75.7 465.0h0.9v0.9h-0.9zM64.7 464.0h0.9v0.9h-0.9zM69.0 467.9h0.9v0.9h-0.9zM61.2 464.8h0.9v0.9h-0.9zM68.7 465.6h0.9v0.9h-0.9zM67.9 466.7h0.9v0.9h-0.9zM68.1 463.8h0.9v0.9h-0.9zM81.2 460.7h0.9v0.9h-0.9zM78.6 464.8h0.9v0.9h-0.9zM65.4 467.0h0.9v0.9h-0.9zM65.1 463.1h0.9v0.9h-0.9zM64.2 466.0h0.9v0.9h-0.9zM60.7 462.0h0.9v0.9h-0.9zM62.9 466.1h0.9v0.9h-0.9zM73.6 466.6h0.9v0.9h-0.9zM64.3 462.1h0.9v0.9h-0.9zM61.0 464.2h0.9v0.9h-0.9zM63.3 463.3h0.9v0.9h-0.9zM60.3 463.6h0.9v0.9h-0.9zM78.2 462.7h0.9v0.9h-0.9zM67.8 460.2h0.9v0.9h-0.9zM62.5 462.9h0.9v0.9h-0.9zM59.3 460.0h0.9v0.9h-0.9zM70.1 455.6h0.9v0.9h-0.9zM68.2 457.6h0.9v0.9h-0.9zM63.5 463.8h0.9v0.9h-0.9zM62.5 465.9h0.9v0.9h-0.9zM60.9 463.7h0.9v0.9h-0.9zM82.7 463.9h0.9v0.9h-0.9zM63.7 465.2h0.9v0.9h-0.9zM70.4 460.6h0.9v0.9h-0.9zM67.8 461.7h0.9v0.9h-0.9zM65.7 463.0h0.9v0.9h-0.9zM57.5 463.0h0.9v0.9h-0.9zM66.5 467.8h0.9v0.9h-0.9zM66.9 459.9h0.9v0.9h-0.9zM71.0 467.8h0.9v0.9h-0.9zM76.2 457.7h0.9v0.9h-0.9zM78.5 462.6h0.9v0.9h-0.9zM61.4 467.3h0.9v0.9h-0.9zM68.9 459.8h0.9v0.9h-0.9zM69.6 462.2h0.9v0.9h-0.9zM67.0 458.2h0.9v0.9h-0.9zM67.7 464.9h0.9v0.9h-0.9zM66.3 462.0h0.9v0.9h-0.9zM63.1 469.8h0.9v0.9h-0.9zM66.9 460.0h0.9v0.9h-0.9zM63.1 464.1h0.9v0.9h-0.9zM67.0 459.1h0.9v0.9h-0.9zM64.4 461.6h0.9v0.9h-0.9zM71.1 462.1h0.9v0.9h-0.9zM61.9 454.5h0.9v0.9h-0.9zM68.6 462.5h0.9v0.9h-0.9zM58.9 461.9h0.9v0.9h-0.9zM63.2 464.0h0.9v0.9h-0.9zM68.2 466.2h0.9v0.9h-0.9zM63.4 459.9h0.9v0.9h-0.9zM69.7 461.1h0.9v0.9h-0.9zM59.7 455.9h0.9v0.9h-0.9zM64.3 465.8h0.9v0.9h-0.9zM66.2 464.3h0.9v0.9h-0.9zM70.7 468.4h0.9v0.9h-0.9zM65.6 465.5h0.9v0.9h-0.9zM67.5 462.9h0.9v0.9h-0.9zM65.7 465.0h0.9v0.9h-0.9zM65.4 464.5h0.9v0.9h-0.9zM66.0 460.8h0.9v0.9h-0.9zM66.0 461.7h0.9v0.9h-0.9zM69.0 462.0h0.9v0.9h-0.9zM68.0 461.4h0.9v0.9h-0.9zM60.4 464.9h0.9v0.9h-0.9zM73.1 465.4h0.9v0.9h-0.9zM63.4 460.7h0.9v0.9h-0.9zM66.9 459.2h0.9v0.9h-0.9zM76.3 464.7h0.9v0.9h-0.9zM70.4 462.9h0.9v0.9h-0.9zM70.9 466.9h0.9v0.9h-0.9zM63.3 460.6h0.9v0.9h-0.9zM70.1 466.6h0.9v0.9h-0.9zM63.4 466.4h0.9v0.9h-0.9zM72.6 461.7h0.9v0.9h-0.9zM80.0 463.0h0.9v0.9h-0.9zM69.0 466.8h0.9v0.9h-0.9zM69.5 464.5h0.9v0.9h-0.9zM65.7 462.8h0.9v0.9h-0.9zM68.1 458.2h0.9v0.9h-0.9zM76.4 462.5h0.9v0.9h-0.9zM69.9 460.8h0.9v0.9h-0.9zM71.2 463.0h0.9v0.9h-0.9zM78.0 459.5h0.9v0.9h-0.9zM67.6 457.5h0.9v0.9h-0.9zM70.3 468.7h0.9v0.9h-0.9zM68.2 465.4h0.9v0.9h-0.9zM75.8 466.3h0.9v0.9h-0.9zM67.4 459.8h0.9v0.9h-0.9zM70.2 463.7h0.9v0.9h-0.9zM70.5 458.9h0.9v0.9h-0.9zM65.1 470.3h0.9v0.9h-0.9zM65.9 462.9h0.9v0.9h-0.9zM72.3 463.0h0.9v0.9h-0.9zM56.0 464.9h0.9v0.9h-0.9zM71.2 462.1h0.9v0.9h-0.9zM70.6 461.6h0.9v0.9h-0.9zM69.4 463.4h0.9v0.9h-0.9zM71.1 466.8h0.9v0.9h-0.9zM66.1 469.3h0.9v0.9h-0.9zM65.7 464.0h0.9v0.9h-0.9zM64.9 463.2h0.9v0.9h-0.9zM79.9 463.6h0.9v0.9h-0.9zM69.5 464.1h0.9v0.9h-0.9zM67.1 464.8h0.9v0.9h-0.9zM59.8 465.1h0.9v0.9h-0.9zM61.9 465.7h0.9v0.9h-0.9zM70.4 463.8h0.9v0.9h-0.9zM66.6 467.7h0.9v0.9h-0.9zM66.7 455.1h0.9v0.9h-0.9zM63.9 463.6h0.9v0.9h-0.9zM64.0 465.7h0.9v0.9h-0.9zM74.2 460.6h0.9v0.9h-0.9zM61.0 463.5h0.9v0.9h-0.9zM66.4 458.2h0.9v0.9h-0.9zM72.9 461.3h0.9v0.9h-0.9zM67.9 454.9h0.9v0.9h-0.9zM70.0 462.1h0.9v0.9h-0.9zM74.1 462.5h0.9v0.9h-0.9zM76.8 459.2h0.9v0.9h-0.9zM73.2 458.6h0.9v0.9h-0.9zM65.2 450.1h0.9v0.9h-0.9zM63.6 462.0h0.9v0.9h-0.9zM60.6 461.3h0.9v0.9h-0.9zM71.6 459.5h0.9v0.9h-0.9zM59.3 465.7h0.9v0.9h-0.9zM63.3 463.5h0.9v0.9h-0.9zM75.3 462.2h0.9v0.9h-0.9zM59.3 459.9h0.9v0.9h-0.9zM61.6 462.0h0.9v0.9h-0.9zM74.6 464.7h0.9v0.9h-0.9z" fill="#222"/>
<ellipse cx="67.3" cy="463.2" rx="8.5" ry="4.6" fill="#000" stroke="none" stroke-width="1" filter="url(#bl)"/>
<path d="M51.3,483.3 V462 C51.3,455 57,451.5 67,451.5 H90.5 V483.3 Z" stroke="#6a6a6a" stroke-width="1.1" fill="none" />
<rect x="79.5" y="440.8" width="12.5" height="7" fill="#fff" stroke="none" stroke-width="1" />
<text x="85.6" y="447.5" font-size="7.5" text-anchor="middle" fill="#2a2a2a" >91.3</text>
<line x1="90.7" y1="452.9" x2="113.5" y2="452.9" stroke="#111" stroke-width="1.2" />
<path d="M120,452.9 L112.5,449.8 L112.5,456 Z" stroke="#111" stroke-width="0.3" fill="#111" />
<path d="M126.1 465.2h0.8v0.8h-0.8zM157.5 451.1h0.8v0.8h-0.8zM129.5 472.1h0.8v0.8h-0.8zM169.1 453.3h0.8v0.8h-0.8zM148.8 434.8h0.8v0.8h-0.8zM115.2 443.9h0.8v0.8h-0.8zM154.2 423.6h0.8v0.8h-0.8zM168.2 434.6h0.8v0.8h-0.8zM130.6 421.8h0.8v0.8h-0.8zM181.8 468.5h0.8v0.8h-0.8zM173.6 460.3h0.8v0.8h-0.8zM117.3 441.0h0.8v0.8h-0.8zM148.3 426.8h0.8v0.8h-0.8zM178.8 443.7h0.8v0.8h-0.8zM125.4 473.8h0.8v0.8h-0.8zM123.4 481.2h0.8v0.8h-0.8zM145.4 456.0h0.8v0.8h-0.8zM138.0 451.5h0.8v0.8h-0.8zM127.5 421.5h0.8v0.8h-0.8zM173.0 434.7h0.8v0.8h-0.8zM167.3 433.0h0.8v0.8h-0.8zM179.9 478.9h0.8v0.8h-0.8zM165.6 470.1h0.8v0.8h-0.8zM153.9 467.9h0.8v0.8h-0.8zM123.2 450.9h0.8v0.8h-0.8zM170.4 432.5h0.8v0.8h-0.8zM176.9 478.5h0.8v0.8h-0.8zM142.4 443.5h0.8v0.8h-0.8zM145.2 444.8h0.8v0.8h-0.8zM181.7 444.9h0.8v0.8h-0.8zM116.8 425.2h0.8v0.8h-0.8zM163.1 485.5h0.8v0.8h-0.8zM148.2 451.9h0.8v0.8h-0.8zM151.9 469.1h0.8v0.8h-0.8zM129.9 459.8h0.8v0.8h-0.8zM152.3 460.7h0.8v0.8h-0.8zM127.1 430.4h0.8v0.8h-0.8zM138.3 481.1h0.8v0.8h-0.8zM138.2 459.0h0.8v0.8h-0.8zM135.5 425.9h0.8v0.8h-0.8z" fill="#c8c8c8"/>
<path d="M171.9 452.7h0.8v0.8h-0.8zM170.1 458.2h0.8v0.8h-0.8zM166.1 447.3h0.8v0.8h-0.8zM172.1 449.8h0.8v0.8h-0.8zM173.7 452.0h0.8v0.8h-0.8zM158.7 441.6h0.8v0.8h-0.8zM164.1 435.2h0.8v0.8h-0.8zM168.5 451.3h0.8v0.8h-0.8zM174.4 445.9h0.8v0.8h-0.8zM167.7 459.4h0.8v0.8h-0.8zM173.3 444.4h0.8v0.8h-0.8zM177.8 448.1h0.8v0.8h-0.8zM175.9 451.2h0.8v0.8h-0.8zM166.6 442.3h0.8v0.8h-0.8zM168.3 476.5h0.8v0.8h-0.8zM165.3 468.5h0.8v0.8h-0.8zM176.7 450.3h0.8v0.8h-0.8zM175.4 467.1h0.8v0.8h-0.8zM167.3 449.0h0.8v0.8h-0.8zM175.5 457.4h0.8v0.8h-0.8zM181.3 458.1h0.8v0.8h-0.8zM162.4 453.6h0.8v0.8h-0.8zM162.2 461.1h0.8v0.8h-0.8zM173.1 450.1h0.8v0.8h-0.8zM163.9 462.5h0.8v0.8h-0.8zM166.8 465.6h0.8v0.8h-0.8zM163.4 451.4h0.8v0.8h-0.8zM165.9 444.2h0.8v0.8h-0.8zM165.4 461.5h0.8v0.8h-0.8zM158.6 465.9h0.8v0.8h-0.8zM175.3 450.8h0.8v0.8h-0.8zM167.0 456.4h0.8v0.8h-0.8zM171.7 450.6h0.8v0.8h-0.8zM164.1 451.6h0.8v0.8h-0.8zM166.6 461.5h0.8v0.8h-0.8zM169.5 456.3h0.8v0.8h-0.8zM159.4 450.5h0.8v0.8h-0.8zM166.8 449.2h0.8v0.8h-0.8zM168.4 451.2h0.8v0.8h-0.8zM160.3 463.0h0.8v0.8h-0.8zM174.4 449.2h0.8v0.8h-0.8zM172.7 445.3h0.8v0.8h-0.8zM161.8 452.2h0.8v0.8h-0.8zM178.1 453.2h0.8v0.8h-0.8zM160.3 456.4h0.8v0.8h-0.8zM165.8 447.4h0.8v0.8h-0.8zM171.2 437.7h0.8v0.8h-0.8zM158.8 440.4h0.8v0.8h-0.8zM175.4 455.2h0.8v0.8h-0.8zM165.7 447.9h0.8v0.8h-0.8zM173.0 466.2h0.8v0.8h-0.8zM165.0 456.9h0.8v0.8h-0.8zM167.3 457.6h0.8v0.8h-0.8zM169.9 460.8h0.8v0.8h-0.8zM171.3 449.8h0.8v0.8h-0.8zM168.6 458.0h0.8v0.8h-0.8zM165.3 455.2h0.8v0.8h-0.8zM164.0 466.2h0.8v0.8h-0.8zM178.3 446.3h0.8v0.8h-0.8zM174.2 456.1h0.8v0.8h-0.8zM169.8 452.1h0.8v0.8h-0.8zM170.8 464.0h0.8v0.8h-0.8zM162.2 464.1h0.8v0.8h-0.8zM167.8 444.1h0.8v0.8h-0.8zM169.0 460.5h0.8v0.8h-0.8zM168.8 457.3h0.8v0.8h-0.8zM167.4 449.4h0.8v0.8h-0.8zM175.1 445.7h0.8v0.8h-0.8zM175.1 457.7h0.8v0.8h-0.8zM167.7 452.4h0.8v0.8h-0.8zM167.7 454.2h0.8v0.8h-0.8zM169.1 453.2h0.8v0.8h-0.8zM158.2 434.7h0.8v0.8h-0.8zM171.3 448.6h0.8v0.8h-0.8zM166.1 452.9h0.8v0.8h-0.8zM163.0 469.0h0.8v0.8h-0.8zM169.3 452.9h0.8v0.8h-0.8zM163.3 462.8h0.8v0.8h-0.8zM173.5 468.5h0.8v0.8h-0.8zM174.5 446.9h0.8v0.8h-0.8zM162.1 467.3h0.8v0.8h-0.8zM165.5 453.5h0.8v0.8h-0.8zM168.4 459.2h0.8v0.8h-0.8zM172.5 444.9h0.8v0.8h-0.8zM165.7 438.3h0.8v0.8h-0.8zM172.5 453.0h0.8v0.8h-0.8zM159.7 464.2h0.8v0.8h-0.8zM169.4 445.1h0.8v0.8h-0.8zM167.0 449.1h0.8v0.8h-0.8zM169.9 456.5h0.8v0.8h-0.8zM166.1 458.5h0.8v0.8h-0.8zM154.6 451.4h0.8v0.8h-0.8zM173.0 463.4h0.8v0.8h-0.8zM173.9 444.9h0.8v0.8h-0.8zM159.7 451.4h0.8v0.8h-0.8zM165.1 439.0h0.8v0.8h-0.8zM170.1 450.3h0.8v0.8h-0.8zM172.2 456.3h0.8v0.8h-0.8zM156.0 453.4h0.8v0.8h-0.8zM173.8 449.0h0.8v0.8h-0.8zM162.5 443.7h0.8v0.8h-0.8zM161.8 474.8h0.8v0.8h-0.8zM177.3 448.8h0.8v0.8h-0.8zM177.0 444.6h0.8v0.8h-0.8zM166.2 447.5h0.8v0.8h-0.8zM168.2 460.5h0.8v0.8h-0.8zM180.7 461.2h0.8v0.8h-0.8zM168.6 455.9h0.8v0.8h-0.8zM168.0 457.8h0.8v0.8h-0.8zM164.3 456.7h0.8v0.8h-0.8zM171.8 463.1h0.8v0.8h-0.8zM164.6 458.3h0.8v0.8h-0.8zM170.8 446.9h0.8v0.8h-0.8zM158.1 449.3h0.8v0.8h-0.8zM174.2 451.8h0.8v0.8h-0.8zM165.2 453.4h0.8v0.8h-0.8zM171.8 458.8h0.8v0.8h-0.8zM167.9 458.6h0.8v0.8h-0.8zM170.2 450.0h0.8v0.8h-0.8zM159.2 456.0h0.8v0.8h-0.8zM166.9 453.9h0.8v0.8h-0.8zM166.1 461.4h0.8v0.8h-0.8zM175.2 447.9h0.8v0.8h-0.8zM161.5 457.2h0.8v0.8h-0.8zM177.0 458.1h0.8v0.8h-0.8zM171.9 441.5h0.8v0.8h-0.8zM166.1 459.7h0.8v0.8h-0.8zM171.3 454.2h0.8v0.8h-0.8zM172.4 462.2h0.8v0.8h-0.8zM169.7 447.8h0.8v0.8h-0.8zM161.3 456.2h0.8v0.8h-0.8zM168.2 452.7h0.8v0.8h-0.8zM175.4 448.3h0.8v0.8h-0.8zM167.7 460.3h0.8v0.8h-0.8zM164.2 434.6h0.8v0.8h-0.8zM166.1 461.7h0.8v0.8h-0.8zM165.8 452.0h0.8v0.8h-0.8zM158.8 465.2h0.8v0.8h-0.8zM159.4 448.2h0.8v0.8h-0.8zM168.2 472.1h0.8v0.8h-0.8zM169.8 447.7h0.8v0.8h-0.8zM160.8 451.4h0.8v0.8h-0.8zM162.3 448.6h0.8v0.8h-0.8zM169.4 465.4h0.8v0.8h-0.8zM163.0 466.7h0.8v0.8h-0.8zM158.3 472.0h0.8v0.8h-0.8zM165.5 450.9h0.8v0.8h-0.8zM166.5 456.4h0.8v0.8h-0.8zM168.9 451.2h0.8v0.8h-0.8zM165.3 449.3h0.8v0.8h-0.8zM169.5 449.4h0.8v0.8h-0.8zM165.3 441.1h0.8v0.8h-0.8zM169.3 458.7h0.8v0.8h-0.8zM163.5 463.4h0.8v0.8h-0.8zM168.9 455.2h0.8v0.8h-0.8zM159.7 459.9h0.8v0.8h-0.8zM176.2 471.9h0.8v0.8h-0.8zM165.8 453.7h0.8v0.8h-0.8zM173.3 459.1h0.8v0.8h-0.8zM165.6 454.8h0.8v0.8h-0.8zM174.6 459.4h0.8v0.8h-0.8zM168.8 463.8h0.8v0.8h-0.8zM160.9 458.2h0.8v0.8h-0.8zM165.5 451.0h0.8v0.8h-0.8zM173.7 470.1h0.8v0.8h-0.8zM171.7 455.4h0.8v0.8h-0.8zM178.3 461.2h0.8v0.8h-0.8zM156.9 448.8h0.8v0.8h-0.8zM165.5 448.2h0.8v0.8h-0.8zM160.9 460.2h0.8v0.8h-0.8zM170.2 470.1h0.8v0.8h-0.8zM167.7 455.5h0.8v0.8h-0.8zM165.1 463.6h0.8v0.8h-0.8zM176.2 469.6h0.8v0.8h-0.8zM174.9 449.2h0.8v0.8h-0.8zM175.9 446.2h0.8v0.8h-0.8zM165.9 452.7h0.8v0.8h-0.8zM180.8 448.1h0.8v0.8h-0.8zM163.8 456.6h0.8v0.8h-0.8zM175.8 459.6h0.8v0.8h-0.8zM172.3 446.9h0.8v0.8h-0.8zM167.2 466.0h0.8v0.8h-0.8zM169.9 448.7h0.8v0.8h-0.8zM167.4 466.6h0.8v0.8h-0.8zM178.8 458.3h0.8v0.8h-0.8zM164.8 469.6h0.8v0.8h-0.8zM165.8 455.5h0.8v0.8h-0.8zM171.7 454.5h0.8v0.8h-0.8zM168.4 469.1h0.8v0.8h-0.8zM171.1 441.8h0.8v0.8h-0.8zM166.1 466.4h0.8v0.8h-0.8zM168.4 445.4h0.8v0.8h-0.8zM174.4 459.0h0.8v0.8h-0.8zM169.6 459.7h0.8v0.8h-0.8zM167.3 456.3h0.8v0.8h-0.8zM172.6 449.6h0.8v0.8h-0.8zM176.2 445.2h0.8v0.8h-0.8zM180.8 455.3h0.8v0.8h-0.8zM171.4 443.8h0.8v0.8h-0.8zM173.7 447.2h0.8v0.8h-0.8zM172.1 454.8h0.8v0.8h-0.8zM165.0 470.5h0.8v0.8h-0.8zM170.3 450.0h0.8v0.8h-0.8zM167.4 457.5h0.8v0.8h-0.8zM169.7 462.3h0.8v0.8h-0.8zM166.3 456.6h0.8v0.8h-0.8zM166.8 448.4h0.8v0.8h-0.8zM173.9 447.4h0.8v0.8h-0.8zM160.5 460.6h0.8v0.8h-0.8zM166.6 459.7h0.8v0.8h-0.8zM172.3 459.2h0.8v0.8h-0.8zM169.9 468.6h0.8v0.8h-0.8zM163.7 465.1h0.8v0.8h-0.8zM168.7 457.4h0.8v0.8h-0.8z" fill="#aaa"/>
<path d="M162.4 432.6h0.8v0.8h-0.8zM169.1 455.6h0.8v0.8h-0.8zM165.8 447.3h0.8v0.8h-0.8zM168.9 445.1h0.8v0.8h-0.8zM167.2 446.7h0.8v0.8h-0.8zM163.0 433.4h0.8v0.8h-0.8zM157.5 444.2h0.8v0.8h-0.8zM165.7 440.8h0.8v0.8h-0.8zM155.2 439.8h0.8v0.8h-0.8zM163.7 436.1h0.8v0.8h-0.8zM161.1 451.5h0.8v0.8h-0.8zM169.1 444.9h0.8v0.8h-0.8zM165.1 438.8h0.8v0.8h-0.8zM162.6 444.4h0.8v0.8h-0.8zM160.8 439.9h0.8v0.8h-0.8zM170.2 434.7h0.8v0.8h-0.8zM161.0 449.7h0.8v0.8h-0.8zM165.4 441.9h0.8v0.8h-0.8zM160.8 434.1h0.8v0.8h-0.8zM168.6 428.3h0.8v0.8h-0.8zM165.8 438.3h0.8v0.8h-0.8zM163.6 430.8h0.8v0.8h-0.8zM167.4 443.9h0.8v0.8h-0.8zM165.1 443.1h0.8v0.8h-0.8zM158.8 441.9h0.8v0.8h-0.8zM165.8 440.6h0.8v0.8h-0.8zM151.9 440.5h0.8v0.8h-0.8zM164.4 435.5h0.8v0.8h-0.8zM164.2 447.3h0.8v0.8h-0.8zM163.7 447.5h0.8v0.8h-0.8zM161.9 437.4h0.8v0.8h-0.8zM165.0 436.6h0.8v0.8h-0.8zM157.5 442.7h0.8v0.8h-0.8zM164.0 443.9h0.8v0.8h-0.8zM160.7 438.8h0.8v0.8h-0.8zM165.9 438.6h0.8v0.8h-0.8zM163.2 442.1h0.8v0.8h-0.8zM161.1 442.2h0.8v0.8h-0.8zM158.4 443.4h0.8v0.8h-0.8zM174.2 444.2h0.8v0.8h-0.8zM162.5 433.0h0.8v0.8h-0.8zM159.5 439.6h0.8v0.8h-0.8zM161.0 443.4h0.8v0.8h-0.8zM164.5 444.8h0.8v0.8h-0.8zM163.1 444.9h0.8v0.8h-0.8zM169.2 436.6h0.8v0.8h-0.8zM163.6 440.4h0.8v0.8h-0.8zM163.7 446.6h0.8v0.8h-0.8zM162.7 436.6h0.8v0.8h-0.8zM158.9 433.8h0.8v0.8h-0.8zM163.6 445.4h0.8v0.8h-0.8zM164.2 437.1h0.8v0.8h-0.8zM163.4 436.5h0.8v0.8h-0.8zM167.9 441.6h0.8v0.8h-0.8zM169.6 444.3h0.8v0.8h-0.8zM166.4 436.4h0.8v0.8h-0.8zM166.0 439.2h0.8v0.8h-0.8zM161.9 441.9h0.8v0.8h-0.8zM170.2 443.5h0.8v0.8h-0.8zM171.7 444.4h0.8v0.8h-0.8zM158.9 438.6h0.8v0.8h-0.8zM171.3 444.0h0.8v0.8h-0.8zM164.4 439.0h0.8v0.8h-0.8zM164.8 443.3h0.8v0.8h-0.8zM162.6 441.0h0.8v0.8h-0.8zM165.2 436.0h0.8v0.8h-0.8zM163.2 437.7h0.8v0.8h-0.8zM161.8 436.9h0.8v0.8h-0.8zM161.9 437.3h0.8v0.8h-0.8zM170.8 440.4h0.8v0.8h-0.8zM165.6 437.4h0.8v0.8h-0.8zM164.7 443.4h0.8v0.8h-0.8zM170.2 449.7h0.8v0.8h-0.8zM162.6 449.9h0.8v0.8h-0.8zM164.5 447.2h0.8v0.8h-0.8zM164.0 444.9h0.8v0.8h-0.8zM163.9 434.8h0.8v0.8h-0.8zM166.4 439.9h0.8v0.8h-0.8zM163.8 442.6h0.8v0.8h-0.8zM166.2 453.3h0.8v0.8h-0.8zM160.3 439.0h0.8v0.8h-0.8zM160.8 447.4h0.8v0.8h-0.8zM163.2 438.6h0.8v0.8h-0.8zM166.1 441.8h0.8v0.8h-0.8zM166.3 434.3h0.8v0.8h-0.8zM164.4 444.3h0.8v0.8h-0.8zM162.1 447.4h0.8v0.8h-0.8zM164.0 437.7h0.8v0.8h-0.8zM162.8 443.9h0.8v0.8h-0.8zM168.2 439.1h0.8v0.8h-0.8zM166.4 439.8h0.8v0.8h-0.8zM160.9 436.7h0.8v0.8h-0.8zM167.0 439.2h0.8v0.8h-0.8zM164.9 449.2h0.8v0.8h-0.8zM168.0 439.4h0.8v0.8h-0.8zM163.3 442.6h0.8v0.8h-0.8zM156.5 444.5h0.8v0.8h-0.8zM161.6 444.8h0.8v0.8h-0.8zM161.6 439.7h0.8v0.8h-0.8zM167.3 444.4h0.8v0.8h-0.8zM170.9 439.1h0.8v0.8h-0.8zM162.0 448.5h0.8v0.8h-0.8zM166.3 435.8h0.8v0.8h-0.8zM162.5 443.3h0.8v0.8h-0.8zM162.5 434.4h0.8v0.8h-0.8zM164.4 443.4h0.8v0.8h-0.8zM169.0 446.5h0.8v0.8h-0.8zM167.2 437.4h0.8v0.8h-0.8zM159.8 436.5h0.8v0.8h-0.8zM166.3 445.5h0.8v0.8h-0.8zM157.3 443.9h0.8v0.8h-0.8zM167.5 448.5h0.8v0.8h-0.8zM167.0 445.8h0.8v0.8h-0.8zM165.1 439.9h0.8v0.8h-0.8zM163.7 441.0h0.8v0.8h-0.8zM160.0 440.7h0.8v0.8h-0.8zM167.9 439.7h0.8v0.8h-0.8zM168.8 437.1h0.8v0.8h-0.8zM165.8 437.5h0.8v0.8h-0.8zM168.1 444.6h0.8v0.8h-0.8zM167.7 445.1h0.8v0.8h-0.8zM166.0 446.5h0.8v0.8h-0.8zM164.9 429.6h0.8v0.8h-0.8zM164.7 443.7h0.8v0.8h-0.8zM155.7 446.8h0.8v0.8h-0.8zM163.9 446.1h0.8v0.8h-0.8zM163.1 442.1h0.8v0.8h-0.8zM161.1 440.1h0.8v0.8h-0.8zM158.4 442.4h0.8v0.8h-0.8zM162.7 438.1h0.8v0.8h-0.8zM161.4 436.5h0.8v0.8h-0.8zM164.0 440.6h0.8v0.8h-0.8zM163.0 447.6h0.8v0.8h-0.8zM160.1 439.1h0.8v0.8h-0.8zM159.2 439.9h0.8v0.8h-0.8zM163.4 432.5h0.8v0.8h-0.8zM165.4 431.4h0.8v0.8h-0.8zM162.1 439.7h0.8v0.8h-0.8zM159.2 447.5h0.8v0.8h-0.8zM164.7 434.8h0.8v0.8h-0.8zM165.4 442.9h0.8v0.8h-0.8zM162.0 437.1h0.8v0.8h-0.8zM167.5 452.0h0.8v0.8h-0.8zM164.9 451.2h0.8v0.8h-0.8zM157.7 433.2h0.8v0.8h-0.8zM164.4 438.0h0.8v0.8h-0.8zM165.0 449.9h0.8v0.8h-0.8zM160.2 443.1h0.8v0.8h-0.8zM163.9 434.9h0.8v0.8h-0.8zM163.2 435.6h0.8v0.8h-0.8zM163.1 448.1h0.8v0.8h-0.8zM167.9 446.1h0.8v0.8h-0.8zM164.6 438.6h0.8v0.8h-0.8zM171.8 441.1h0.8v0.8h-0.8zM165.7 446.1h0.8v0.8h-0.8zM163.5 443.4h0.8v0.8h-0.8zM163.9 442.8h0.8v0.8h-0.8zM167.4 434.7h0.8v0.8h-0.8zM164.4 438.5h0.8v0.8h-0.8zM163.3 442.8h0.8v0.8h-0.8z" fill="#666"/>
<path d="M168.7 428.8h0.9v0.9h-0.9zM161.0 431.9h0.9v0.9h-0.9zM155.9 430.7h0.9v0.9h-0.9zM157.4 432.4h0.9v0.9h-0.9zM161.2 436.4h0.9v0.9h-0.9zM160.4 436.7h0.9v0.9h-0.9zM161.4 433.0h0.9v0.9h-0.9zM158.5 429.2h0.9v0.9h-0.9zM152.8 432.3h0.9v0.9h-0.9zM158.7 433.8h0.9v0.9h-0.9zM160.8 428.1h0.9v0.9h-0.9zM156.4 428.6h0.9v0.9h-0.9zM163.5 432.2h0.9v0.9h-0.9zM159.8 429.4h0.9v0.9h-0.9zM154.0 430.5h0.9v0.9h-0.9zM158.9 434.2h0.9v0.9h-0.9zM153.0 433.7h0.9v0.9h-0.9zM155.7 430.7h0.9v0.9h-0.9zM157.9 431.0h0.9v0.9h-0.9zM161.2 435.7h0.9v0.9h-0.9zM160.7 430.6h0.9v0.9h-0.9zM161.0 433.9h0.9v0.9h-0.9zM162.9 433.5h0.9v0.9h-0.9zM152.6 429.9h0.9v0.9h-0.9zM157.6 435.8h0.9v0.9h-0.9zM158.7 435.8h0.9v0.9h-0.9zM160.5 428.3h0.9v0.9h-0.9zM159.5 434.5h0.9v0.9h-0.9zM161.0 427.3h0.9v0.9h-0.9zM161.1 430.5h0.9v0.9h-0.9zM150.6 430.5h0.9v0.9h-0.9zM151.1 428.0h0.9v0.9h-0.9zM165.3 441.3h0.9v0.9h-0.9zM163.7 434.1h0.9v0.9h-0.9zM167.2 433.8h0.9v0.9h-0.9zM155.2 423.8h0.9v0.9h-0.9zM163.1 424.5h0.9v0.9h-0.9zM147.4 430.2h0.9v0.9h-0.9zM159.6 429.5h0.9v0.9h-0.9zM163.6 432.2h0.9v0.9h-0.9zM160.2 434.1h0.9v0.9h-0.9zM156.9 433.3h0.9v0.9h-0.9zM169.0 429.2h0.9v0.9h-0.9zM160.0 434.4h0.9v0.9h-0.9zM157.1 432.4h0.9v0.9h-0.9zM152.2 431.0h0.9v0.9h-0.9zM159.5 436.6h0.9v0.9h-0.9zM163.3 430.5h0.9v0.9h-0.9zM154.7 439.1h0.9v0.9h-0.9zM163.1 425.8h0.9v0.9h-0.9zM157.9 429.4h0.9v0.9h-0.9zM156.8 426.5h0.9v0.9h-0.9zM157.6 430.8h0.9v0.9h-0.9zM158.4 436.3h0.9v0.9h-0.9zM160.3 428.2h0.9v0.9h-0.9zM152.1 430.7h0.9v0.9h-0.9zM164.2 436.0h0.9v0.9h-0.9zM156.9 436.8h0.9v0.9h-0.9zM161.2 430.5h0.9v0.9h-0.9zM161.2 432.4h0.9v0.9h-0.9zM154.7 431.1h0.9v0.9h-0.9zM160.1 437.4h0.9v0.9h-0.9zM155.1 433.5h0.9v0.9h-0.9zM159.5 432.5h0.9v0.9h-0.9zM154.3 437.2h0.9v0.9h-0.9zM164.9 438.4h0.9v0.9h-0.9zM161.4 438.0h0.9v0.9h-0.9zM161.7 436.3h0.9v0.9h-0.9zM158.1 433.5h0.9v0.9h-0.9zM158.1 428.9h0.9v0.9h-0.9zM157.6 428.6h0.9v0.9h-0.9zM154.8 431.3h0.9v0.9h-0.9zM156.9 440.2h0.9v0.9h-0.9zM167.0 436.6h0.9v0.9h-0.9zM162.8 429.6h0.9v0.9h-0.9zM160.7 427.5h0.9v0.9h-0.9zM156.8 431.0h0.9v0.9h-0.9zM157.9 435.8h0.9v0.9h-0.9zM156.2 441.4h0.9v0.9h-0.9zM157.3 435.8h0.9v0.9h-0.9zM152.8 436.0h0.9v0.9h-0.9zM154.3 433.4h0.9v0.9h-0.9zM159.5 435.7h0.9v0.9h-0.9zM162.1 434.1h0.9v0.9h-0.9zM158.9 439.8h0.9v0.9h-0.9zM157.6 432.8h0.9v0.9h-0.9zM157.5 433.2h0.9v0.9h-0.9zM155.4 431.2h0.9v0.9h-0.9zM161.6 430.6h0.9v0.9h-0.9zM161.5 430.6h0.9v0.9h-0.9zM165.5 432.2h0.9v0.9h-0.9zM166.9 434.5h0.9v0.9h-0.9zM159.0 436.2h0.9v0.9h-0.9zM164.4 438.3h0.9v0.9h-0.9zM165.4 436.0h0.9v0.9h-0.9zM154.6 436.1h0.9v0.9h-0.9zM159.1 434.2h0.9v0.9h-0.9zM164.9 430.1h0.9v0.9h-0.9zM165.2 441.4h0.9v0.9h-0.9zM161.9 431.6h0.9v0.9h-0.9zM165.3 433.4h0.9v0.9h-0.9zM164.0 437.3h0.9v0.9h-0.9zM153.1 433.9h0.9v0.9h-0.9zM153.1 430.2h0.9v0.9h-0.9zM162.1 428.4h0.9v0.9h-0.9zM156.5 431.1h0.9v0.9h-0.9zM160.8 434.0h0.9v0.9h-0.9zM161.4 430.9h0.9v0.9h-0.9zM156.3 434.2h0.9v0.9h-0.9zM155.8 429.8h0.9v0.9h-0.9zM162.4 429.8h0.9v0.9h-0.9zM155.7 436.8h0.9v0.9h-0.9zM159.3 424.6h0.9v0.9h-0.9zM156.3 439.8h0.9v0.9h-0.9zM171.5 431.6h0.9v0.9h-0.9zM162.4 435.4h0.9v0.9h-0.9zM160.8 426.1h0.9v0.9h-0.9zM163.7 433.7h0.9v0.9h-0.9zM158.5 426.8h0.9v0.9h-0.9zM156.8 432.3h0.9v0.9h-0.9zM158.4 433.5h0.9v0.9h-0.9zM157.8 436.3h0.9v0.9h-0.9zM162.1 428.5h0.9v0.9h-0.9zM156.9 434.2h0.9v0.9h-0.9zM157.1 437.7h0.9v0.9h-0.9zM157.2 433.5h0.9v0.9h-0.9zM162.0 428.6h0.9v0.9h-0.9zM164.7 431.9h0.9v0.9h-0.9zM156.4 430.1h0.9v0.9h-0.9zM152.3 427.7h0.9v0.9h-0.9zM165.7 432.2h0.9v0.9h-0.9zM158.2 433.3h0.9v0.9h-0.9zM161.8 429.8h0.9v0.9h-0.9zM158.5 433.6h0.9v0.9h-0.9zM163.7 433.6h0.9v0.9h-0.9zM166.4 431.9h0.9v0.9h-0.9zM158.0 427.6h0.9v0.9h-0.9zM159.2 435.0h0.9v0.9h-0.9zM158.4 432.0h0.9v0.9h-0.9zM155.3 430.5h0.9v0.9h-0.9zM157.5 432.3h0.9v0.9h-0.9zM163.9 434.5h0.9v0.9h-0.9zM163.3 436.9h0.9v0.9h-0.9zM157.5 437.5h0.9v0.9h-0.9zM159.6 427.9h0.9v0.9h-0.9zM156.9 432.3h0.9v0.9h-0.9zM152.9 440.9h0.9v0.9h-0.9zM159.2 435.7h0.9v0.9h-0.9zM154.3 433.0h0.9v0.9h-0.9zM160.5 429.9h0.9v0.9h-0.9zM160.5 432.6h0.9v0.9h-0.9zM161.0 428.3h0.9v0.9h-0.9zM161.6 431.6h0.9v0.9h-0.9zM155.8 424.7h0.9v0.9h-0.9zM158.6 431.3h0.9v0.9h-0.9zM169.4 428.3h0.9v0.9h-0.9zM165.6 437.1h0.9v0.9h-0.9zM161.1 433.5h0.9v0.9h-0.9zM161.5 427.3h0.9v0.9h-0.9zM165.3 431.4h0.9v0.9h-0.9zM156.3 432.6h0.9v0.9h-0.9zM147.8 427.8h0.9v0.9h-0.9zM154.4 426.9h0.9v0.9h-0.9zM161.8 438.3h0.9v0.9h-0.9zM159.4 431.4h0.9v0.9h-0.9zM160.7 430.8h0.9v0.9h-0.9zM159.9 434.1h0.9v0.9h-0.9zM158.4 431.1h0.9v0.9h-0.9zM159.6 432.8h0.9v0.9h-0.9zM162.2 427.1h0.9v0.9h-0.9zM154.6 430.8h0.9v0.9h-0.9zM161.4 427.9h0.9v0.9h-0.9zM164.4 437.7h0.9v0.9h-0.9zM156.2 436.6h0.9v0.9h-0.9zM150.5 432.2h0.9v0.9h-0.9zM152.5 436.4h0.9v0.9h-0.9zM162.8 434.4h0.9v0.9h-0.9zM156.8 428.5h0.9v0.9h-0.9zM161.0 430.7h0.9v0.9h-0.9zM162.1 426.8h0.9v0.9h-0.9zM161.0 434.3h0.9v0.9h-0.9zM149.7 427.9h0.9v0.9h-0.9zM156.2 430.3h0.9v0.9h-0.9zM152.0 432.5h0.9v0.9h-0.9zM154.4 432.2h0.9v0.9h-0.9zM151.5 428.2h0.9v0.9h-0.9zM162.1 426.3h0.9v0.9h-0.9zM159.0 437.6h0.9v0.9h-0.9zM162.6 427.7h0.9v0.9h-0.9zM168.5 430.4h0.9v0.9h-0.9zM163.1 435.9h0.9v0.9h-0.9zM157.8 434.7h0.9v0.9h-0.9zM147.6 432.7h0.9v0.9h-0.9zM159.8 431.2h0.9v0.9h-0.9zM159.7 436.3h0.9v0.9h-0.9zM163.1 430.2h0.9v0.9h-0.9zM162.5 436.6h0.9v0.9h-0.9zM159.6 433.8h0.9v0.9h-0.9zM148.9 426.7h0.9v0.9h-0.9zM160.7 427.0h0.9v0.9h-0.9zM162.7 436.6h0.9v0.9h-0.9zM155.0 428.2h0.9v0.9h-0.9zM158.3 433.2h0.9v0.9h-0.9zM162.6 431.6h0.9v0.9h-0.9zM159.3 428.8h0.9v0.9h-0.9zM160.3 429.6h0.9v0.9h-0.9zM163.3 434.9h0.9v0.9h-0.9zM152.2 433.6h0.9v0.9h-0.9zM154.5 435.8h0.9v0.9h-0.9zM154.7 436.9h0.9v0.9h-0.9zM163.6 439.4h0.9v0.9h-0.9zM160.5 432.5h0.9v0.9h-0.9zM164.2 427.9h0.9v0.9h-0.9zM158.9 431.2h0.9v0.9h-0.9zM158.8 426.6h0.9v0.9h-0.9zM152.0 426.2h0.9v0.9h-0.9zM165.2 431.1h0.9v0.9h-0.9zM161.7 431.9h0.9v0.9h-0.9zM158.1 437.0h0.9v0.9h-0.9zM149.3 431.5h0.9v0.9h-0.9zM155.8 429.0h0.9v0.9h-0.9zM152.3 426.8h0.9v0.9h-0.9zM154.0 436.3h0.9v0.9h-0.9zM156.2 430.6h0.9v0.9h-0.9zM158.3 434.6h0.9v0.9h-0.9zM163.4 433.0h0.9v0.9h-0.9zM159.1 434.2h0.9v0.9h-0.9zM155.7 433.1h0.9v0.9h-0.9zM166.1 430.0h0.9v0.9h-0.9zM155.5 426.8h0.9v0.9h-0.9zM159.3 434.6h0.9v0.9h-0.9zM157.3 431.2h0.9v0.9h-0.9zM164.0 432.4h0.9v0.9h-0.9zM162.0 431.0h0.9v0.9h-0.9zM164.5 435.6h0.9v0.9h-0.9zM158.5 430.2h0.9v0.9h-0.9zM169.7 428.5h0.9v0.9h-0.9zM155.0 423.4h0.9v0.9h-0.9zM162.0 432.6h0.9v0.9h-0.9zM158.7 426.9h0.9v0.9h-0.9zM159.2 429.5h0.9v0.9h-0.9zM154.2 431.5h0.9v0.9h-0.9zM160.4 431.9h0.9v0.9h-0.9zM157.0 435.0h0.9v0.9h-0.9zM160.1 431.1h0.9v0.9h-0.9zM161.5 433.5h0.9v0.9h-0.9zM162.9 435.4h0.9v0.9h-0.9zM162.2 430.3h0.9v0.9h-0.9zM164.6 436.0h0.9v0.9h-0.9zM156.9 436.9h0.9v0.9h-0.9zM159.5 428.8h0.9v0.9h-0.9zM159.0 427.8h0.9v0.9h-0.9zM163.8 427.9h0.9v0.9h-0.9zM165.3 429.3h0.9v0.9h-0.9zM158.6 437.0h0.9v0.9h-0.9zM160.6 426.6h0.9v0.9h-0.9zM158.6 425.9h0.9v0.9h-0.9zM162.0 428.8h0.9v0.9h-0.9zM158.8 432.0h0.9v0.9h-0.9zM152.9 433.6h0.9v0.9h-0.9zM166.6 429.2h0.9v0.9h-0.9zM156.8 433.8h0.9v0.9h-0.9zM164.2 429.3h0.9v0.9h-0.9zM160.0 433.7h0.9v0.9h-0.9zM163.6 429.5h0.9v0.9h-0.9zM169.4 439.7h0.9v0.9h-0.9zM153.6 429.6h0.9v0.9h-0.9zM160.7 430.2h0.9v0.9h-0.9zM157.0 432.5h0.9v0.9h-0.9zM156.2 430.3h0.9v0.9h-0.9zM160.1 431.1h0.9v0.9h-0.9zM160.7 436.2h0.9v0.9h-0.9zM163.9 432.8h0.9v0.9h-0.9zM167.8 431.1h0.9v0.9h-0.9zM163.0 439.0h0.9v0.9h-0.9zM160.1 435.4h0.9v0.9h-0.9zM157.3 430.5h0.9v0.9h-0.9zM160.1 434.3h0.9v0.9h-0.9zM160.8 434.9h0.9v0.9h-0.9zM160.6 432.2h0.9v0.9h-0.9zM156.8 432.2h0.9v0.9h-0.9zM159.5 432.5h0.9v0.9h-0.9zM154.9 437.1h0.9v0.9h-0.9zM163.9 433.4h0.9v0.9h-0.9zM157.4 436.5h0.9v0.9h-0.9zM158.4 431.7h0.9v0.9h-0.9zM161.8 430.7h0.9v0.9h-0.9zM159.9 430.9h0.9v0.9h-0.9zM161.9 434.1h0.9v0.9h-0.9zM162.3 434.2h0.9v0.9h-0.9zM160.7 434.0h0.9v0.9h-0.9zM162.7 429.3h0.9v0.9h-0.9zM154.6 432.9h0.9v0.9h-0.9zM160.1 431.8h0.9v0.9h-0.9zM165.6 434.3h0.9v0.9h-0.9zM164.6 433.0h0.9v0.9h-0.9zM153.8 427.8h0.9v0.9h-0.9zM163.9 432.8h0.9v0.9h-0.9zM157.5 437.2h0.9v0.9h-0.9zM166.5 434.0h0.9v0.9h-0.9zM164.7 431.6h0.9v0.9h-0.9zM155.6 426.9h0.9v0.9h-0.9zM163.9 427.3h0.9v0.9h-0.9zM157.8 432.9h0.9v0.9h-0.9zM161.8 426.1h0.9v0.9h-0.9zM158.5 429.8h0.9v0.9h-0.9zM165.4 432.0h0.9v0.9h-0.9zM156.8 438.6h0.9v0.9h-0.9zM160.1 435.4h0.9v0.9h-0.9zM160.8 432.1h0.9v0.9h-0.9zM162.5 430.2h0.9v0.9h-0.9zM153.8 430.4h0.9v0.9h-0.9zM162.0 431.3h0.9v0.9h-0.9zM163.8 435.2h0.9v0.9h-0.9zM160.3 436.5h0.9v0.9h-0.9zM161.0 433.8h0.9v0.9h-0.9zM158.4 432.3h0.9v0.9h-0.9zM159.2 436.3h0.9v0.9h-0.9zM165.9 436.5h0.9v0.9h-0.9zM160.5 432.3h0.9v0.9h-0.9zM160.5 430.7h0.9v0.9h-0.9zM159.4 431.5h0.9v0.9h-0.9zM159.3 424.4h0.9v0.9h-0.9zM159.5 435.0h0.9v0.9h-0.9zM155.1 438.8h0.9v0.9h-0.9zM160.1 430.7h0.9v0.9h-0.9zM165.2 429.4h0.9v0.9h-0.9zM170.5 430.2h0.9v0.9h-0.9zM163.3 437.7h0.9v0.9h-0.9zM162.3 433.2h0.9v0.9h-0.9zM156.6 432.2h0.9v0.9h-0.9zM160.4 436.1h0.9v0.9h-0.9zM150.5 434.8h0.9v0.9h-0.9zM154.9 430.6h0.9v0.9h-0.9zM159.1 430.5h0.9v0.9h-0.9zM161.9 427.0h0.9v0.9h-0.9zM161.4 429.2h0.9v0.9h-0.9zM158.0 432.4h0.9v0.9h-0.9zM153.8 434.1h0.9v0.9h-0.9zM168.1 430.4h0.9v0.9h-0.9zM155.8 437.9h0.9v0.9h-0.9zM166.2 425.6h0.9v0.9h-0.9zM158.0 429.9h0.9v0.9h-0.9zM160.1 432.3h0.9v0.9h-0.9zM155.4 431.2h0.9v0.9h-0.9zM163.9 429.4h0.9v0.9h-0.9zM160.4 434.9h0.9v0.9h-0.9zM166.4 434.2h0.9v0.9h-0.9zM160.4 429.4h0.9v0.9h-0.9zM160.5 437.3h0.9v0.9h-0.9zM161.3 436.9h0.9v0.9h-0.9zM157.6 435.4h0.9v0.9h-0.9zM158.5 430.3h0.9v0.9h-0.9zM157.0 436.8h0.9v0.9h-0.9zM161.8 432.1h0.9v0.9h-0.9zM158.4 435.5h0.9v0.9h-0.9zM157.7 436.6h0.9v0.9h-0.9zM160.7 430.7h0.9v0.9h-0.9zM158.7 429.0h0.9v0.9h-0.9zM155.1 430.9h0.9v0.9h-0.9zM157.5 431.4h0.9v0.9h-0.9zM156.4 430.4h0.9v0.9h-0.9zM160.8 428.1h0.9v0.9h-0.9zM149.2 438.6h0.9v0.9h-0.9zM159.9 433.3h0.9v0.9h-0.9zM164.2 436.7h0.9v0.9h-0.9zM165.3 436.0h0.9v0.9h-0.9zM162.6 434.4h0.9v0.9h-0.9zM159.0 432.3h0.9v0.9h-0.9zM144.9 438.4h0.9v0.9h-0.9zM159.0 429.3h0.9v0.9h-0.9zM164.2 430.3h0.9v0.9h-0.9zM161.0 429.7h0.9v0.9h-0.9zM154.8 436.6h0.9v0.9h-0.9zM160.0 427.3h0.9v0.9h-0.9zM162.2 435.9h0.9v0.9h-0.9zM158.3 435.2h0.9v0.9h-0.9zM164.8 436.8h0.9v0.9h-0.9zM162.1 435.4h0.9v0.9h-0.9zM166.1 433.5h0.9v0.9h-0.9zM158.4 431.8h0.9v0.9h-0.9zM172.6 429.2h0.9v0.9h-0.9zM159.6 426.3h0.9v0.9h-0.9zM159.3 432.1h0.9v0.9h-0.9zM159.2 435.4h0.9v0.9h-0.9zM165.5 433.5h0.9v0.9h-0.9zM156.3 430.9h0.9v0.9h-0.9zM159.6 430.2h0.9v0.9h-0.9zM159.2 434.5h0.9v0.9h-0.9zM160.4 439.8h0.9v0.9h-0.9zM152.8 433.2h0.9v0.9h-0.9zM163.8 428.9h0.9v0.9h-0.9zM152.5 440.0h0.9v0.9h-0.9zM163.4 434.6h0.9v0.9h-0.9zM164.4 429.2h0.9v0.9h-0.9zM154.8 438.2h0.9v0.9h-0.9zM159.9 427.0h0.9v0.9h-0.9zM158.9 438.2h0.9v0.9h-0.9zM155.1 427.1h0.9v0.9h-0.9zM150.0 432.1h0.9v0.9h-0.9zM159.1 430.4h0.9v0.9h-0.9zM157.2 431.7h0.9v0.9h-0.9zM156.8 430.7h0.9v0.9h-0.9zM163.4 432.8h0.9v0.9h-0.9zM161.6 426.2h0.9v0.9h-0.9zM155.7 436.2h0.9v0.9h-0.9zM160.0 436.3h0.9v0.9h-0.9zM153.5 434.9h0.9v0.9h-0.9zM157.1 432.7h0.9v0.9h-0.9zM156.6 429.3h0.9v0.9h-0.9zM155.1 432.2h0.9v0.9h-0.9zM163.7 428.9h0.9v0.9h-0.9zM157.0 429.2h0.9v0.9h-0.9zM156.0 435.0h0.9v0.9h-0.9zM157.7 429.3h0.9v0.9h-0.9zM162.3 433.9h0.9v0.9h-0.9zM160.9 433.2h0.9v0.9h-0.9zM157.0 435.5h0.9v0.9h-0.9zM156.9 433.5h0.9v0.9h-0.9zM160.1 436.7h0.9v0.9h-0.9zM158.8 435.5h0.9v0.9h-0.9zM152.5 433.1h0.9v0.9h-0.9zM160.2 433.0h0.9v0.9h-0.9zM151.2 435.3h0.9v0.9h-0.9zM156.9 430.3h0.9v0.9h-0.9zM165.8 431.9h0.9v0.9h-0.9zM163.3 426.6h0.9v0.9h-0.9zM162.3 433.4h0.9v0.9h-0.9zM160.7 429.3h0.9v0.9h-0.9zM160.9 432.0h0.9v0.9h-0.9zM165.0 430.9h0.9v0.9h-0.9zM152.9 436.4h0.9v0.9h-0.9zM155.1 431.9h0.9v0.9h-0.9zM162.5 438.6h0.9v0.9h-0.9zM161.8 435.2h0.9v0.9h-0.9zM160.2 433.1h0.9v0.9h-0.9zM159.2 433.8h0.9v0.9h-0.9zM155.8 433.4h0.9v0.9h-0.9zM164.3 433.3h0.9v0.9h-0.9zM158.9 435.3h0.9v0.9h-0.9zM155.9 432.0h0.9v0.9h-0.9zM168.7 435.6h0.9v0.9h-0.9zM162.6 432.3h0.9v0.9h-0.9zM156.6 428.8h0.9v0.9h-0.9zM159.6 437.3h0.9v0.9h-0.9zM159.3 435.7h0.9v0.9h-0.9zM158.4 433.1h0.9v0.9h-0.9zM161.1 443.1h0.9v0.9h-0.9zM160.1 429.6h0.9v0.9h-0.9zM163.4 432.7h0.9v0.9h-0.9zM161.8 430.2h0.9v0.9h-0.9zM163.2 430.4h0.9v0.9h-0.9zM161.2 431.4h0.9v0.9h-0.9zM156.6 434.8h0.9v0.9h-0.9zM161.3 425.7h0.9v0.9h-0.9zM162.4 435.6h0.9v0.9h-0.9zM160.3 434.0h0.9v0.9h-0.9zM160.7 433.8h0.9v0.9h-0.9zM158.2 436.4h0.9v0.9h-0.9zM164.6 429.8h0.9v0.9h-0.9zM159.9 429.6h0.9v0.9h-0.9zM157.7 436.1h0.9v0.9h-0.9zM159.7 433.5h0.9v0.9h-0.9zM158.1 441.0h0.9v0.9h-0.9zM164.3 434.1h0.9v0.9h-0.9zM160.4 438.9h0.9v0.9h-0.9zM164.5 433.8h0.9v0.9h-0.9zM158.9 428.8h0.9v0.9h-0.9zM165.1 438.7h0.9v0.9h-0.9zM169.1 433.8h0.9v0.9h-0.9zM163.2 426.0h0.9v0.9h-0.9zM162.3 430.2h0.9v0.9h-0.9zM156.3 429.9h0.9v0.9h-0.9zM156.1 431.0h0.9v0.9h-0.9zM161.8 430.4h0.9v0.9h-0.9zM158.1 432.3h0.9v0.9h-0.9zM167.8 435.5h0.9v0.9h-0.9zM157.1 435.5h0.9v0.9h-0.9zM166.3 432.3h0.9v0.9h-0.9zM162.5 436.5h0.9v0.9h-0.9zM153.9 433.3h0.9v0.9h-0.9zM159.1 435.7h0.9v0.9h-0.9zM164.9 431.1h0.9v0.9h-0.9zM153.5 431.1h0.9v0.9h-0.9zM159.6 430.5h0.9v0.9h-0.9zM160.6 428.8h0.9v0.9h-0.9zM161.7 435.3h0.9v0.9h-0.9zM167.7 432.4h0.9v0.9h-0.9zM163.7 430.4h0.9v0.9h-0.9zM156.8 430.1h0.9v0.9h-0.9zM159.1 428.4h0.9v0.9h-0.9zM152.4 440.5h0.9v0.9h-0.9zM158.4 432.8h0.9v0.9h-0.9zM160.3 431.3h0.9v0.9h-0.9zM158.7 436.7h0.9v0.9h-0.9zM160.7 436.6h0.9v0.9h-0.9zM154.8 434.4h0.9v0.9h-0.9zM155.9 428.3h0.9v0.9h-0.9zM162.5 433.6h0.9v0.9h-0.9zM162.4 435.0h0.9v0.9h-0.9z" fill="#222"/>
<ellipse cx="159.8" cy="432.8" rx="5.6" ry="5.2" fill="#000" stroke="none" stroke-width="1" filter="url(#bl)" transform="rotate(35 159.8 432.8)"/>
<ellipse cx="160" cy="434.4" rx="15.2" ry="12.4" fill="none" stroke="#555" stroke-width="1" transform="rotate(20 160 434.4)"/>
<rect x="132.5" y="422.5" width="13" height="7" fill="#fff" stroke="none" stroke-width="1" />
<text x="138.7" y="428.6" font-size="7.5" text-anchor="middle" fill="#2a2a2a" >91.8</text>
<line x1="11.1" y1="500.3" x2="11.1" y2="487" stroke="#111" stroke-width="1.1" />
<path d="M11.1,481.6 L14.1,488 L8.1,488 Z" stroke="#111" stroke-width="0.3" fill="#111" />
<line x1="11.1" y1="500.3" x2="25.1" y2="500.3" stroke="#111" stroke-width="1.1" />
<path d="M31.6,500.3 L25.1,497.3 L25.1,503.3 Z" stroke="#111" stroke-width="0.3" fill="#111" />
<text x="34.7" y="503.8" font-size="9.4" textLength="19" lengthAdjust="spacingAndGlyphs" fill="#2a2a2a" class="c">CD11b</text>
<line x1="102.4" y1="500.3" x2="102.4" y2="487" stroke="#111" stroke-width="1.1" />
<path d="M102.4,481.6 L105.4,488 L99.4,488 Z" stroke="#111" stroke-width="0.3" fill="#111" />
<line x1="102.4" y1="500.3" x2="116.4" y2="500.3" stroke="#111" stroke-width="1.1" />
<path d="M122.9,500.3 L116.4,497.3 L116.4,503.3 Z" stroke="#111" stroke-width="0.3" fill="#111" />
<text x="126.7" y="503.8" font-size="9.4" textLength="12.7" lengthAdjust="spacingAndGlyphs" fill="#2a2a2a" class="c">Ly6C</text>
<text class="c" transform="translate(15,470) rotate(-90)" font-size="9.4" text-anchor="middle" textLength="15" lengthAdjust="spacingAndGlyphs" fill="#2a2a2a">Dead</text>
<text class="c" transform="translate(103.4,470.5) rotate(-90)" font-size="9.4" text-anchor="middle" textLength="11" lengthAdjust="spacingAndGlyphs" fill="#2a2a2a">Gr1</text>
<text x="198.7" y="410.7" font-size="11" font-weight="bold" fill="#000" >H</text>
<rect x="197.7" y="415.7" width="140" height="44.9" fill="#dcdcdc" stroke="#222" stroke-width="1.1" />
<rect x="200.2" y="418.8" width="78.3" height="38.3" fill="#a9a9a9" stroke="#222" stroke-width="1.1" />
<line x1="200.2" y1="439.8" x2="278.5" y2="439.8" stroke="#222" stroke-width="1.1" />
<line x1="206.3" y1="432.7" x2="206.3" y2="453.5" stroke="#a8173c" stroke-width="1.8" />
<line x1="226.2" y1="432.7" x2="226.2" y2="453.5" stroke="#a8173c" stroke-width="1.8" />
<line x1="218.8" y1="432.7" x2="218.8" y2="453.5" stroke="#3b5a8a" stroke-width="1.6" stroke-dasharray="2.2,1.6"/>
<line x1="238.7" y1="434.4" x2="238.7" y2="445.4" stroke="#6fb043" stroke-width="1.5" />
<line x1="249.2" y1="434.4" x2="249.2" y2="445.4" stroke="#6fb043" stroke-width="1.5" />
<line x1="261.2" y1="434.4" x2="261.2" y2="445.4" stroke="#6fb043" stroke-width="1.5" />
<line x1="271.2" y1="434.4" x2="271.2" y2="445.4" stroke="#6fb043" stroke-width="1.5" />
<text x="205.5" y="429.6" font-size="7.5" text-anchor="middle" fill="#2a2a2a" >-7</text>
<text x="218.8" y="429.6" font-size="7.5" text-anchor="middle" fill="#2a2a2a" >0</text>
<text x="225.6" y="429.6" font-size="7.5" text-anchor="middle" fill="#2a2a2a" >1</text>
<text x="239" y="452.3" font-size="7.5" text-anchor="middle" fill="#2a2a2a" >7</text>
<text x="249.2" y="452.3" font-size="7.5" text-anchor="middle" fill="#2a2a2a" >10</text>
<text x="261.5" y="452.3" font-size="7.5" text-anchor="middle" fill="#2a2a2a" >13</text>
<text x="272.3" y="452.3" font-size="7.5" text-anchor="middle" fill="#2a2a2a" >16</text>
<line x1="282" y1="423.3" x2="291.5" y2="423.3" stroke="#a8173c" stroke-width="1.6" />
<text x="294.3" y="426" font-size="7.8" textLength="30" lengthAdjust="spacingAndGlyphs" fill="#2a2a2a" >ECDI-SP</text>
<line x1="282" y1="434.4" x2="291.5" y2="434.4" stroke="#2c3f66" stroke-width="1.6" stroke-dasharray="2.6,1.8"/>
<text x="294.3" y="437.1" font-size="7.8" textLength="40.5" lengthAdjust="spacingAndGlyphs" fill="#2a2a2a" >Transplant +</text>
<text x="297.2" y="446.6" font-size="7.8" textLength="22.8" lengthAdjust="spacingAndGlyphs" fill="#2a2a2a" >Δm157</text>
<line x1="282" y1="453.1" x2="291.5" y2="453.1" stroke="#79b653" stroke-width="1.6" />
<text x="294.3" y="455.8" font-size="7.8" textLength="36.5" lengthAdjust="spacingAndGlyphs" fill="#2a2a2a" >Gr1<tspan font-size="5.15" dy="-3.12">HI</tspan><tspan dy="3.12"> cells</tspan></text>
<line x1="381.8" y1="426" x2="381.8" y2="478.8" stroke="#1a1a1a" stroke-width="1.3" />
<line x1="381.4" y1="477" x2="503.5" y2="477" stroke="#1a1a1a" stroke-width="1.2" />
<line x1="379.2" y1="477.0" x2="381.9" y2="477.0" stroke="#1a1a1a" stroke-width="1.1" />
<text x="374.9" y="479.7" font-size="7.9" text-anchor="end" fill="#2a2a2a" >0</text>
<line x1="379.2" y1="465.1" x2="381.9" y2="465.1" stroke="#1a1a1a" stroke-width="1.1" />
<text x="374.9" y="467.8" font-size="7.9" text-anchor="end" fill="#2a2a2a" >25</text>
<line x1="379.2" y1="453.2" x2="381.9" y2="453.2" stroke="#1a1a1a" stroke-width="1.1" />
<text x="374.9" y="455.9" font-size="7.9" text-anchor="end" fill="#2a2a2a" >50</text>
<line x1="379.2" y1="441.3" x2="381.9" y2="441.3" stroke="#1a1a1a" stroke-width="1.1" />
<text x="374.9" y="444.0" font-size="7.9" text-anchor="end" fill="#2a2a2a" >75</text>
<line x1="379.2" y1="429.4" x2="381.9" y2="429.4" stroke="#1a1a1a" stroke-width="1.1" />
<text x="374.9" y="432.09999999999997" font-size="7.9" text-anchor="end" fill="#2a2a2a" >100</text>
<line x1="381.5" y1="477" x2="381.5" y2="479.8" stroke="#1a1a1a" stroke-width="1.1" />
<text x="381.5" y="491" font-size="7.4" text-anchor="middle" fill="#2a2a2a" >0</text>
<line x1="405.44" y1="477" x2="405.44" y2="479.8" stroke="#1a1a1a" stroke-width="1.1" />
<text x="405.44" y="491" font-size="7.4" text-anchor="middle" fill="#2a2a2a" >10</text>
<line x1="429.38" y1="477" x2="429.38" y2="479.8" stroke="#1a1a1a" stroke-width="1.1" />
<text x="429.38" y="491" font-size="7.4" text-anchor="middle" fill="#2a2a2a" >20</text>
<line x1="453.32" y1="477" x2="453.32" y2="479.8" stroke="#1a1a1a" stroke-width="1.1" />
<text x="453.32" y="491" font-size="7.4" text-anchor="middle" fill="#2a2a2a" >30</text>
<line x1="477.26" y1="477" x2="477.26" y2="479.8" stroke="#1a1a1a" stroke-width="1.1" />
<text x="477.26" y="491" font-size="7.4" text-anchor="middle" fill="#2a2a2a" >40</text>
<line x1="501.2" y1="477" x2="501.2" y2="479.8" stroke="#1a1a1a" stroke-width="1.1" />
<text x="501.2" y="491" font-size="7.4" text-anchor="middle" fill="#2a2a2a" >50</text>
<text x="443.5" y="504.3" font-size="9" text-anchor="middle" textLength="62" lengthAdjust="spacingAndGlyphs" fill="#2a2a2a" class="c">Days post transplant</text>
<text class="c" transform="translate(355.3,451.6) rotate(-90)" font-size="9" text-anchor="middle" textLength="48.3" lengthAdjust="spacingAndGlyphs" fill="#2a2a2a">Percent survival</text>
<path d="M381.9,429.4 H415 V461.4 H419.8 V477" stroke="#2b4468" stroke-width="1.4" fill="none" />
<path d="M381.9,429.4 H419.8 V441.2 H424.6 V453.1 H453.3 V464.9 H501.2" stroke="#a8173c" stroke-width="1.5" fill="none" />
<line x1="412.7" y1="459.09999999999997" x2="417.3" y2="463.7" stroke="#2b4468" stroke-width="1.3" />
<line x1="412.7" y1="463.7" x2="417.3" y2="459.09999999999997" stroke="#2b4468" stroke-width="1.3" />
<line x1="417.5" y1="474.7" x2="422.1" y2="479.3" stroke="#2b4468" stroke-width="1.3" />
<line x1="417.5" y1="479.3" x2="422.1" y2="474.7" stroke="#2b4468" stroke-width="1.3" />
<rect x="417.40000000000003" y="438.8" width="4.8" height="4.8" fill="#a8173c" stroke="none" stroke-width="1" />
<rect x="422.20000000000005" y="450.70000000000005" width="4.8" height="4.8" fill="#a8173c" stroke="none" stroke-width="1" />
<rect x="450.90000000000003" y="462.5" width="4.8" height="4.8" fill="#a8173c" stroke="none" stroke-width="1" />
<rect x="498.8" y="462.5" width="4.8" height="4.8" fill="#a8173c" stroke="none" stroke-width="1" />
<line x1="379.6" y1="409.2" x2="389.1" y2="409.2" stroke="#2b4468" stroke-width="1.3" />
<line x1="382.0" y1="407.0" x2="386.4" y2="411.4" stroke="#2b4468" stroke-width="1.2" />
<line x1="382.0" y1="411.4" x2="386.4" y2="407.0" stroke="#2b4468" stroke-width="1.2" />
<line x1="379.6" y1="418.1" x2="389.1" y2="418.1" stroke="#a8173c" stroke-width="1.3" />
<rect x="381.8" y="415.7" width="4.8" height="4.8" fill="#a8173c" stroke="none" stroke-width="1" />
<text x="393.4" y="411.8" font-size="7.4" textLength="55" lengthAdjust="spacingAndGlyphs" fill="#2a2a2a" >(+) Δm157 (N=3)</text>
<text x="393.4" y="420.7" font-size="7.4" textLength="103.2" lengthAdjust="spacingAndGlyphs" fill="#2a2a2a" >(+) Δm157 + Gr1<tspan font-size="4.88" dy="-2.96">HI</tspan><tspan dy="2.96"> cells (N=4)</tspan></text>
<path d="M500.8,407.8 H503.8 V420.3 H500.8" stroke="#1a1a1a" stroke-width="1.1" fill="none" />
<circle cx="508.9" cy="412.3" r="0.85" fill="#333" stroke="none" stroke-width="1" />
</svg>
</body></html>
